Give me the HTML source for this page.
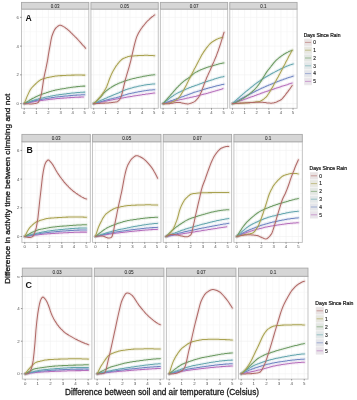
<!DOCTYPE html><html><head><meta charset="utf-8"><style>html,body{margin:0;padding:0;background:#fff;}svg{display:block;filter:blur(0.3px);}</style></head><body>
<svg width="357" height="400" viewBox="0 0 357 400" font-family='"Liberation Sans", sans-serif'>
<rect x="0" y="0" width="357" height="400" fill="#ffffff"/>
<clipPath id="cA0"><rect x="21.50" y="9.10" width="67.30" height="99.20"/></clipPath>
<line x1="24.25" y1="9.10" x2="24.25" y2="108.30" stroke="#F0F0F0" stroke-width="0.6"/><line x1="30.30" y1="9.10" x2="30.30" y2="108.30" stroke="#F6F6F6" stroke-width="0.6"/><line x1="36.35" y1="9.10" x2="36.35" y2="108.30" stroke="#F0F0F0" stroke-width="0.6"/><line x1="42.40" y1="9.10" x2="42.40" y2="108.30" stroke="#F6F6F6" stroke-width="0.6"/><line x1="48.45" y1="9.10" x2="48.45" y2="108.30" stroke="#F0F0F0" stroke-width="0.6"/><line x1="54.50" y1="9.10" x2="54.50" y2="108.30" stroke="#F6F6F6" stroke-width="0.6"/><line x1="60.55" y1="9.10" x2="60.55" y2="108.30" stroke="#F0F0F0" stroke-width="0.6"/><line x1="66.60" y1="9.10" x2="66.60" y2="108.30" stroke="#F6F6F6" stroke-width="0.6"/><line x1="72.65" y1="9.10" x2="72.65" y2="108.30" stroke="#F0F0F0" stroke-width="0.6"/><line x1="78.70" y1="9.10" x2="78.70" y2="108.30" stroke="#F6F6F6" stroke-width="0.6"/><line x1="84.75" y1="9.10" x2="84.75" y2="108.30" stroke="#F0F0F0" stroke-width="0.6"/><line x1="21.50" y1="103.60" x2="88.80" y2="103.60" stroke="#F0F0F0" stroke-width="0.6"/><line x1="21.50" y1="89.22" x2="88.80" y2="89.22" stroke="#F6F6F6" stroke-width="0.6"/><line x1="21.50" y1="74.85" x2="88.80" y2="74.85" stroke="#F0F0F0" stroke-width="0.6"/><line x1="21.50" y1="60.47" x2="88.80" y2="60.47" stroke="#F6F6F6" stroke-width="0.6"/><line x1="21.50" y1="46.10" x2="88.80" y2="46.10" stroke="#F0F0F0" stroke-width="0.6"/><line x1="21.50" y1="31.72" x2="88.80" y2="31.72" stroke="#F6F6F6" stroke-width="0.6"/><line x1="21.50" y1="17.35" x2="88.80" y2="17.35" stroke="#F0F0F0" stroke-width="0.6"/>
<g clip-path="url(#cA0)" fill="none" stroke-linecap="round" stroke-linejoin="round">
<path d="M24.2 103.6 L25.1 103.4 L26.0 103.2 L26.8 103.1 L27.7 102.9 L28.5 102.7 L29.4 102.5 L30.3 102.4 L31.1 102.2 L32.0 102.0 L32.8 101.9 L33.7 101.7 L34.6 101.6 L35.4 101.4 L36.3 101.3 L37.1 101.1 L38.0 101.0 L38.9 100.9 L39.7 100.7 L40.6 100.6 L41.4 100.5 L42.3 100.4 L43.2 100.2 L44.0 100.1 L44.9 100.0 L45.7 99.9 L46.6 99.8 L47.5 99.7 L48.3 99.6 L49.2 99.5 L50.0 99.3 L50.9 99.2 L51.7 99.1 L52.6 99.1 L53.5 99.0 L54.3 98.9 L55.2 98.8 L56.0 98.7 L56.9 98.6 L57.8 98.5 L58.6 98.5 L59.5 98.4 L60.3 98.3 L61.2 98.3 L62.1 98.2 L62.9 98.1 L63.8 98.1 L64.6 98.0 L65.5 98.0 L66.4 97.9 L67.2 97.8 L68.1 97.8 L68.9 97.7 L69.8 97.6 L70.7 97.6 L71.5 97.5 L72.4 97.5 L73.2 97.4 L74.1 97.4 L74.9 97.3 L75.8 97.3 L76.7 97.2 L77.5 97.2 L78.4 97.2 L79.2 97.1 L80.1 97.1 L81.0 97.1 L81.8 97.0 L82.7 97.0 L83.5 97.0" stroke="#B66FBC" stroke-opacity="0.13" stroke-width="3.4"/>
<path d="M24.2 103.6 L25.1 103.4 L26.0 103.1 L26.8 102.9 L27.7 102.6 L28.6 102.4 L29.4 102.1 L30.3 101.9 L31.2 101.7 L32.0 101.5 L32.9 101.2 L33.8 101.0 L34.6 100.8 L35.5 100.6 L36.4 100.4 L37.2 100.2 L38.1 100.0 L38.9 99.9 L39.8 99.7 L40.7 99.5 L41.5 99.4 L42.4 99.2 L43.3 99.1 L44.1 98.9 L45.0 98.8 L45.9 98.6 L46.7 98.5 L47.6 98.3 L48.5 98.2 L49.3 98.0 L50.2 97.9 L51.0 97.8 L51.9 97.6 L52.8 97.5 L53.6 97.4 L54.5 97.3 L55.4 97.1 L56.2 97.0 L57.1 96.9 L58.0 96.8 L58.8 96.7 L59.7 96.7 L60.5 96.6 L61.4 96.5 L62.3 96.4 L63.1 96.3 L64.0 96.2 L64.9 96.1 L65.7 96.0 L66.6 96.0 L67.5 95.9 L68.3 95.8 L69.2 95.7 L70.1 95.6 L70.9 95.6 L71.8 95.5 L72.7 95.4 L73.5 95.3 L74.4 95.3 L75.2 95.2 L76.1 95.1 L77.0 95.1 L77.8 95.0 L78.7 95.0 L79.6 94.9 L80.4 94.9 L81.3 94.8 L82.2 94.8 L83.0 94.7 L83.9 94.7 L84.8 94.7" stroke="#7085C2" stroke-opacity="0.13" stroke-width="3.4"/>
<path d="M24.2 103.6 L25.1 103.3 L26.0 103.0 L26.8 102.6 L27.7 102.3 L28.6 102.0 L29.4 101.7 L30.3 101.4 L31.2 101.1 L32.0 100.8 L32.9 100.5 L33.8 100.3 L34.6 100.0 L35.5 99.7 L36.4 99.5 L37.2 99.2 L38.1 99.0 L38.9 98.8 L39.8 98.6 L40.7 98.3 L41.5 98.1 L42.4 97.9 L43.3 97.7 L44.1 97.5 L45.0 97.3 L45.9 97.1 L46.7 96.9 L47.6 96.8 L48.5 96.6 L49.3 96.4 L50.2 96.2 L51.0 96.0 L51.9 95.9 L52.8 95.7 L53.6 95.6 L54.5 95.4 L55.4 95.3 L56.2 95.1 L57.1 95.0 L58.0 94.9 L58.8 94.7 L59.7 94.6 L60.5 94.5 L61.4 94.4 L62.3 94.3 L63.1 94.2 L64.0 94.1 L64.9 94.0 L65.7 93.9 L66.6 93.7 L67.5 93.6 L68.3 93.5 L69.2 93.4 L70.1 93.3 L70.9 93.2 L71.8 93.1 L72.7 93.0 L73.5 92.9 L74.4 92.9 L75.2 92.8 L76.1 92.7 L77.0 92.6 L77.8 92.5 L78.7 92.5 L79.6 92.4 L80.4 92.3 L81.3 92.3 L82.2 92.2 L83.0 92.2 L83.9 92.1 L84.8 92.1" stroke="#64A6AE" stroke-opacity="0.13" stroke-width="3.4"/>
<path d="M24.2 103.6 L25.1 103.0 L26.0 102.5 L26.8 102.0 L27.7 101.4 L28.6 100.9 L29.4 100.3 L30.3 99.8 L31.2 99.3 L32.0 98.8 L32.9 98.3 L33.8 97.9 L34.6 97.4 L35.5 97.0 L36.4 96.6 L37.2 96.2 L38.1 95.8 L38.9 95.4 L39.8 95.1 L40.7 94.8 L41.5 94.5 L42.4 94.1 L43.3 93.8 L44.1 93.5 L45.0 93.2 L45.9 92.9 L46.7 92.6 L47.6 92.4 L48.5 92.1 L49.3 91.8 L50.2 91.5 L51.0 91.3 L51.9 91.0 L52.8 90.8 L53.6 90.6 L54.5 90.4 L55.4 90.1 L56.2 90.0 L57.1 89.8 L58.0 89.6 L58.8 89.4 L59.7 89.3 L60.5 89.1 L61.4 89.0 L62.3 88.8 L63.1 88.7 L64.0 88.6 L64.9 88.4 L65.7 88.3 L66.6 88.1 L67.5 88.0 L68.3 87.8 L69.2 87.7 L70.1 87.6 L70.9 87.4 L71.8 87.3 L72.7 87.2 L73.5 87.1 L74.4 87.0 L75.2 86.9 L76.1 86.7 L77.0 86.6 L77.8 86.6 L78.7 86.5 L79.6 86.4 L80.4 86.3 L81.3 86.2 L82.2 86.2 L83.0 86.1 L83.9 86.1 L84.8 86.1" stroke="#6C9A62" stroke-opacity="0.13" stroke-width="3.4"/>
<path d="M24.2 103.6 L25.1 101.4 L26.0 99.2 L26.8 97.1 L27.7 95.1 L28.6 93.1 L29.4 91.4 L30.3 89.8 L31.2 88.5 L32.0 87.5 L32.9 86.6 L33.8 85.7 L34.6 84.8 L35.5 84.0 L36.4 83.2 L37.2 82.4 L38.1 81.6 L38.9 81.0 L39.8 80.4 L40.7 79.8 L41.5 79.4 L42.4 79.0 L43.3 78.7 L44.1 78.5 L45.0 78.3 L45.9 78.1 L46.7 77.8 L47.6 77.6 L48.5 77.4 L49.3 77.2 L50.2 77.0 L51.0 76.9 L51.9 76.7 L52.8 76.5 L53.6 76.4 L54.5 76.2 L55.4 76.1 L56.2 76.0 L57.1 75.9 L58.0 75.8 L58.8 75.7 L59.7 75.7 L60.5 75.6 L61.4 75.6 L62.3 75.6 L63.1 75.5 L64.0 75.5 L64.9 75.4 L65.7 75.4 L66.6 75.3 L67.5 75.3 L68.3 75.3 L69.2 75.2 L70.1 75.2 L70.9 75.2 L71.8 75.1 L72.7 75.1 L73.5 75.1 L74.4 75.1 L75.2 75.0 L76.1 75.0 L77.0 75.0 L77.8 75.0 L78.7 75.0 L79.6 75.0 L80.4 75.0 L81.3 75.0 L82.2 75.1 L83.0 75.1 L83.9 75.1 L84.8 75.1" stroke="#A9A250" stroke-opacity="0.13" stroke-width="3.4"/>
<path d="M24.2 103.6 L25.1 103.7 L26.0 103.7 L26.8 103.8 L27.7 103.8 L28.6 103.8 L29.4 103.9 L30.3 103.9 L31.2 103.9 L32.0 103.9 L32.9 103.8 L33.8 103.7 L34.6 103.6 L35.5 103.4 L36.3 103.2 L37.2 103.0 L38.1 102.6 L38.9 101.3 L39.8 99.3 L40.7 96.7 L41.5 93.5 L42.4 87.9 L43.3 81.7 L44.1 76.9 L45.0 72.7 L45.9 68.7 L46.7 64.6 L47.6 60.2 L48.4 54.9 L49.3 49.6 L50.2 44.8 L51.0 40.1 L51.9 36.2 L52.8 33.7 L53.6 31.7 L54.5 29.9 L55.4 28.6 L56.2 27.6 L57.1 26.9 L57.9 26.2 L58.8 25.6 L59.7 25.3 L60.5 25.3 L61.4 25.6 L62.3 25.9 L63.1 26.4 L64.0 26.9 L64.9 27.4 L65.7 28.1 L66.6 28.7 L67.5 29.4 L68.3 30.2 L69.2 30.9 L70.0 31.7 L70.9 32.6 L71.8 33.4 L72.6 34.3 L73.5 35.1 L74.4 36.0 L75.2 36.9 L76.1 37.7 L77.0 38.6 L77.8 39.5 L78.7 40.5 L79.5 41.4 L80.4 42.3 L81.3 43.3 L82.1 44.3 L83.0 45.3 L83.9 46.2 L84.7 47.2 L85.6 48.3" stroke="#B06A68" stroke-opacity="0.13" stroke-width="3.4"/>
<path d="M24.2 103.6 L25.1 103.4 L26.0 103.2 L26.8 103.1 L27.7 102.9 L28.5 102.7 L29.4 102.5 L30.3 102.4 L31.1 102.2 L32.0 102.0 L32.8 101.9 L33.7 101.7 L34.6 101.6 L35.4 101.4 L36.3 101.3 L37.1 101.1 L38.0 101.0 L38.9 100.9 L39.7 100.7 L40.6 100.6 L41.4 100.5 L42.3 100.4 L43.2 100.2 L44.0 100.1 L44.9 100.0 L45.7 99.9 L46.6 99.8 L47.5 99.7 L48.3 99.6 L49.2 99.5 L50.0 99.3 L50.9 99.2 L51.7 99.1 L52.6 99.1 L53.5 99.0 L54.3 98.9 L55.2 98.8 L56.0 98.7 L56.9 98.6 L57.8 98.5 L58.6 98.5 L59.5 98.4 L60.3 98.3 L61.2 98.3 L62.1 98.2 L62.9 98.1 L63.8 98.1 L64.6 98.0 L65.5 98.0 L66.4 97.9 L67.2 97.8 L68.1 97.8 L68.9 97.7 L69.8 97.6 L70.7 97.6 L71.5 97.5 L72.4 97.5 L73.2 97.4 L74.1 97.4 L74.9 97.3 L75.8 97.3 L76.7 97.2 L77.5 97.2 L78.4 97.2 L79.2 97.1 L80.1 97.1 L81.0 97.1 L81.8 97.0 L82.7 97.0 L83.5 97.0" stroke="#B66FBC" stroke-width="1.05"/>
<path d="M24.2 103.6 L25.1 103.4 L26.0 103.1 L26.8 102.9 L27.7 102.6 L28.6 102.4 L29.4 102.1 L30.3 101.9 L31.2 101.7 L32.0 101.5 L32.9 101.2 L33.8 101.0 L34.6 100.8 L35.5 100.6 L36.4 100.4 L37.2 100.2 L38.1 100.0 L38.9 99.9 L39.8 99.7 L40.7 99.5 L41.5 99.4 L42.4 99.2 L43.3 99.1 L44.1 98.9 L45.0 98.8 L45.9 98.6 L46.7 98.5 L47.6 98.3 L48.5 98.2 L49.3 98.0 L50.2 97.9 L51.0 97.8 L51.9 97.6 L52.8 97.5 L53.6 97.4 L54.5 97.3 L55.4 97.1 L56.2 97.0 L57.1 96.9 L58.0 96.8 L58.8 96.7 L59.7 96.7 L60.5 96.6 L61.4 96.5 L62.3 96.4 L63.1 96.3 L64.0 96.2 L64.9 96.1 L65.7 96.0 L66.6 96.0 L67.5 95.9 L68.3 95.8 L69.2 95.7 L70.1 95.6 L70.9 95.6 L71.8 95.5 L72.7 95.4 L73.5 95.3 L74.4 95.3 L75.2 95.2 L76.1 95.1 L77.0 95.1 L77.8 95.0 L78.7 95.0 L79.6 94.9 L80.4 94.9 L81.3 94.8 L82.2 94.8 L83.0 94.7 L83.9 94.7 L84.8 94.7" stroke="#7085C2" stroke-width="1.05"/>
<path d="M24.2 103.6 L25.1 103.3 L26.0 103.0 L26.8 102.6 L27.7 102.3 L28.6 102.0 L29.4 101.7 L30.3 101.4 L31.2 101.1 L32.0 100.8 L32.9 100.5 L33.8 100.3 L34.6 100.0 L35.5 99.7 L36.4 99.5 L37.2 99.2 L38.1 99.0 L38.9 98.8 L39.8 98.6 L40.7 98.3 L41.5 98.1 L42.4 97.9 L43.3 97.7 L44.1 97.5 L45.0 97.3 L45.9 97.1 L46.7 96.9 L47.6 96.8 L48.5 96.6 L49.3 96.4 L50.2 96.2 L51.0 96.0 L51.9 95.9 L52.8 95.7 L53.6 95.6 L54.5 95.4 L55.4 95.3 L56.2 95.1 L57.1 95.0 L58.0 94.9 L58.8 94.7 L59.7 94.6 L60.5 94.5 L61.4 94.4 L62.3 94.3 L63.1 94.2 L64.0 94.1 L64.9 94.0 L65.7 93.9 L66.6 93.7 L67.5 93.6 L68.3 93.5 L69.2 93.4 L70.1 93.3 L70.9 93.2 L71.8 93.1 L72.7 93.0 L73.5 92.9 L74.4 92.9 L75.2 92.8 L76.1 92.7 L77.0 92.6 L77.8 92.5 L78.7 92.5 L79.6 92.4 L80.4 92.3 L81.3 92.3 L82.2 92.2 L83.0 92.2 L83.9 92.1 L84.8 92.1" stroke="#64A6AE" stroke-width="1.05"/>
<path d="M24.2 103.6 L25.1 103.0 L26.0 102.5 L26.8 102.0 L27.7 101.4 L28.6 100.9 L29.4 100.3 L30.3 99.8 L31.2 99.3 L32.0 98.8 L32.9 98.3 L33.8 97.9 L34.6 97.4 L35.5 97.0 L36.4 96.6 L37.2 96.2 L38.1 95.8 L38.9 95.4 L39.8 95.1 L40.7 94.8 L41.5 94.5 L42.4 94.1 L43.3 93.8 L44.1 93.5 L45.0 93.2 L45.9 92.9 L46.7 92.6 L47.6 92.4 L48.5 92.1 L49.3 91.8 L50.2 91.5 L51.0 91.3 L51.9 91.0 L52.8 90.8 L53.6 90.6 L54.5 90.4 L55.4 90.1 L56.2 90.0 L57.1 89.8 L58.0 89.6 L58.8 89.4 L59.7 89.3 L60.5 89.1 L61.4 89.0 L62.3 88.8 L63.1 88.7 L64.0 88.6 L64.9 88.4 L65.7 88.3 L66.6 88.1 L67.5 88.0 L68.3 87.8 L69.2 87.7 L70.1 87.6 L70.9 87.4 L71.8 87.3 L72.7 87.2 L73.5 87.1 L74.4 87.0 L75.2 86.9 L76.1 86.7 L77.0 86.6 L77.8 86.6 L78.7 86.5 L79.6 86.4 L80.4 86.3 L81.3 86.2 L82.2 86.2 L83.0 86.1 L83.9 86.1 L84.8 86.1" stroke="#6C9A62" stroke-width="1.05"/>
<path d="M24.2 103.6 L25.1 101.4 L26.0 99.2 L26.8 97.1 L27.7 95.1 L28.6 93.1 L29.4 91.4 L30.3 89.8 L31.2 88.5 L32.0 87.5 L32.9 86.6 L33.8 85.7 L34.6 84.8 L35.5 84.0 L36.4 83.2 L37.2 82.4 L38.1 81.6 L38.9 81.0 L39.8 80.4 L40.7 79.8 L41.5 79.4 L42.4 79.0 L43.3 78.7 L44.1 78.5 L45.0 78.3 L45.9 78.1 L46.7 77.8 L47.6 77.6 L48.5 77.4 L49.3 77.2 L50.2 77.0 L51.0 76.9 L51.9 76.7 L52.8 76.5 L53.6 76.4 L54.5 76.2 L55.4 76.1 L56.2 76.0 L57.1 75.9 L58.0 75.8 L58.8 75.7 L59.7 75.7 L60.5 75.6 L61.4 75.6 L62.3 75.6 L63.1 75.5 L64.0 75.5 L64.9 75.4 L65.7 75.4 L66.6 75.3 L67.5 75.3 L68.3 75.3 L69.2 75.2 L70.1 75.2 L70.9 75.2 L71.8 75.1 L72.7 75.1 L73.5 75.1 L74.4 75.1 L75.2 75.0 L76.1 75.0 L77.0 75.0 L77.8 75.0 L78.7 75.0 L79.6 75.0 L80.4 75.0 L81.3 75.0 L82.2 75.1 L83.0 75.1 L83.9 75.1 L84.8 75.1" stroke="#A9A250" stroke-width="1.05"/>
<path d="M24.2 103.6 L25.1 103.7 L26.0 103.7 L26.8 103.8 L27.7 103.8 L28.6 103.8 L29.4 103.9 L30.3 103.9 L31.2 103.9 L32.0 103.9 L32.9 103.8 L33.8 103.7 L34.6 103.6 L35.5 103.4 L36.3 103.2 L37.2 103.0 L38.1 102.6 L38.9 101.3 L39.8 99.3 L40.7 96.7 L41.5 93.5 L42.4 87.9 L43.3 81.7 L44.1 76.9 L45.0 72.7 L45.9 68.7 L46.7 64.6 L47.6 60.2 L48.4 54.9 L49.3 49.6 L50.2 44.8 L51.0 40.1 L51.9 36.2 L52.8 33.7 L53.6 31.7 L54.5 29.9 L55.4 28.6 L56.2 27.6 L57.1 26.9 L57.9 26.2 L58.8 25.6 L59.7 25.3 L60.5 25.3 L61.4 25.6 L62.3 25.9 L63.1 26.4 L64.0 26.9 L64.9 27.4 L65.7 28.1 L66.6 28.7 L67.5 29.4 L68.3 30.2 L69.2 30.9 L70.0 31.7 L70.9 32.6 L71.8 33.4 L72.6 34.3 L73.5 35.1 L74.4 36.0 L75.2 36.9 L76.1 37.7 L77.0 38.6 L77.8 39.5 L78.7 40.5 L79.5 41.4 L80.4 42.3 L81.3 43.3 L82.1 44.3 L83.0 45.3 L83.9 46.2 L84.7 47.2 L85.6 48.3" stroke="#B06A68" stroke-width="1.05"/>
</g>
<rect x="21.50" y="9.10" width="67.30" height="99.20" fill="none" stroke="#BDBDBD" stroke-width="0.9"/>
<rect x="21.50" y="2.40" width="67.30" height="6.70" fill="#D6D6D6" stroke="#A8A8A8" stroke-width="0.9"/>
<text x="55.15" y="7.75" font-size="4.50" fill="#2a2a2a" stroke="#2a2a2a" stroke-width="0.06" text-anchor="middle">0.03</text>
<line x1="24.25" y1="108.30" x2="24.25" y2="109.70" stroke="#4D4D4D" stroke-width="0.6"/><text x="24.25" y="114.20" font-size="4.20" fill="#505050" text-anchor="middle">0</text><line x1="36.35" y1="108.30" x2="36.35" y2="109.70" stroke="#4D4D4D" stroke-width="0.6"/><text x="36.35" y="114.20" font-size="4.20" fill="#505050" text-anchor="middle">1</text><line x1="48.45" y1="108.30" x2="48.45" y2="109.70" stroke="#4D4D4D" stroke-width="0.6"/><text x="48.45" y="114.20" font-size="4.20" fill="#505050" text-anchor="middle">2</text><line x1="60.55" y1="108.30" x2="60.55" y2="109.70" stroke="#4D4D4D" stroke-width="0.6"/><text x="60.55" y="114.20" font-size="4.20" fill="#505050" text-anchor="middle">3</text><line x1="72.65" y1="108.30" x2="72.65" y2="109.70" stroke="#4D4D4D" stroke-width="0.6"/><text x="72.65" y="114.20" font-size="4.20" fill="#505050" text-anchor="middle">4</text><line x1="84.75" y1="108.30" x2="84.75" y2="109.70" stroke="#4D4D4D" stroke-width="0.6"/><text x="84.75" y="114.20" font-size="4.20" fill="#505050" text-anchor="middle">5</text>
<line x1="20.10" y1="103.60" x2="21.50" y2="103.60" stroke="#4D4D4D" stroke-width="0.6"/><text x="17.70" y="105.10" font-size="4.20" fill="#505050" text-anchor="middle">0</text><line x1="20.10" y1="74.85" x2="21.50" y2="74.85" stroke="#4D4D4D" stroke-width="0.6"/><text x="17.70" y="76.35" font-size="4.20" fill="#505050" text-anchor="middle">2</text><line x1="20.10" y1="46.10" x2="21.50" y2="46.10" stroke="#4D4D4D" stroke-width="0.6"/><text x="17.70" y="47.60" font-size="4.20" fill="#505050" text-anchor="middle">4</text><line x1="20.10" y1="17.35" x2="21.50" y2="17.35" stroke="#4D4D4D" stroke-width="0.6"/><text x="17.70" y="18.85" font-size="4.20" fill="#505050" text-anchor="middle">6</text>
<text x="25.60" y="20.90" font-size="8.60" font-weight="bold" fill="#111">A</text>
<clipPath id="cA1"><rect x="90.93" y="9.10" width="67.30" height="99.20"/></clipPath>
<line x1="93.68" y1="9.10" x2="93.68" y2="108.30" stroke="#F0F0F0" stroke-width="0.6"/><line x1="99.73" y1="9.10" x2="99.73" y2="108.30" stroke="#F6F6F6" stroke-width="0.6"/><line x1="105.78" y1="9.10" x2="105.78" y2="108.30" stroke="#F0F0F0" stroke-width="0.6"/><line x1="111.83" y1="9.10" x2="111.83" y2="108.30" stroke="#F6F6F6" stroke-width="0.6"/><line x1="117.88" y1="9.10" x2="117.88" y2="108.30" stroke="#F0F0F0" stroke-width="0.6"/><line x1="123.93" y1="9.10" x2="123.93" y2="108.30" stroke="#F6F6F6" stroke-width="0.6"/><line x1="129.98" y1="9.10" x2="129.98" y2="108.30" stroke="#F0F0F0" stroke-width="0.6"/><line x1="136.03" y1="9.10" x2="136.03" y2="108.30" stroke="#F6F6F6" stroke-width="0.6"/><line x1="142.08" y1="9.10" x2="142.08" y2="108.30" stroke="#F0F0F0" stroke-width="0.6"/><line x1="148.13" y1="9.10" x2="148.13" y2="108.30" stroke="#F6F6F6" stroke-width="0.6"/><line x1="154.18" y1="9.10" x2="154.18" y2="108.30" stroke="#F0F0F0" stroke-width="0.6"/><line x1="90.93" y1="103.60" x2="158.23" y2="103.60" stroke="#F0F0F0" stroke-width="0.6"/><line x1="90.93" y1="89.22" x2="158.23" y2="89.22" stroke="#F6F6F6" stroke-width="0.6"/><line x1="90.93" y1="74.85" x2="158.23" y2="74.85" stroke="#F0F0F0" stroke-width="0.6"/><line x1="90.93" y1="60.47" x2="158.23" y2="60.47" stroke="#F6F6F6" stroke-width="0.6"/><line x1="90.93" y1="46.10" x2="158.23" y2="46.10" stroke="#F0F0F0" stroke-width="0.6"/><line x1="90.93" y1="31.72" x2="158.23" y2="31.72" stroke="#F6F6F6" stroke-width="0.6"/><line x1="90.93" y1="17.35" x2="158.23" y2="17.35" stroke="#F0F0F0" stroke-width="0.6"/>
<g clip-path="url(#cA1)" fill="none" stroke-linecap="round" stroke-linejoin="round">
<path d="M93.7 103.6 L94.5 103.4 L95.4 103.3 L96.3 103.1 L97.1 102.9 L98.0 102.7 L98.8 102.6 L99.7 102.4 L100.6 102.2 L101.4 102.0 L102.3 101.9 L103.1 101.7 L104.0 101.5 L104.8 101.3 L105.7 101.2 L106.6 101.0 L107.4 100.8 L108.3 100.6 L109.1 100.5 L110.0 100.3 L110.9 100.1 L111.7 99.9 L112.6 99.8 L113.4 99.6 L114.3 99.4 L115.2 99.2 L116.0 99.1 L116.9 98.9 L117.7 98.8 L118.6 98.6 L119.4 98.5 L120.3 98.3 L121.2 98.2 L122.0 98.0 L122.9 97.9 L123.7 97.7 L124.6 97.6 L125.5 97.4 L126.3 97.3 L127.2 97.1 L128.0 97.0 L128.9 96.8 L129.8 96.7 L130.6 96.5 L131.5 96.4 L132.3 96.3 L133.2 96.1 L134.0 96.0 L134.9 95.8 L135.8 95.7 L136.6 95.6 L137.5 95.4 L138.3 95.3 L139.2 95.2 L140.1 95.0 L140.9 94.9 L141.8 94.8 L142.6 94.6 L143.5 94.5 L144.4 94.4 L145.2 94.3 L146.1 94.1 L146.9 94.0 L147.8 93.9 L148.7 93.8 L149.5 93.7 L150.4 93.5 L151.2 93.4 L152.1 93.3 L152.9 93.2 L153.8 93.1 L154.7 93.0" stroke="#B66FBC" stroke-opacity="0.13" stroke-width="3.4"/>
<path d="M93.7 103.6 L94.5 103.4 L95.4 103.1 L96.3 102.9 L97.1 102.6 L98.0 102.4 L98.8 102.1 L99.7 101.9 L100.6 101.7 L101.4 101.4 L102.3 101.2 L103.1 101.0 L104.0 100.7 L104.8 100.5 L105.7 100.3 L106.6 100.0 L107.4 99.8 L108.3 99.6 L109.1 99.4 L110.0 99.1 L110.9 98.9 L111.7 98.7 L112.6 98.5 L113.4 98.3 L114.3 98.1 L115.2 97.9 L116.0 97.7 L116.9 97.4 L117.7 97.2 L118.6 97.0 L119.4 96.7 L120.3 96.4 L121.2 96.2 L122.0 95.9 L122.9 95.6 L123.7 95.3 L124.6 95.1 L125.5 94.8 L126.3 94.5 L127.2 94.3 L128.0 94.0 L128.9 93.8 L129.8 93.6 L130.6 93.4 L131.5 93.2 L132.3 93.0 L133.2 92.9 L134.0 92.7 L134.9 92.5 L135.8 92.3 L136.6 92.2 L137.5 92.0 L138.3 91.8 L139.2 91.7 L140.1 91.5 L140.9 91.4 L141.8 91.2 L142.6 91.1 L143.5 90.9 L144.4 90.8 L145.2 90.7 L146.1 90.6 L146.9 90.4 L147.8 90.3 L148.7 90.2 L149.5 90.1 L150.4 90.0 L151.2 89.9 L152.1 89.9 L152.9 89.8 L153.8 89.7 L154.7 89.7" stroke="#7085C2" stroke-opacity="0.13" stroke-width="3.4"/>
<path d="M93.7 103.6 L94.5 103.2 L95.4 102.8 L96.3 102.4 L97.1 102.0 L98.0 101.7 L98.8 101.3 L99.7 100.9 L100.6 100.5 L101.4 100.1 L102.3 99.8 L103.1 99.4 L104.0 99.0 L104.8 98.6 L105.7 98.3 L106.6 97.9 L107.4 97.5 L108.3 97.1 L109.1 96.8 L110.0 96.4 L110.9 96.1 L111.7 95.7 L112.6 95.3 L113.4 95.0 L114.3 94.6 L115.2 94.3 L116.0 93.9 L116.9 93.6 L117.7 93.2 L118.6 92.9 L119.4 92.5 L120.3 92.1 L121.2 91.7 L122.0 91.3 L122.9 90.9 L123.7 90.5 L124.6 90.2 L125.5 89.8 L126.3 89.5 L127.2 89.2 L128.0 88.9 L128.9 88.7 L129.8 88.5 L130.6 88.2 L131.5 88.0 L132.3 87.8 L133.2 87.5 L134.0 87.3 L134.9 87.1 L135.8 86.9 L136.6 86.7 L137.5 86.5 L138.3 86.3 L139.2 86.1 L140.1 85.9 L140.9 85.8 L141.8 85.6 L142.6 85.4 L143.5 85.3 L144.4 85.1 L145.2 85.0 L146.1 84.8 L146.9 84.7 L147.8 84.6 L148.7 84.5 L149.5 84.4 L150.4 84.3 L151.2 84.2 L152.1 84.1 L152.9 84.0 L153.8 84.0 L154.7 83.9" stroke="#64A6AE" stroke-opacity="0.13" stroke-width="3.4"/>
<path d="M93.7 103.6 L94.5 102.9 L95.4 102.1 L96.3 101.3 L97.1 100.5 L98.0 99.7 L98.8 98.8 L99.7 97.9 L100.6 97.1 L101.4 96.1 L102.3 95.1 L103.1 94.0 L104.0 93.0 L104.8 92.1 L105.7 91.3 L106.6 90.6 L107.4 90.0 L108.3 89.3 L109.1 88.7 L110.0 88.1 L110.9 87.6 L111.7 87.0 L112.6 86.5 L113.4 86.0 L114.3 85.5 L115.2 85.0 L116.0 84.6 L116.9 84.2 L117.7 83.8 L118.6 83.4 L119.4 83.0 L120.3 82.7 L121.2 82.4 L122.0 82.0 L122.9 81.7 L123.7 81.4 L124.6 81.1 L125.5 80.8 L126.3 80.5 L127.2 80.2 L128.0 79.9 L128.9 79.7 L129.8 79.4 L130.6 79.2 L131.5 79.0 L132.3 78.8 L133.2 78.6 L134.0 78.4 L134.9 78.2 L135.8 78.0 L136.6 77.8 L137.5 77.6 L138.3 77.4 L139.2 77.2 L140.1 77.1 L140.9 76.9 L141.8 76.7 L142.6 76.5 L143.5 76.3 L144.4 76.2 L145.2 76.0 L146.1 75.9 L146.9 75.7 L147.8 75.6 L148.7 75.4 L149.5 75.3 L150.4 75.2 L151.2 75.1 L152.1 75.0 L152.9 74.9 L153.8 74.8 L154.7 74.7" stroke="#6C9A62" stroke-opacity="0.13" stroke-width="3.4"/>
<path d="M93.7 103.6 L94.5 102.9 L95.4 102.1 L96.3 101.2 L97.1 100.3 L98.0 99.3 L98.8 98.3 L99.7 97.3 L100.6 96.3 L101.4 95.2 L102.3 94.1 L103.1 92.9 L104.0 91.6 L104.8 90.2 L105.7 88.6 L106.6 86.9 L107.4 84.8 L108.3 82.4 L109.1 80.0 L110.0 77.7 L110.9 75.6 L111.7 73.8 L112.6 72.1 L113.4 70.4 L114.3 68.9 L115.2 67.4 L116.0 66.1 L116.9 65.0 L117.7 63.9 L118.6 62.9 L119.4 61.8 L120.3 60.9 L121.2 60.0 L122.0 59.3 L122.9 58.7 L123.7 58.2 L124.6 57.9 L125.5 57.5 L126.3 57.2 L127.2 56.9 L128.0 56.6 L128.9 56.4 L129.8 56.2 L130.6 56.1 L131.5 56.1 L132.3 56.0 L133.2 55.9 L134.0 55.9 L134.9 55.8 L135.8 55.7 L136.6 55.7 L137.5 55.6 L138.3 55.6 L139.2 55.5 L140.1 55.5 L140.9 55.4 L141.8 55.4 L142.6 55.4 L143.5 55.4 L144.4 55.3 L145.2 55.3 L146.1 55.3 L146.9 55.3 L147.8 55.3 L148.7 55.4 L149.5 55.4 L150.4 55.4 L151.2 55.5 L152.1 55.5 L152.9 55.6 L153.8 55.7 L154.7 55.7" stroke="#A9A250" stroke-opacity="0.13" stroke-width="3.4"/>
<path d="M93.7 103.6 L94.5 103.6 L95.4 103.6 L96.3 103.5 L97.1 103.5 L98.0 103.5 L98.8 103.4 L99.7 103.4 L100.6 103.3 L101.4 103.3 L102.3 103.2 L103.1 103.2 L104.0 103.1 L104.9 103.1 L105.7 103.0 L106.6 103.0 L107.5 102.9 L108.3 102.9 L109.2 102.8 L110.0 102.8 L110.9 102.7 L111.8 102.6 L112.6 102.5 L113.5 102.3 L114.3 102.2 L115.2 102.1 L116.1 102.0 L116.9 101.8 L117.8 101.4 L118.6 100.7 L119.5 99.8 L120.4 98.5 L121.2 96.4 L122.1 93.5 L122.9 89.9 L123.8 86.1 L124.7 82.5 L125.5 79.2 L126.4 76.2 L127.2 73.3 L128.1 70.3 L129.0 67.3 L129.8 64.3 L130.7 61.1 L131.5 57.5 L132.4 53.6 L133.3 49.7 L134.1 46.1 L135.0 42.6 L135.9 39.4 L136.7 36.9 L137.6 35.0 L138.4 33.3 L139.3 31.7 L140.2 30.3 L141.0 29.0 L141.9 27.8 L142.7 26.6 L143.6 25.6 L144.5 24.5 L145.3 23.5 L146.2 22.4 L147.0 21.5 L147.9 20.6 L148.8 19.8 L149.6 19.0 L150.5 18.2 L151.3 17.5 L152.2 16.7 L153.1 16.1 L153.9 15.4 L154.8 14.9" stroke="#B06A68" stroke-opacity="0.13" stroke-width="3.4"/>
<path d="M93.7 103.6 L94.5 103.4 L95.4 103.3 L96.3 103.1 L97.1 102.9 L98.0 102.7 L98.8 102.6 L99.7 102.4 L100.6 102.2 L101.4 102.0 L102.3 101.9 L103.1 101.7 L104.0 101.5 L104.8 101.3 L105.7 101.2 L106.6 101.0 L107.4 100.8 L108.3 100.6 L109.1 100.5 L110.0 100.3 L110.9 100.1 L111.7 99.9 L112.6 99.8 L113.4 99.6 L114.3 99.4 L115.2 99.2 L116.0 99.1 L116.9 98.9 L117.7 98.8 L118.6 98.6 L119.4 98.5 L120.3 98.3 L121.2 98.2 L122.0 98.0 L122.9 97.9 L123.7 97.7 L124.6 97.6 L125.5 97.4 L126.3 97.3 L127.2 97.1 L128.0 97.0 L128.9 96.8 L129.8 96.7 L130.6 96.5 L131.5 96.4 L132.3 96.3 L133.2 96.1 L134.0 96.0 L134.9 95.8 L135.8 95.7 L136.6 95.6 L137.5 95.4 L138.3 95.3 L139.2 95.2 L140.1 95.0 L140.9 94.9 L141.8 94.8 L142.6 94.6 L143.5 94.5 L144.4 94.4 L145.2 94.3 L146.1 94.1 L146.9 94.0 L147.8 93.9 L148.7 93.8 L149.5 93.7 L150.4 93.5 L151.2 93.4 L152.1 93.3 L152.9 93.2 L153.8 93.1 L154.7 93.0" stroke="#B66FBC" stroke-width="1.05"/>
<path d="M93.7 103.6 L94.5 103.4 L95.4 103.1 L96.3 102.9 L97.1 102.6 L98.0 102.4 L98.8 102.1 L99.7 101.9 L100.6 101.7 L101.4 101.4 L102.3 101.2 L103.1 101.0 L104.0 100.7 L104.8 100.5 L105.7 100.3 L106.6 100.0 L107.4 99.8 L108.3 99.6 L109.1 99.4 L110.0 99.1 L110.9 98.9 L111.7 98.7 L112.6 98.5 L113.4 98.3 L114.3 98.1 L115.2 97.9 L116.0 97.7 L116.9 97.4 L117.7 97.2 L118.6 97.0 L119.4 96.7 L120.3 96.4 L121.2 96.2 L122.0 95.9 L122.9 95.6 L123.7 95.3 L124.6 95.1 L125.5 94.8 L126.3 94.5 L127.2 94.3 L128.0 94.0 L128.9 93.8 L129.8 93.6 L130.6 93.4 L131.5 93.2 L132.3 93.0 L133.2 92.9 L134.0 92.7 L134.9 92.5 L135.8 92.3 L136.6 92.2 L137.5 92.0 L138.3 91.8 L139.2 91.7 L140.1 91.5 L140.9 91.4 L141.8 91.2 L142.6 91.1 L143.5 90.9 L144.4 90.8 L145.2 90.7 L146.1 90.6 L146.9 90.4 L147.8 90.3 L148.7 90.2 L149.5 90.1 L150.4 90.0 L151.2 89.9 L152.1 89.9 L152.9 89.8 L153.8 89.7 L154.7 89.7" stroke="#7085C2" stroke-width="1.05"/>
<path d="M93.7 103.6 L94.5 103.2 L95.4 102.8 L96.3 102.4 L97.1 102.0 L98.0 101.7 L98.8 101.3 L99.7 100.9 L100.6 100.5 L101.4 100.1 L102.3 99.8 L103.1 99.4 L104.0 99.0 L104.8 98.6 L105.7 98.3 L106.6 97.9 L107.4 97.5 L108.3 97.1 L109.1 96.8 L110.0 96.4 L110.9 96.1 L111.7 95.7 L112.6 95.3 L113.4 95.0 L114.3 94.6 L115.2 94.3 L116.0 93.9 L116.9 93.6 L117.7 93.2 L118.6 92.9 L119.4 92.5 L120.3 92.1 L121.2 91.7 L122.0 91.3 L122.9 90.9 L123.7 90.5 L124.6 90.2 L125.5 89.8 L126.3 89.5 L127.2 89.2 L128.0 88.9 L128.9 88.7 L129.8 88.5 L130.6 88.2 L131.5 88.0 L132.3 87.8 L133.2 87.5 L134.0 87.3 L134.9 87.1 L135.8 86.9 L136.6 86.7 L137.5 86.5 L138.3 86.3 L139.2 86.1 L140.1 85.9 L140.9 85.8 L141.8 85.6 L142.6 85.4 L143.5 85.3 L144.4 85.1 L145.2 85.0 L146.1 84.8 L146.9 84.7 L147.8 84.6 L148.7 84.5 L149.5 84.4 L150.4 84.3 L151.2 84.2 L152.1 84.1 L152.9 84.0 L153.8 84.0 L154.7 83.9" stroke="#64A6AE" stroke-width="1.05"/>
<path d="M93.7 103.6 L94.5 102.9 L95.4 102.1 L96.3 101.3 L97.1 100.5 L98.0 99.7 L98.8 98.8 L99.7 97.9 L100.6 97.1 L101.4 96.1 L102.3 95.1 L103.1 94.0 L104.0 93.0 L104.8 92.1 L105.7 91.3 L106.6 90.6 L107.4 90.0 L108.3 89.3 L109.1 88.7 L110.0 88.1 L110.9 87.6 L111.7 87.0 L112.6 86.5 L113.4 86.0 L114.3 85.5 L115.2 85.0 L116.0 84.6 L116.9 84.2 L117.7 83.8 L118.6 83.4 L119.4 83.0 L120.3 82.7 L121.2 82.4 L122.0 82.0 L122.9 81.7 L123.7 81.4 L124.6 81.1 L125.5 80.8 L126.3 80.5 L127.2 80.2 L128.0 79.9 L128.9 79.7 L129.8 79.4 L130.6 79.2 L131.5 79.0 L132.3 78.8 L133.2 78.6 L134.0 78.4 L134.9 78.2 L135.8 78.0 L136.6 77.8 L137.5 77.6 L138.3 77.4 L139.2 77.2 L140.1 77.1 L140.9 76.9 L141.8 76.7 L142.6 76.5 L143.5 76.3 L144.4 76.2 L145.2 76.0 L146.1 75.9 L146.9 75.7 L147.8 75.6 L148.7 75.4 L149.5 75.3 L150.4 75.2 L151.2 75.1 L152.1 75.0 L152.9 74.9 L153.8 74.8 L154.7 74.7" stroke="#6C9A62" stroke-width="1.05"/>
<path d="M93.7 103.6 L94.5 102.9 L95.4 102.1 L96.3 101.2 L97.1 100.3 L98.0 99.3 L98.8 98.3 L99.7 97.3 L100.6 96.3 L101.4 95.2 L102.3 94.1 L103.1 92.9 L104.0 91.6 L104.8 90.2 L105.7 88.6 L106.6 86.9 L107.4 84.8 L108.3 82.4 L109.1 80.0 L110.0 77.7 L110.9 75.6 L111.7 73.8 L112.6 72.1 L113.4 70.4 L114.3 68.9 L115.2 67.4 L116.0 66.1 L116.9 65.0 L117.7 63.9 L118.6 62.9 L119.4 61.8 L120.3 60.9 L121.2 60.0 L122.0 59.3 L122.9 58.7 L123.7 58.2 L124.6 57.9 L125.5 57.5 L126.3 57.2 L127.2 56.9 L128.0 56.6 L128.9 56.4 L129.8 56.2 L130.6 56.1 L131.5 56.1 L132.3 56.0 L133.2 55.9 L134.0 55.9 L134.9 55.8 L135.8 55.7 L136.6 55.7 L137.5 55.6 L138.3 55.6 L139.2 55.5 L140.1 55.5 L140.9 55.4 L141.8 55.4 L142.6 55.4 L143.5 55.4 L144.4 55.3 L145.2 55.3 L146.1 55.3 L146.9 55.3 L147.8 55.3 L148.7 55.4 L149.5 55.4 L150.4 55.4 L151.2 55.5 L152.1 55.5 L152.9 55.6 L153.8 55.7 L154.7 55.7" stroke="#A9A250" stroke-width="1.05"/>
<path d="M93.7 103.6 L94.5 103.6 L95.4 103.6 L96.3 103.5 L97.1 103.5 L98.0 103.5 L98.8 103.4 L99.7 103.4 L100.6 103.3 L101.4 103.3 L102.3 103.2 L103.1 103.2 L104.0 103.1 L104.9 103.1 L105.7 103.0 L106.6 103.0 L107.5 102.9 L108.3 102.9 L109.2 102.8 L110.0 102.8 L110.9 102.7 L111.8 102.6 L112.6 102.5 L113.5 102.3 L114.3 102.2 L115.2 102.1 L116.1 102.0 L116.9 101.8 L117.8 101.4 L118.6 100.7 L119.5 99.8 L120.4 98.5 L121.2 96.4 L122.1 93.5 L122.9 89.9 L123.8 86.1 L124.7 82.5 L125.5 79.2 L126.4 76.2 L127.2 73.3 L128.1 70.3 L129.0 67.3 L129.8 64.3 L130.7 61.1 L131.5 57.5 L132.4 53.6 L133.3 49.7 L134.1 46.1 L135.0 42.6 L135.9 39.4 L136.7 36.9 L137.6 35.0 L138.4 33.3 L139.3 31.7 L140.2 30.3 L141.0 29.0 L141.9 27.8 L142.7 26.6 L143.6 25.6 L144.5 24.5 L145.3 23.5 L146.2 22.4 L147.0 21.5 L147.9 20.6 L148.8 19.8 L149.6 19.0 L150.5 18.2 L151.3 17.5 L152.2 16.7 L153.1 16.1 L153.9 15.4 L154.8 14.9" stroke="#B06A68" stroke-width="1.05"/>
</g>
<rect x="90.93" y="9.10" width="67.30" height="99.20" fill="none" stroke="#BDBDBD" stroke-width="0.9"/>
<rect x="90.93" y="2.40" width="67.30" height="6.70" fill="#D6D6D6" stroke="#A8A8A8" stroke-width="0.9"/>
<text x="124.58" y="7.75" font-size="4.50" fill="#2a2a2a" stroke="#2a2a2a" stroke-width="0.06" text-anchor="middle">0.05</text>
<line x1="93.68" y1="108.30" x2="93.68" y2="109.70" stroke="#4D4D4D" stroke-width="0.6"/><text x="93.68" y="114.20" font-size="4.20" fill="#505050" text-anchor="middle">0</text><line x1="105.78" y1="108.30" x2="105.78" y2="109.70" stroke="#4D4D4D" stroke-width="0.6"/><text x="105.78" y="114.20" font-size="4.20" fill="#505050" text-anchor="middle">1</text><line x1="117.88" y1="108.30" x2="117.88" y2="109.70" stroke="#4D4D4D" stroke-width="0.6"/><text x="117.88" y="114.20" font-size="4.20" fill="#505050" text-anchor="middle">2</text><line x1="129.98" y1="108.30" x2="129.98" y2="109.70" stroke="#4D4D4D" stroke-width="0.6"/><text x="129.98" y="114.20" font-size="4.20" fill="#505050" text-anchor="middle">3</text><line x1="142.08" y1="108.30" x2="142.08" y2="109.70" stroke="#4D4D4D" stroke-width="0.6"/><text x="142.08" y="114.20" font-size="4.20" fill="#505050" text-anchor="middle">4</text><line x1="154.18" y1="108.30" x2="154.18" y2="109.70" stroke="#4D4D4D" stroke-width="0.6"/><text x="154.18" y="114.20" font-size="4.20" fill="#505050" text-anchor="middle">5</text>
<clipPath id="cA2"><rect x="160.36" y="9.10" width="67.30" height="99.20"/></clipPath>
<line x1="163.11" y1="9.10" x2="163.11" y2="108.30" stroke="#F0F0F0" stroke-width="0.6"/><line x1="169.16" y1="9.10" x2="169.16" y2="108.30" stroke="#F6F6F6" stroke-width="0.6"/><line x1="175.21" y1="9.10" x2="175.21" y2="108.30" stroke="#F0F0F0" stroke-width="0.6"/><line x1="181.26" y1="9.10" x2="181.26" y2="108.30" stroke="#F6F6F6" stroke-width="0.6"/><line x1="187.31" y1="9.10" x2="187.31" y2="108.30" stroke="#F0F0F0" stroke-width="0.6"/><line x1="193.36" y1="9.10" x2="193.36" y2="108.30" stroke="#F6F6F6" stroke-width="0.6"/><line x1="199.41" y1="9.10" x2="199.41" y2="108.30" stroke="#F0F0F0" stroke-width="0.6"/><line x1="205.46" y1="9.10" x2="205.46" y2="108.30" stroke="#F6F6F6" stroke-width="0.6"/><line x1="211.51" y1="9.10" x2="211.51" y2="108.30" stroke="#F0F0F0" stroke-width="0.6"/><line x1="217.56" y1="9.10" x2="217.56" y2="108.30" stroke="#F6F6F6" stroke-width="0.6"/><line x1="223.61" y1="9.10" x2="223.61" y2="108.30" stroke="#F0F0F0" stroke-width="0.6"/><line x1="160.36" y1="103.60" x2="227.66" y2="103.60" stroke="#F0F0F0" stroke-width="0.6"/><line x1="160.36" y1="89.22" x2="227.66" y2="89.22" stroke="#F6F6F6" stroke-width="0.6"/><line x1="160.36" y1="74.85" x2="227.66" y2="74.85" stroke="#F0F0F0" stroke-width="0.6"/><line x1="160.36" y1="60.47" x2="227.66" y2="60.47" stroke="#F6F6F6" stroke-width="0.6"/><line x1="160.36" y1="46.10" x2="227.66" y2="46.10" stroke="#F0F0F0" stroke-width="0.6"/><line x1="160.36" y1="31.72" x2="227.66" y2="31.72" stroke="#F6F6F6" stroke-width="0.6"/><line x1="160.36" y1="17.35" x2="227.66" y2="17.35" stroke="#F0F0F0" stroke-width="0.6"/>
<g clip-path="url(#cA2)" fill="none" stroke-linecap="round" stroke-linejoin="round">
<path d="M163.1 103.6 L164.0 103.4 L164.8 103.2 L165.7 103.0 L166.6 102.8 L167.5 102.6 L168.3 102.4 L169.2 102.2 L170.1 102.0 L170.9 101.8 L171.8 101.6 L172.7 101.4 L173.5 101.2 L174.4 101.0 L175.3 100.8 L176.1 100.6 L177.0 100.4 L177.9 100.2 L178.7 100.0 L179.6 99.8 L180.5 99.6 L181.3 99.4 L182.2 99.3 L183.1 99.1 L183.9 98.9 L184.8 98.7 L185.7 98.5 L186.5 98.3 L187.4 98.1 L188.3 97.9 L189.2 97.7 L190.0 97.5 L190.9 97.3 L191.8 97.2 L192.6 97.0 L193.5 96.8 L194.4 96.6 L195.2 96.4 L196.1 96.2 L197.0 95.9 L197.8 95.7 L198.7 95.5 L199.6 95.3 L200.4 95.1 L201.3 94.8 L202.2 94.6 L203.0 94.4 L203.9 94.1 L204.8 93.9 L205.6 93.7 L206.5 93.4 L207.4 93.2 L208.2 93.0 L209.1 92.7 L210.0 92.5 L210.9 92.2 L211.7 92.0 L212.6 91.7 L213.5 91.5 L214.3 91.2 L215.2 91.0 L216.1 90.7 L216.9 90.5 L217.8 90.2 L218.7 90.0 L219.5 89.7 L220.4 89.4 L221.3 89.2 L222.1 88.9 L223.0 88.6" stroke="#B66FBC" stroke-opacity="0.13" stroke-width="3.4"/>
<path d="M163.1 103.6 L164.0 103.3 L164.8 103.0 L165.7 102.7 L166.6 102.4 L167.4 102.1 L168.3 101.8 L169.2 101.4 L170.1 101.1 L170.9 100.8 L171.8 100.5 L172.7 100.2 L173.5 99.9 L174.4 99.6 L175.3 99.3 L176.1 99.0 L177.0 98.6 L177.9 98.3 L178.7 98.0 L179.6 97.7 L180.5 97.4 L181.3 97.1 L182.2 96.8 L183.1 96.5 L183.9 96.2 L184.8 95.8 L185.7 95.5 L186.5 95.2 L187.4 94.9 L188.3 94.6 L189.1 94.2 L190.0 93.9 L190.9 93.6 L191.7 93.3 L192.6 92.9 L193.5 92.6 L194.3 92.3 L195.2 92.0 L196.1 91.8 L197.0 91.5 L197.8 91.2 L198.7 91.0 L199.6 90.7 L200.4 90.4 L201.3 90.2 L202.2 89.9 L203.0 89.6 L203.9 89.4 L204.8 89.1 L205.6 88.9 L206.5 88.6 L207.4 88.4 L208.2 88.1 L209.1 87.9 L210.0 87.6 L210.8 87.4 L211.7 87.2 L212.6 86.9 L213.4 86.7 L214.3 86.5 L215.2 86.3 L216.0 86.0 L216.9 85.8 L217.8 85.6 L218.6 85.4 L219.5 85.2 L220.4 85.0 L221.2 84.8 L222.1 84.6 L223.0 84.4 L223.9 84.2" stroke="#7085C2" stroke-opacity="0.13" stroke-width="3.4"/>
<path d="M163.1 103.6 L164.0 102.9 L164.8 102.1 L165.7 101.4 L166.6 100.7 L167.4 100.0 L168.3 99.3 L169.2 98.6 L170.1 97.9 L170.9 97.3 L171.8 96.7 L172.7 96.1 L173.5 95.5 L174.4 94.9 L175.3 94.4 L176.1 93.9 L177.0 93.4 L177.9 92.9 L178.7 92.5 L179.6 92.1 L180.5 91.7 L181.3 91.2 L182.2 90.8 L183.1 90.4 L183.9 90.0 L184.8 89.7 L185.7 89.3 L186.5 88.9 L187.4 88.6 L188.3 88.2 L189.1 87.8 L190.0 87.5 L190.9 87.2 L191.7 86.8 L192.6 86.5 L193.5 86.2 L194.3 85.9 L195.2 85.6 L196.1 85.3 L197.0 85.0 L197.8 84.7 L198.7 84.4 L199.6 84.0 L200.4 83.7 L201.3 83.4 L202.2 83.1 L203.0 82.8 L203.9 82.5 L204.8 82.2 L205.6 81.9 L206.5 81.6 L207.4 81.4 L208.2 81.1 L209.1 80.8 L210.0 80.5 L210.8 80.2 L211.7 79.9 L212.6 79.7 L213.4 79.4 L214.3 79.1 L215.2 78.8 L216.0 78.6 L216.9 78.3 L217.8 78.1 L218.6 77.8 L219.5 77.6 L220.4 77.3 L221.2 77.1 L222.1 76.9 L223.0 76.7 L223.9 76.4" stroke="#64A6AE" stroke-opacity="0.13" stroke-width="3.4"/>
<path d="M163.1 103.6 L164.0 102.6 L164.8 101.6 L165.7 100.6 L166.6 99.6 L167.4 98.6 L168.3 97.6 L169.2 96.6 L170.1 95.6 L170.9 94.6 L171.8 93.6 L172.7 92.6 L173.5 91.6 L174.4 90.6 L175.3 89.6 L176.1 88.7 L177.0 87.7 L177.9 86.8 L178.7 85.9 L179.6 85.1 L180.5 84.2 L181.3 83.4 L182.2 82.6 L183.1 81.8 L183.9 81.1 L184.8 80.5 L185.7 79.8 L186.5 79.3 L187.4 78.7 L188.3 78.1 L189.1 77.5 L190.0 76.8 L190.9 76.0 L191.7 75.3 L192.6 74.5 L193.5 73.8 L194.3 73.1 L195.2 72.6 L196.1 72.1 L197.0 71.7 L197.8 71.2 L198.7 70.8 L199.6 70.4 L200.4 70.0 L201.3 69.6 L202.2 69.3 L203.0 68.9 L203.9 68.6 L204.8 68.2 L205.6 67.9 L206.5 67.6 L207.4 67.3 L208.2 67.0 L209.1 66.7 L210.0 66.5 L210.8 66.2 L211.7 66.0 L212.6 65.7 L213.4 65.4 L214.3 65.2 L215.2 64.9 L216.0 64.7 L216.9 64.4 L217.8 64.2 L218.6 64.0 L219.5 63.8 L220.4 63.6 L221.2 63.4 L222.1 63.2 L223.0 63.0 L223.9 62.9" stroke="#6C9A62" stroke-opacity="0.13" stroke-width="3.4"/>
<path d="M163.1 103.6 L164.0 103.6 L164.8 103.6 L165.7 103.5 L166.6 103.4 L167.4 103.2 L168.3 103.1 L169.2 102.9 L170.0 102.7 L170.9 102.5 L171.8 102.2 L172.6 101.8 L173.5 101.4 L174.3 101.0 L175.2 100.5 L176.1 99.9 L176.9 99.3 L177.8 98.7 L178.7 97.9 L179.5 96.8 L180.4 95.5 L181.3 94.1 L182.1 92.7 L183.0 91.2 L183.9 89.7 L184.7 88.1 L185.6 86.4 L186.5 84.7 L187.3 83.0 L188.2 81.3 L189.0 79.6 L189.9 77.9 L190.8 76.1 L191.6 74.4 L192.5 72.7 L193.4 71.0 L194.2 69.3 L195.1 67.7 L196.0 66.0 L196.8 64.4 L197.7 62.7 L198.6 61.1 L199.4 59.4 L200.3 57.8 L201.1 56.2 L202.0 54.6 L202.9 53.2 L203.7 51.9 L204.6 50.6 L205.5 49.4 L206.3 48.2 L207.2 47.1 L208.1 46.0 L208.9 45.0 L209.8 44.0 L210.7 43.2 L211.5 42.5 L212.4 41.8 L213.3 41.3 L214.1 40.8 L215.0 40.3 L215.8 39.8 L216.7 39.3 L217.6 38.9 L218.4 38.5 L219.3 38.2 L220.2 37.9 L221.0 37.7 L221.9 37.5 L222.8 37.5" stroke="#A9A250" stroke-opacity="0.13" stroke-width="3.4"/>
<path d="M163.1 103.6 L164.0 103.6 L164.8 103.7 L165.7 103.7 L166.5 103.7 L167.4 103.7 L168.3 103.7 L169.1 103.6 L170.0 103.6 L170.8 103.5 L171.7 103.3 L172.6 103.2 L173.4 103.0 L174.3 102.8 L175.1 102.7 L176.0 102.6 L176.9 102.5 L177.7 102.4 L178.6 102.5 L179.4 102.5 L180.3 102.6 L181.1 102.8 L182.0 103.0 L182.9 103.2 L183.7 103.3 L184.6 103.5 L185.4 103.7 L186.3 103.8 L187.2 103.9 L188.0 103.9 L188.9 103.8 L189.7 103.6 L190.6 103.3 L191.5 103.0 L192.3 102.6 L193.2 102.3 L194.0 101.9 L194.9 101.4 L195.7 100.6 L196.6 99.7 L197.5 98.7 L198.3 97.6 L199.2 96.3 L200.0 94.7 L200.9 92.8 L201.8 90.7 L202.6 88.4 L203.5 86.0 L204.3 83.6 L205.2 81.4 L206.1 79.3 L206.9 77.3 L207.8 75.4 L208.6 73.5 L209.5 71.6 L210.4 69.7 L211.2 67.8 L212.1 65.8 L212.9 63.8 L213.8 61.9 L214.6 59.9 L215.5 57.8 L216.4 55.7 L217.2 53.4 L218.1 51.0 L218.9 48.6 L219.8 46.0 L220.7 43.3 L221.5 40.6 L222.4 37.9 L223.2 35.0 L224.1 32.2" stroke="#B06A68" stroke-opacity="0.13" stroke-width="3.4"/>
<path d="M163.1 103.6 L164.0 103.4 L164.8 103.2 L165.7 103.0 L166.6 102.8 L167.5 102.6 L168.3 102.4 L169.2 102.2 L170.1 102.0 L170.9 101.8 L171.8 101.6 L172.7 101.4 L173.5 101.2 L174.4 101.0 L175.3 100.8 L176.1 100.6 L177.0 100.4 L177.9 100.2 L178.7 100.0 L179.6 99.8 L180.5 99.6 L181.3 99.4 L182.2 99.3 L183.1 99.1 L183.9 98.9 L184.8 98.7 L185.7 98.5 L186.5 98.3 L187.4 98.1 L188.3 97.9 L189.2 97.7 L190.0 97.5 L190.9 97.3 L191.8 97.2 L192.6 97.0 L193.5 96.8 L194.4 96.6 L195.2 96.4 L196.1 96.2 L197.0 95.9 L197.8 95.7 L198.7 95.5 L199.6 95.3 L200.4 95.1 L201.3 94.8 L202.2 94.6 L203.0 94.4 L203.9 94.1 L204.8 93.9 L205.6 93.7 L206.5 93.4 L207.4 93.2 L208.2 93.0 L209.1 92.7 L210.0 92.5 L210.9 92.2 L211.7 92.0 L212.6 91.7 L213.5 91.5 L214.3 91.2 L215.2 91.0 L216.1 90.7 L216.9 90.5 L217.8 90.2 L218.7 90.0 L219.5 89.7 L220.4 89.4 L221.3 89.2 L222.1 88.9 L223.0 88.6" stroke="#B66FBC" stroke-width="1.05"/>
<path d="M163.1 103.6 L164.0 103.3 L164.8 103.0 L165.7 102.7 L166.6 102.4 L167.4 102.1 L168.3 101.8 L169.2 101.4 L170.1 101.1 L170.9 100.8 L171.8 100.5 L172.7 100.2 L173.5 99.9 L174.4 99.6 L175.3 99.3 L176.1 99.0 L177.0 98.6 L177.9 98.3 L178.7 98.0 L179.6 97.7 L180.5 97.4 L181.3 97.1 L182.2 96.8 L183.1 96.5 L183.9 96.2 L184.8 95.8 L185.7 95.5 L186.5 95.2 L187.4 94.9 L188.3 94.6 L189.1 94.2 L190.0 93.9 L190.9 93.6 L191.7 93.3 L192.6 92.9 L193.5 92.6 L194.3 92.3 L195.2 92.0 L196.1 91.8 L197.0 91.5 L197.8 91.2 L198.7 91.0 L199.6 90.7 L200.4 90.4 L201.3 90.2 L202.2 89.9 L203.0 89.6 L203.9 89.4 L204.8 89.1 L205.6 88.9 L206.5 88.6 L207.4 88.4 L208.2 88.1 L209.1 87.9 L210.0 87.6 L210.8 87.4 L211.7 87.2 L212.6 86.9 L213.4 86.7 L214.3 86.5 L215.2 86.3 L216.0 86.0 L216.9 85.8 L217.8 85.6 L218.6 85.4 L219.5 85.2 L220.4 85.0 L221.2 84.8 L222.1 84.6 L223.0 84.4 L223.9 84.2" stroke="#7085C2" stroke-width="1.05"/>
<path d="M163.1 103.6 L164.0 102.9 L164.8 102.1 L165.7 101.4 L166.6 100.7 L167.4 100.0 L168.3 99.3 L169.2 98.6 L170.1 97.9 L170.9 97.3 L171.8 96.7 L172.7 96.1 L173.5 95.5 L174.4 94.9 L175.3 94.4 L176.1 93.9 L177.0 93.4 L177.9 92.9 L178.7 92.5 L179.6 92.1 L180.5 91.7 L181.3 91.2 L182.2 90.8 L183.1 90.4 L183.9 90.0 L184.8 89.7 L185.7 89.3 L186.5 88.9 L187.4 88.6 L188.3 88.2 L189.1 87.8 L190.0 87.5 L190.9 87.2 L191.7 86.8 L192.6 86.5 L193.5 86.2 L194.3 85.9 L195.2 85.6 L196.1 85.3 L197.0 85.0 L197.8 84.7 L198.7 84.4 L199.6 84.0 L200.4 83.7 L201.3 83.4 L202.2 83.1 L203.0 82.8 L203.9 82.5 L204.8 82.2 L205.6 81.9 L206.5 81.6 L207.4 81.4 L208.2 81.1 L209.1 80.8 L210.0 80.5 L210.8 80.2 L211.7 79.9 L212.6 79.7 L213.4 79.4 L214.3 79.1 L215.2 78.8 L216.0 78.6 L216.9 78.3 L217.8 78.1 L218.6 77.8 L219.5 77.6 L220.4 77.3 L221.2 77.1 L222.1 76.9 L223.0 76.7 L223.9 76.4" stroke="#64A6AE" stroke-width="1.05"/>
<path d="M163.1 103.6 L164.0 102.6 L164.8 101.6 L165.7 100.6 L166.6 99.6 L167.4 98.6 L168.3 97.6 L169.2 96.6 L170.1 95.6 L170.9 94.6 L171.8 93.6 L172.7 92.6 L173.5 91.6 L174.4 90.6 L175.3 89.6 L176.1 88.7 L177.0 87.7 L177.9 86.8 L178.7 85.9 L179.6 85.1 L180.5 84.2 L181.3 83.4 L182.2 82.6 L183.1 81.8 L183.9 81.1 L184.8 80.5 L185.7 79.8 L186.5 79.3 L187.4 78.7 L188.3 78.1 L189.1 77.5 L190.0 76.8 L190.9 76.0 L191.7 75.3 L192.6 74.5 L193.5 73.8 L194.3 73.1 L195.2 72.6 L196.1 72.1 L197.0 71.7 L197.8 71.2 L198.7 70.8 L199.6 70.4 L200.4 70.0 L201.3 69.6 L202.2 69.3 L203.0 68.9 L203.9 68.6 L204.8 68.2 L205.6 67.9 L206.5 67.6 L207.4 67.3 L208.2 67.0 L209.1 66.7 L210.0 66.5 L210.8 66.2 L211.7 66.0 L212.6 65.7 L213.4 65.4 L214.3 65.2 L215.2 64.9 L216.0 64.7 L216.9 64.4 L217.8 64.2 L218.6 64.0 L219.5 63.8 L220.4 63.6 L221.2 63.4 L222.1 63.2 L223.0 63.0 L223.9 62.9" stroke="#6C9A62" stroke-width="1.05"/>
<path d="M163.1 103.6 L164.0 103.6 L164.8 103.6 L165.7 103.5 L166.6 103.4 L167.4 103.2 L168.3 103.1 L169.2 102.9 L170.0 102.7 L170.9 102.5 L171.8 102.2 L172.6 101.8 L173.5 101.4 L174.3 101.0 L175.2 100.5 L176.1 99.9 L176.9 99.3 L177.8 98.7 L178.7 97.9 L179.5 96.8 L180.4 95.5 L181.3 94.1 L182.1 92.7 L183.0 91.2 L183.9 89.7 L184.7 88.1 L185.6 86.4 L186.5 84.7 L187.3 83.0 L188.2 81.3 L189.0 79.6 L189.9 77.9 L190.8 76.1 L191.6 74.4 L192.5 72.7 L193.4 71.0 L194.2 69.3 L195.1 67.7 L196.0 66.0 L196.8 64.4 L197.7 62.7 L198.6 61.1 L199.4 59.4 L200.3 57.8 L201.1 56.2 L202.0 54.6 L202.9 53.2 L203.7 51.9 L204.6 50.6 L205.5 49.4 L206.3 48.2 L207.2 47.1 L208.1 46.0 L208.9 45.0 L209.8 44.0 L210.7 43.2 L211.5 42.5 L212.4 41.8 L213.3 41.3 L214.1 40.8 L215.0 40.3 L215.8 39.8 L216.7 39.3 L217.6 38.9 L218.4 38.5 L219.3 38.2 L220.2 37.9 L221.0 37.7 L221.9 37.5 L222.8 37.5" stroke="#A9A250" stroke-width="1.05"/>
<path d="M163.1 103.6 L164.0 103.6 L164.8 103.7 L165.7 103.7 L166.5 103.7 L167.4 103.7 L168.3 103.7 L169.1 103.6 L170.0 103.6 L170.8 103.5 L171.7 103.3 L172.6 103.2 L173.4 103.0 L174.3 102.8 L175.1 102.7 L176.0 102.6 L176.9 102.5 L177.7 102.4 L178.6 102.5 L179.4 102.5 L180.3 102.6 L181.1 102.8 L182.0 103.0 L182.9 103.2 L183.7 103.3 L184.6 103.5 L185.4 103.7 L186.3 103.8 L187.2 103.9 L188.0 103.9 L188.9 103.8 L189.7 103.6 L190.6 103.3 L191.5 103.0 L192.3 102.6 L193.2 102.3 L194.0 101.9 L194.9 101.4 L195.7 100.6 L196.6 99.7 L197.5 98.7 L198.3 97.6 L199.2 96.3 L200.0 94.7 L200.9 92.8 L201.8 90.7 L202.6 88.4 L203.5 86.0 L204.3 83.6 L205.2 81.4 L206.1 79.3 L206.9 77.3 L207.8 75.4 L208.6 73.5 L209.5 71.6 L210.4 69.7 L211.2 67.8 L212.1 65.8 L212.9 63.8 L213.8 61.9 L214.6 59.9 L215.5 57.8 L216.4 55.7 L217.2 53.4 L218.1 51.0 L218.9 48.6 L219.8 46.0 L220.7 43.3 L221.5 40.6 L222.4 37.9 L223.2 35.0 L224.1 32.2" stroke="#B06A68" stroke-width="1.05"/>
</g>
<rect x="160.36" y="9.10" width="67.30" height="99.20" fill="none" stroke="#BDBDBD" stroke-width="0.9"/>
<rect x="160.36" y="2.40" width="67.30" height="6.70" fill="#D6D6D6" stroke="#A8A8A8" stroke-width="0.9"/>
<text x="194.01" y="7.75" font-size="4.50" fill="#2a2a2a" stroke="#2a2a2a" stroke-width="0.06" text-anchor="middle">0.07</text>
<line x1="163.11" y1="108.30" x2="163.11" y2="109.70" stroke="#4D4D4D" stroke-width="0.6"/><text x="163.11" y="114.20" font-size="4.20" fill="#505050" text-anchor="middle">0</text><line x1="175.21" y1="108.30" x2="175.21" y2="109.70" stroke="#4D4D4D" stroke-width="0.6"/><text x="175.21" y="114.20" font-size="4.20" fill="#505050" text-anchor="middle">1</text><line x1="187.31" y1="108.30" x2="187.31" y2="109.70" stroke="#4D4D4D" stroke-width="0.6"/><text x="187.31" y="114.20" font-size="4.20" fill="#505050" text-anchor="middle">2</text><line x1="199.41" y1="108.30" x2="199.41" y2="109.70" stroke="#4D4D4D" stroke-width="0.6"/><text x="199.41" y="114.20" font-size="4.20" fill="#505050" text-anchor="middle">3</text><line x1="211.51" y1="108.30" x2="211.51" y2="109.70" stroke="#4D4D4D" stroke-width="0.6"/><text x="211.51" y="114.20" font-size="4.20" fill="#505050" text-anchor="middle">4</text><line x1="223.61" y1="108.30" x2="223.61" y2="109.70" stroke="#4D4D4D" stroke-width="0.6"/><text x="223.61" y="114.20" font-size="4.20" fill="#505050" text-anchor="middle">5</text>
<clipPath id="cA3"><rect x="229.79" y="9.10" width="67.30" height="99.20"/></clipPath>
<line x1="232.54" y1="9.10" x2="232.54" y2="108.30" stroke="#F0F0F0" stroke-width="0.6"/><line x1="238.59" y1="9.10" x2="238.59" y2="108.30" stroke="#F6F6F6" stroke-width="0.6"/><line x1="244.64" y1="9.10" x2="244.64" y2="108.30" stroke="#F0F0F0" stroke-width="0.6"/><line x1="250.69" y1="9.10" x2="250.69" y2="108.30" stroke="#F6F6F6" stroke-width="0.6"/><line x1="256.74" y1="9.10" x2="256.74" y2="108.30" stroke="#F0F0F0" stroke-width="0.6"/><line x1="262.79" y1="9.10" x2="262.79" y2="108.30" stroke="#F6F6F6" stroke-width="0.6"/><line x1="268.84" y1="9.10" x2="268.84" y2="108.30" stroke="#F0F0F0" stroke-width="0.6"/><line x1="274.89" y1="9.10" x2="274.89" y2="108.30" stroke="#F6F6F6" stroke-width="0.6"/><line x1="280.94" y1="9.10" x2="280.94" y2="108.30" stroke="#F0F0F0" stroke-width="0.6"/><line x1="286.99" y1="9.10" x2="286.99" y2="108.30" stroke="#F6F6F6" stroke-width="0.6"/><line x1="293.04" y1="9.10" x2="293.04" y2="108.30" stroke="#F0F0F0" stroke-width="0.6"/><line x1="229.79" y1="103.60" x2="297.09" y2="103.60" stroke="#F0F0F0" stroke-width="0.6"/><line x1="229.79" y1="89.22" x2="297.09" y2="89.22" stroke="#F6F6F6" stroke-width="0.6"/><line x1="229.79" y1="74.85" x2="297.09" y2="74.85" stroke="#F0F0F0" stroke-width="0.6"/><line x1="229.79" y1="60.47" x2="297.09" y2="60.47" stroke="#F6F6F6" stroke-width="0.6"/><line x1="229.79" y1="46.10" x2="297.09" y2="46.10" stroke="#F0F0F0" stroke-width="0.6"/><line x1="229.79" y1="31.72" x2="297.09" y2="31.72" stroke="#F6F6F6" stroke-width="0.6"/><line x1="229.79" y1="17.35" x2="297.09" y2="17.35" stroke="#F0F0F0" stroke-width="0.6"/>
<g clip-path="url(#cA3)" fill="none" stroke-linecap="round" stroke-linejoin="round">
<path d="M232.5 103.6 L233.4 103.3 L234.3 103.0 L235.1 102.7 L236.0 102.4 L236.9 102.1 L237.7 101.8 L238.6 101.4 L239.5 101.1 L240.3 100.8 L241.2 100.5 L242.0 100.2 L242.9 99.9 L243.8 99.6 L244.6 99.3 L245.5 99.0 L246.4 98.7 L247.2 98.4 L248.1 98.1 L249.0 97.7 L249.8 97.4 L250.7 97.1 L251.6 96.8 L252.4 96.5 L253.3 96.2 L254.2 95.9 L255.0 95.5 L255.9 95.2 L256.7 94.9 L257.6 94.6 L258.5 94.3 L259.3 94.0 L260.2 93.7 L261.1 93.3 L261.9 93.0 L262.8 92.7 L263.7 92.4 L264.5 92.1 L265.4 91.8 L266.3 91.5 L267.1 91.2 L268.0 90.9 L268.9 90.6 L269.7 90.3 L270.6 90.0 L271.4 89.8 L272.3 89.5 L273.2 89.2 L274.0 88.9 L274.9 88.6 L275.8 88.3 L276.6 88.0 L277.5 87.7 L278.4 87.5 L279.2 87.2 L280.1 86.9 L281.0 86.6 L281.8 86.3 L282.7 86.0 L283.5 85.8 L284.4 85.5 L285.3 85.2 L286.1 84.9 L287.0 84.7 L287.9 84.4 L288.7 84.1 L289.6 83.8 L290.5 83.6 L291.3 83.3 L292.2 83.0" stroke="#B66FBC" stroke-opacity="0.13" stroke-width="3.4"/>
<path d="M232.5 103.6 L233.4 103.1 L234.3 102.6 L235.1 102.1 L236.0 101.6 L236.9 101.1 L237.7 100.6 L238.6 100.1 L239.5 99.6 L240.3 99.2 L241.2 98.7 L242.1 98.2 L242.9 97.7 L243.8 97.3 L244.7 96.8 L245.5 96.3 L246.4 95.9 L247.3 95.4 L248.1 95.0 L249.0 94.6 L249.9 94.1 L250.7 93.7 L251.6 93.2 L252.5 92.8 L253.3 92.3 L254.2 91.9 L255.1 91.5 L255.9 91.0 L256.8 90.6 L257.7 90.2 L258.5 89.8 L259.4 89.3 L260.3 88.9 L261.1 88.5 L262.0 88.1 L262.9 87.7 L263.7 87.3 L264.6 87.0 L265.4 86.6 L266.3 86.2 L267.2 85.8 L268.0 85.5 L268.9 85.1 L269.8 84.8 L270.6 84.4 L271.5 84.0 L272.4 83.7 L273.2 83.3 L274.1 83.0 L275.0 82.6 L275.8 82.3 L276.7 82.0 L277.6 81.6 L278.4 81.3 L279.3 81.0 L280.2 80.6 L281.0 80.3 L281.9 80.0 L282.8 79.7 L283.6 79.3 L284.5 79.0 L285.4 78.7 L286.2 78.4 L287.1 78.1 L288.0 77.8 L288.8 77.5 L289.7 77.2 L290.6 77.0 L291.4 76.7 L292.3 76.4 L293.2 76.1" stroke="#7085C2" stroke-opacity="0.13" stroke-width="3.4"/>
<path d="M232.5 103.6 L233.4 102.8 L234.3 102.0 L235.1 101.1 L236.0 100.3 L236.9 99.5 L237.7 98.7 L238.6 98.0 L239.5 97.2 L240.3 96.4 L241.2 95.6 L242.1 94.9 L242.9 94.1 L243.8 93.4 L244.7 92.6 L245.5 91.9 L246.4 91.2 L247.3 90.5 L248.1 89.8 L249.0 89.1 L249.9 88.4 L250.7 87.7 L251.6 87.0 L252.5 86.3 L253.3 85.6 L254.2 84.9 L255.1 84.2 L255.9 83.6 L256.8 82.9 L257.7 82.3 L258.5 81.7 L259.4 81.1 L260.3 80.5 L261.1 79.9 L262.0 79.4 L262.9 78.8 L263.7 78.3 L264.6 77.8 L265.4 77.3 L266.3 76.8 L267.2 76.3 L268.0 75.8 L268.9 75.3 L269.8 74.8 L270.6 74.3 L271.5 73.8 L272.4 73.3 L273.2 72.8 L274.1 72.4 L275.0 71.9 L275.8 71.4 L276.7 71.0 L277.6 70.5 L278.4 70.1 L279.3 69.7 L280.2 69.2 L281.0 68.8 L281.9 68.4 L282.8 68.0 L283.6 67.6 L284.5 67.2 L285.4 66.8 L286.2 66.5 L287.1 66.1 L288.0 65.8 L288.8 65.4 L289.7 65.1 L290.6 64.8 L291.4 64.5 L292.3 64.2 L293.2 63.9" stroke="#64A6AE" stroke-opacity="0.13" stroke-width="3.4"/>
<path d="M232.5 103.6 L233.4 103.3 L234.3 103.0 L235.1 102.7 L236.0 102.3 L236.9 101.9 L237.7 101.5 L238.6 101.0 L239.5 100.5 L240.3 100.1 L241.2 99.6 L242.0 99.1 L242.9 98.6 L243.8 98.1 L244.6 97.5 L245.5 96.9 L246.4 96.3 L247.2 95.6 L248.1 95.0 L249.0 94.3 L249.8 93.6 L250.7 92.9 L251.6 92.2 L252.4 91.5 L253.3 90.7 L254.2 89.9 L255.0 89.0 L255.9 88.0 L256.7 87.1 L257.6 86.0 L258.5 84.9 L259.3 83.7 L260.2 82.4 L261.1 81.1 L261.9 79.8 L262.8 78.3 L263.7 76.8 L264.5 75.4 L265.4 73.9 L266.3 72.6 L267.1 71.4 L268.0 70.2 L268.9 69.2 L269.7 68.1 L270.6 67.0 L271.4 65.9 L272.3 64.8 L273.2 63.7 L274.0 62.7 L274.9 61.7 L275.8 60.7 L276.6 59.9 L277.5 59.1 L278.4 58.4 L279.2 57.7 L280.1 57.0 L281.0 56.3 L281.8 55.7 L282.7 55.1 L283.5 54.5 L284.4 54.0 L285.3 53.5 L286.1 53.0 L287.0 52.6 L287.9 52.1 L288.7 51.6 L289.6 51.2 L290.5 50.9 L291.3 50.5 L292.2 50.3" stroke="#6C9A62" stroke-opacity="0.13" stroke-width="3.4"/>
<path d="M232.5 103.6 L233.4 103.6 L234.3 103.6 L235.1 103.5 L236.0 103.5 L236.9 103.5 L237.7 103.4 L238.6 103.4 L239.5 103.3 L240.3 103.3 L241.2 103.2 L242.0 103.2 L242.9 103.1 L243.8 103.1 L244.6 103.0 L245.5 103.0 L246.4 102.9 L247.2 102.9 L248.1 102.8 L249.0 102.7 L249.8 102.7 L250.7 102.6 L251.6 102.5 L252.4 102.4 L253.3 102.3 L254.2 102.2 L255.0 102.1 L255.9 101.9 L256.7 101.8 L257.6 101.7 L258.5 101.6 L259.3 101.4 L260.2 101.2 L261.1 100.8 L261.9 100.3 L262.8 99.7 L263.7 99.1 L264.5 98.4 L265.4 97.7 L266.3 96.8 L267.1 95.8 L268.0 94.5 L268.9 93.2 L269.7 91.9 L270.6 90.5 L271.4 89.1 L272.3 87.5 L273.2 85.9 L274.0 84.3 L274.9 82.7 L275.8 81.2 L276.6 79.6 L277.5 78.0 L278.4 76.4 L279.2 74.8 L280.1 73.2 L281.0 71.5 L281.8 69.9 L282.7 68.2 L283.5 66.5 L284.4 64.9 L285.3 63.2 L286.1 61.5 L287.0 59.9 L287.9 58.2 L288.7 56.6 L289.6 55.0 L290.5 53.4 L291.3 51.8 L292.2 50.3" stroke="#A9A250" stroke-opacity="0.13" stroke-width="3.4"/>
<path d="M232.5 103.6 L233.4 103.5 L234.3 103.5 L235.1 103.4 L236.0 103.4 L236.9 103.3 L237.7 103.3 L238.6 103.2 L239.5 103.2 L240.3 103.1 L241.2 103.1 L242.0 103.0 L242.9 103.0 L243.8 102.9 L244.6 102.9 L245.5 102.8 L246.4 102.8 L247.2 102.7 L248.1 102.7 L249.0 102.6 L249.8 102.6 L250.7 102.5 L251.6 102.5 L252.4 102.4 L253.3 102.4 L254.2 102.4 L255.0 102.3 L255.9 102.3 L256.7 102.2 L257.6 102.2 L258.5 102.2 L259.3 102.2 L260.2 102.2 L261.1 102.2 L261.9 102.3 L262.8 102.3 L263.7 102.4 L264.5 102.5 L265.4 102.6 L266.3 102.7 L267.1 102.9 L268.0 103.0 L268.9 103.0 L269.7 103.1 L270.6 103.2 L271.4 103.2 L272.3 103.1 L273.2 103.0 L274.0 102.8 L274.9 102.5 L275.8 102.2 L276.6 101.9 L277.5 101.5 L278.4 101.1 L279.2 100.7 L280.1 100.3 L281.0 99.8 L281.8 99.1 L282.7 98.2 L283.5 97.2 L284.4 96.1 L285.3 95.0 L286.1 93.8 L287.0 92.7 L287.9 91.6 L288.7 90.4 L289.6 89.3 L290.5 88.0 L291.3 86.8 L292.2 85.5" stroke="#B06A68" stroke-opacity="0.13" stroke-width="3.4"/>
<path d="M232.5 103.6 L233.4 103.3 L234.3 103.0 L235.1 102.7 L236.0 102.4 L236.9 102.1 L237.7 101.8 L238.6 101.4 L239.5 101.1 L240.3 100.8 L241.2 100.5 L242.0 100.2 L242.9 99.9 L243.8 99.6 L244.6 99.3 L245.5 99.0 L246.4 98.7 L247.2 98.4 L248.1 98.1 L249.0 97.7 L249.8 97.4 L250.7 97.1 L251.6 96.8 L252.4 96.5 L253.3 96.2 L254.2 95.9 L255.0 95.5 L255.9 95.2 L256.7 94.9 L257.6 94.6 L258.5 94.3 L259.3 94.0 L260.2 93.7 L261.1 93.3 L261.9 93.0 L262.8 92.7 L263.7 92.4 L264.5 92.1 L265.4 91.8 L266.3 91.5 L267.1 91.2 L268.0 90.9 L268.9 90.6 L269.7 90.3 L270.6 90.0 L271.4 89.8 L272.3 89.5 L273.2 89.2 L274.0 88.9 L274.9 88.6 L275.8 88.3 L276.6 88.0 L277.5 87.7 L278.4 87.5 L279.2 87.2 L280.1 86.9 L281.0 86.6 L281.8 86.3 L282.7 86.0 L283.5 85.8 L284.4 85.5 L285.3 85.2 L286.1 84.9 L287.0 84.7 L287.9 84.4 L288.7 84.1 L289.6 83.8 L290.5 83.6 L291.3 83.3 L292.2 83.0" stroke="#B66FBC" stroke-width="1.05"/>
<path d="M232.5 103.6 L233.4 103.1 L234.3 102.6 L235.1 102.1 L236.0 101.6 L236.9 101.1 L237.7 100.6 L238.6 100.1 L239.5 99.6 L240.3 99.2 L241.2 98.7 L242.1 98.2 L242.9 97.7 L243.8 97.3 L244.7 96.8 L245.5 96.3 L246.4 95.9 L247.3 95.4 L248.1 95.0 L249.0 94.6 L249.9 94.1 L250.7 93.7 L251.6 93.2 L252.5 92.8 L253.3 92.3 L254.2 91.9 L255.1 91.5 L255.9 91.0 L256.8 90.6 L257.7 90.2 L258.5 89.8 L259.4 89.3 L260.3 88.9 L261.1 88.5 L262.0 88.1 L262.9 87.7 L263.7 87.3 L264.6 87.0 L265.4 86.6 L266.3 86.2 L267.2 85.8 L268.0 85.5 L268.9 85.1 L269.8 84.8 L270.6 84.4 L271.5 84.0 L272.4 83.7 L273.2 83.3 L274.1 83.0 L275.0 82.6 L275.8 82.3 L276.7 82.0 L277.6 81.6 L278.4 81.3 L279.3 81.0 L280.2 80.6 L281.0 80.3 L281.9 80.0 L282.8 79.7 L283.6 79.3 L284.5 79.0 L285.4 78.7 L286.2 78.4 L287.1 78.1 L288.0 77.8 L288.8 77.5 L289.7 77.2 L290.6 77.0 L291.4 76.7 L292.3 76.4 L293.2 76.1" stroke="#7085C2" stroke-width="1.05"/>
<path d="M232.5 103.6 L233.4 102.8 L234.3 102.0 L235.1 101.1 L236.0 100.3 L236.9 99.5 L237.7 98.7 L238.6 98.0 L239.5 97.2 L240.3 96.4 L241.2 95.6 L242.1 94.9 L242.9 94.1 L243.8 93.4 L244.7 92.6 L245.5 91.9 L246.4 91.2 L247.3 90.5 L248.1 89.8 L249.0 89.1 L249.9 88.4 L250.7 87.7 L251.6 87.0 L252.5 86.3 L253.3 85.6 L254.2 84.9 L255.1 84.2 L255.9 83.6 L256.8 82.9 L257.7 82.3 L258.5 81.7 L259.4 81.1 L260.3 80.5 L261.1 79.9 L262.0 79.4 L262.9 78.8 L263.7 78.3 L264.6 77.8 L265.4 77.3 L266.3 76.8 L267.2 76.3 L268.0 75.8 L268.9 75.3 L269.8 74.8 L270.6 74.3 L271.5 73.8 L272.4 73.3 L273.2 72.8 L274.1 72.4 L275.0 71.9 L275.8 71.4 L276.7 71.0 L277.6 70.5 L278.4 70.1 L279.3 69.7 L280.2 69.2 L281.0 68.8 L281.9 68.4 L282.8 68.0 L283.6 67.6 L284.5 67.2 L285.4 66.8 L286.2 66.5 L287.1 66.1 L288.0 65.8 L288.8 65.4 L289.7 65.1 L290.6 64.8 L291.4 64.5 L292.3 64.2 L293.2 63.9" stroke="#64A6AE" stroke-width="1.05"/>
<path d="M232.5 103.6 L233.4 103.3 L234.3 103.0 L235.1 102.7 L236.0 102.3 L236.9 101.9 L237.7 101.5 L238.6 101.0 L239.5 100.5 L240.3 100.1 L241.2 99.6 L242.0 99.1 L242.9 98.6 L243.8 98.1 L244.6 97.5 L245.5 96.9 L246.4 96.3 L247.2 95.6 L248.1 95.0 L249.0 94.3 L249.8 93.6 L250.7 92.9 L251.6 92.2 L252.4 91.5 L253.3 90.7 L254.2 89.9 L255.0 89.0 L255.9 88.0 L256.7 87.1 L257.6 86.0 L258.5 84.9 L259.3 83.7 L260.2 82.4 L261.1 81.1 L261.9 79.8 L262.8 78.3 L263.7 76.8 L264.5 75.4 L265.4 73.9 L266.3 72.6 L267.1 71.4 L268.0 70.2 L268.9 69.2 L269.7 68.1 L270.6 67.0 L271.4 65.9 L272.3 64.8 L273.2 63.7 L274.0 62.7 L274.9 61.7 L275.8 60.7 L276.6 59.9 L277.5 59.1 L278.4 58.4 L279.2 57.7 L280.1 57.0 L281.0 56.3 L281.8 55.7 L282.7 55.1 L283.5 54.5 L284.4 54.0 L285.3 53.5 L286.1 53.0 L287.0 52.6 L287.9 52.1 L288.7 51.6 L289.6 51.2 L290.5 50.9 L291.3 50.5 L292.2 50.3" stroke="#6C9A62" stroke-width="1.05"/>
<path d="M232.5 103.6 L233.4 103.6 L234.3 103.6 L235.1 103.5 L236.0 103.5 L236.9 103.5 L237.7 103.4 L238.6 103.4 L239.5 103.3 L240.3 103.3 L241.2 103.2 L242.0 103.2 L242.9 103.1 L243.8 103.1 L244.6 103.0 L245.5 103.0 L246.4 102.9 L247.2 102.9 L248.1 102.8 L249.0 102.7 L249.8 102.7 L250.7 102.6 L251.6 102.5 L252.4 102.4 L253.3 102.3 L254.2 102.2 L255.0 102.1 L255.9 101.9 L256.7 101.8 L257.6 101.7 L258.5 101.6 L259.3 101.4 L260.2 101.2 L261.1 100.8 L261.9 100.3 L262.8 99.7 L263.7 99.1 L264.5 98.4 L265.4 97.7 L266.3 96.8 L267.1 95.8 L268.0 94.5 L268.9 93.2 L269.7 91.9 L270.6 90.5 L271.4 89.1 L272.3 87.5 L273.2 85.9 L274.0 84.3 L274.9 82.7 L275.8 81.2 L276.6 79.6 L277.5 78.0 L278.4 76.4 L279.2 74.8 L280.1 73.2 L281.0 71.5 L281.8 69.9 L282.7 68.2 L283.5 66.5 L284.4 64.9 L285.3 63.2 L286.1 61.5 L287.0 59.9 L287.9 58.2 L288.7 56.6 L289.6 55.0 L290.5 53.4 L291.3 51.8 L292.2 50.3" stroke="#A9A250" stroke-width="1.05"/>
<path d="M232.5 103.6 L233.4 103.5 L234.3 103.5 L235.1 103.4 L236.0 103.4 L236.9 103.3 L237.7 103.3 L238.6 103.2 L239.5 103.2 L240.3 103.1 L241.2 103.1 L242.0 103.0 L242.9 103.0 L243.8 102.9 L244.6 102.9 L245.5 102.8 L246.4 102.8 L247.2 102.7 L248.1 102.7 L249.0 102.6 L249.8 102.6 L250.7 102.5 L251.6 102.5 L252.4 102.4 L253.3 102.4 L254.2 102.4 L255.0 102.3 L255.9 102.3 L256.7 102.2 L257.6 102.2 L258.5 102.2 L259.3 102.2 L260.2 102.2 L261.1 102.2 L261.9 102.3 L262.8 102.3 L263.7 102.4 L264.5 102.5 L265.4 102.6 L266.3 102.7 L267.1 102.9 L268.0 103.0 L268.9 103.0 L269.7 103.1 L270.6 103.2 L271.4 103.2 L272.3 103.1 L273.2 103.0 L274.0 102.8 L274.9 102.5 L275.8 102.2 L276.6 101.9 L277.5 101.5 L278.4 101.1 L279.2 100.7 L280.1 100.3 L281.0 99.8 L281.8 99.1 L282.7 98.2 L283.5 97.2 L284.4 96.1 L285.3 95.0 L286.1 93.8 L287.0 92.7 L287.9 91.6 L288.7 90.4 L289.6 89.3 L290.5 88.0 L291.3 86.8 L292.2 85.5" stroke="#B06A68" stroke-width="1.05"/>
</g>
<rect x="229.79" y="9.10" width="67.30" height="99.20" fill="none" stroke="#BDBDBD" stroke-width="0.9"/>
<rect x="229.79" y="2.40" width="67.30" height="6.70" fill="#D6D6D6" stroke="#A8A8A8" stroke-width="0.9"/>
<text x="263.44" y="7.75" font-size="4.50" fill="#2a2a2a" stroke="#2a2a2a" stroke-width="0.06" text-anchor="middle">0.1</text>
<line x1="232.54" y1="108.30" x2="232.54" y2="109.70" stroke="#4D4D4D" stroke-width="0.6"/><text x="232.54" y="114.20" font-size="4.20" fill="#505050" text-anchor="middle">0</text><line x1="244.64" y1="108.30" x2="244.64" y2="109.70" stroke="#4D4D4D" stroke-width="0.6"/><text x="244.64" y="114.20" font-size="4.20" fill="#505050" text-anchor="middle">1</text><line x1="256.74" y1="108.30" x2="256.74" y2="109.70" stroke="#4D4D4D" stroke-width="0.6"/><text x="256.74" y="114.20" font-size="4.20" fill="#505050" text-anchor="middle">2</text><line x1="268.84" y1="108.30" x2="268.84" y2="109.70" stroke="#4D4D4D" stroke-width="0.6"/><text x="268.84" y="114.20" font-size="4.20" fill="#505050" text-anchor="middle">3</text><line x1="280.94" y1="108.30" x2="280.94" y2="109.70" stroke="#4D4D4D" stroke-width="0.6"/><text x="280.94" y="114.20" font-size="4.20" fill="#505050" text-anchor="middle">4</text><line x1="293.04" y1="108.30" x2="293.04" y2="109.70" stroke="#4D4D4D" stroke-width="0.6"/><text x="293.04" y="114.20" font-size="4.20" fill="#505050" text-anchor="middle">5</text>
<text x="303.70" y="37.40" font-size="5.60" fill="#111" stroke="#111" stroke-width="0.22" textLength="36.80" lengthAdjust="spacingAndGlyphs">Days Since Rain</text>
<rect x="304.20" y="38.50" width="7.70" height="7.80" fill="#EEEEEE"/>
<rect x="304.20" y="39.30" width="7.70" height="6.20" fill="#B06A68" fill-opacity="0.08"/>
<line x1="305.00" y1="42.40" x2="311.10" y2="42.40" stroke="#B06A68" stroke-width="1.0" stroke-opacity="0.6"/>
<text x="313.20" y="44.10" font-size="4.80" fill="#222" stroke="#222" stroke-width="0.15">0</text>
<rect x="304.20" y="46.30" width="7.70" height="7.80" fill="#EEEEEE"/>
<rect x="304.20" y="47.10" width="7.70" height="6.20" fill="#A9A250" fill-opacity="0.08"/>
<line x1="305.00" y1="50.20" x2="311.10" y2="50.20" stroke="#A9A250" stroke-width="1.0" stroke-opacity="0.6"/>
<text x="313.20" y="51.90" font-size="4.80" fill="#222" stroke="#222" stroke-width="0.15">1</text>
<rect x="304.20" y="54.10" width="7.70" height="7.80" fill="#EEEEEE"/>
<rect x="304.20" y="54.90" width="7.70" height="6.20" fill="#6C9A62" fill-opacity="0.08"/>
<line x1="305.00" y1="58.00" x2="311.10" y2="58.00" stroke="#6C9A62" stroke-width="1.0" stroke-opacity="0.6"/>
<text x="313.20" y="59.70" font-size="4.80" fill="#222" stroke="#222" stroke-width="0.15">2</text>
<rect x="304.20" y="61.90" width="7.70" height="7.80" fill="#EEEEEE"/>
<rect x="304.20" y="62.70" width="7.70" height="6.20" fill="#64A6AE" fill-opacity="0.08"/>
<line x1="305.00" y1="65.80" x2="311.10" y2="65.80" stroke="#64A6AE" stroke-width="1.0" stroke-opacity="0.6"/>
<text x="313.20" y="67.50" font-size="4.80" fill="#222" stroke="#222" stroke-width="0.15">3</text>
<rect x="304.20" y="69.70" width="7.70" height="7.80" fill="#EEEEEE"/>
<rect x="304.20" y="70.50" width="7.70" height="6.20" fill="#7085C2" fill-opacity="0.08"/>
<line x1="305.00" y1="73.60" x2="311.10" y2="73.60" stroke="#7085C2" stroke-width="1.0" stroke-opacity="0.6"/>
<text x="313.20" y="75.30" font-size="4.80" fill="#222" stroke="#222" stroke-width="0.15">4</text>
<rect x="304.20" y="77.50" width="7.70" height="7.80" fill="#EEEEEE"/>
<rect x="304.20" y="78.30" width="7.70" height="6.20" fill="#B66FBC" fill-opacity="0.08"/>
<line x1="305.00" y1="81.40" x2="311.10" y2="81.40" stroke="#B66FBC" stroke-width="1.0" stroke-opacity="0.6"/>
<text x="313.20" y="83.10" font-size="4.80" fill="#222" stroke="#222" stroke-width="0.15">5</text>
<clipPath id="cB0"><rect x="21.90" y="141.80" width="68.40" height="100.60"/></clipPath>
<line x1="24.75" y1="141.80" x2="24.75" y2="242.40" stroke="#F0F0F0" stroke-width="0.6"/><line x1="30.91" y1="141.80" x2="30.91" y2="242.40" stroke="#F6F6F6" stroke-width="0.6"/><line x1="37.07" y1="141.80" x2="37.07" y2="242.40" stroke="#F0F0F0" stroke-width="0.6"/><line x1="43.23" y1="141.80" x2="43.23" y2="242.40" stroke="#F6F6F6" stroke-width="0.6"/><line x1="49.39" y1="141.80" x2="49.39" y2="242.40" stroke="#F0F0F0" stroke-width="0.6"/><line x1="55.55" y1="141.80" x2="55.55" y2="242.40" stroke="#F6F6F6" stroke-width="0.6"/><line x1="61.71" y1="141.80" x2="61.71" y2="242.40" stroke="#F0F0F0" stroke-width="0.6"/><line x1="67.87" y1="141.80" x2="67.87" y2="242.40" stroke="#F6F6F6" stroke-width="0.6"/><line x1="74.03" y1="141.80" x2="74.03" y2="242.40" stroke="#F0F0F0" stroke-width="0.6"/><line x1="80.19" y1="141.80" x2="80.19" y2="242.40" stroke="#F6F6F6" stroke-width="0.6"/><line x1="86.35" y1="141.80" x2="86.35" y2="242.40" stroke="#F0F0F0" stroke-width="0.6"/><line x1="21.90" y1="236.50" x2="90.30" y2="236.50" stroke="#F0F0F0" stroke-width="0.6"/><line x1="21.90" y1="222.15" x2="90.30" y2="222.15" stroke="#F6F6F6" stroke-width="0.6"/><line x1="21.90" y1="207.80" x2="90.30" y2="207.80" stroke="#F0F0F0" stroke-width="0.6"/><line x1="21.90" y1="193.45" x2="90.30" y2="193.45" stroke="#F6F6F6" stroke-width="0.6"/><line x1="21.90" y1="179.10" x2="90.30" y2="179.10" stroke="#F0F0F0" stroke-width="0.6"/><line x1="21.90" y1="164.75" x2="90.30" y2="164.75" stroke="#F6F6F6" stroke-width="0.6"/><line x1="21.90" y1="150.40" x2="90.30" y2="150.40" stroke="#F0F0F0" stroke-width="0.6"/>
<g clip-path="url(#cB0)" fill="none" stroke-linecap="round" stroke-linejoin="round">
<path d="M24.8 236.5 L25.6 236.4 L26.5 236.3 L27.4 236.1 L28.3 236.0 L29.2 235.9 L30.0 235.8 L30.9 235.7 L31.8 235.5 L32.7 235.4 L33.6 235.3 L34.4 235.2 L35.3 235.1 L36.2 235.0 L37.1 234.9 L38.0 234.8 L38.9 234.7 L39.7 234.6 L40.6 234.5 L41.5 234.4 L42.4 234.3 L43.3 234.2 L44.1 234.1 L45.0 234.0 L45.9 234.0 L46.8 233.9 L47.7 233.8 L48.6 233.7 L49.4 233.7 L50.3 233.6 L51.2 233.6 L52.1 233.5 L53.0 233.5 L53.8 233.4 L54.7 233.4 L55.6 233.3 L56.5 233.2 L57.4 233.2 L58.3 233.1 L59.1 233.1 L60.0 233.0 L60.9 233.0 L61.8 232.9 L62.7 232.9 L63.5 232.8 L64.4 232.8 L65.3 232.7 L66.2 232.7 L67.1 232.7 L68.0 232.6 L68.8 232.6 L69.7 232.5 L70.6 232.5 L71.5 232.4 L72.4 232.4 L73.2 232.4 L74.1 232.3 L75.0 232.3 L75.9 232.3 L76.8 232.2 L77.7 232.2 L78.5 232.2 L79.4 232.2 L80.3 232.1 L81.2 232.1 L82.1 232.1 L82.9 232.1 L83.8 232.1 L84.7 232.1 L85.6 232.1 L86.5 232.1" stroke="#B66FBC" stroke-opacity="0.13" stroke-width="3.4"/>
<path d="M24.8 236.5 L25.6 236.3 L26.5 236.1 L27.4 236.0 L28.3 235.8 L29.2 235.6 L30.0 235.4 L30.9 235.2 L31.8 235.1 L32.7 234.9 L33.6 234.7 L34.4 234.6 L35.3 234.4 L36.2 234.2 L37.1 234.1 L38.0 233.9 L38.9 233.7 L39.7 233.6 L40.6 233.4 L41.5 233.3 L42.4 233.2 L43.3 233.0 L44.1 232.9 L45.0 232.8 L45.9 232.7 L46.8 232.6 L47.7 232.5 L48.6 232.4 L49.4 232.3 L50.3 232.2 L51.2 232.1 L52.1 232.0 L53.0 231.9 L53.8 231.9 L54.7 231.8 L55.6 231.7 L56.5 231.6 L57.4 231.6 L58.3 231.5 L59.1 231.4 L60.0 231.3 L60.9 231.3 L61.8 231.2 L62.7 231.1 L63.5 231.0 L64.4 231.0 L65.3 230.9 L66.2 230.8 L67.1 230.8 L68.0 230.7 L68.8 230.6 L69.7 230.6 L70.6 230.5 L71.5 230.5 L72.4 230.4 L73.2 230.4 L74.1 230.3 L75.0 230.3 L75.9 230.2 L76.8 230.2 L77.7 230.1 L78.5 230.1 L79.4 230.1 L80.3 230.0 L81.2 230.0 L82.1 230.0 L82.9 230.0 L83.8 229.9 L84.7 229.9 L85.6 229.9 L86.5 229.9" stroke="#7085C2" stroke-opacity="0.13" stroke-width="3.4"/>
<path d="M24.8 236.5 L25.6 236.3 L26.5 236.0 L27.4 235.8 L28.3 235.5 L29.2 235.3 L30.0 235.1 L30.9 234.8 L31.8 234.6 L32.7 234.3 L33.6 234.1 L34.4 233.9 L35.3 233.7 L36.2 233.4 L37.1 233.2 L38.0 233.0 L38.9 232.8 L39.7 232.6 L40.6 232.4 L41.5 232.2 L42.4 232.0 L43.3 231.9 L44.1 231.7 L45.0 231.5 L45.9 231.4 L46.8 231.2 L47.7 231.1 L48.6 231.0 L49.4 230.9 L50.3 230.8 L51.2 230.6 L52.1 230.5 L53.0 230.4 L53.8 230.3 L54.7 230.2 L55.6 230.1 L56.5 230.0 L57.4 229.9 L58.3 229.8 L59.1 229.7 L60.0 229.6 L60.9 229.6 L61.8 229.5 L62.7 229.4 L63.5 229.3 L64.4 229.2 L65.3 229.1 L66.2 229.0 L67.1 228.9 L68.0 228.9 L68.8 228.8 L69.7 228.7 L70.6 228.6 L71.5 228.6 L72.4 228.5 L73.2 228.4 L74.1 228.4 L75.0 228.3 L75.9 228.3 L76.8 228.2 L77.7 228.2 L78.5 228.1 L79.4 228.1 L80.3 228.0 L81.2 228.0 L82.1 228.0 L82.9 227.9 L83.8 227.9 L84.7 227.9 L85.6 227.9 L86.5 227.9" stroke="#64A6AE" stroke-opacity="0.13" stroke-width="3.4"/>
<path d="M24.8 236.5 L25.6 236.0 L26.5 235.5 L27.4 235.0 L28.3 234.5 L29.2 234.0 L30.0 233.5 L30.9 233.0 L31.8 232.5 L32.7 232.1 L33.6 231.7 L34.4 231.3 L35.3 230.9 L36.2 230.5 L37.1 230.2 L38.0 229.9 L38.9 229.6 L39.7 229.4 L40.6 229.2 L41.5 229.1 L42.4 228.9 L43.3 228.7 L44.1 228.5 L45.0 228.4 L45.9 228.2 L46.8 228.1 L47.7 227.9 L48.6 227.8 L49.4 227.6 L50.3 227.5 L51.2 227.3 L52.1 227.2 L53.0 227.1 L53.8 227.0 L54.7 226.9 L55.6 226.7 L56.5 226.7 L57.4 226.6 L58.3 226.5 L59.1 226.4 L60.0 226.3 L60.9 226.3 L61.8 226.2 L62.7 226.1 L63.5 226.1 L64.4 226.0 L65.3 225.9 L66.2 225.9 L67.1 225.8 L68.0 225.7 L68.8 225.7 L69.7 225.6 L70.6 225.5 L71.5 225.5 L72.4 225.4 L73.2 225.3 L74.1 225.3 L75.0 225.2 L75.9 225.2 L76.8 225.1 L77.7 225.0 L78.5 225.0 L79.4 225.0 L80.3 224.9 L81.2 224.9 L82.1 224.8 L82.9 224.8 L83.8 224.8 L84.7 224.8 L85.6 224.7 L86.5 224.7" stroke="#6C9A62" stroke-opacity="0.13" stroke-width="3.4"/>
<path d="M24.8 236.5 L25.6 234.7 L26.5 232.9 L27.4 231.2 L28.3 229.7 L29.2 228.4 L30.0 227.3 L30.9 226.4 L31.8 225.6 L32.7 224.7 L33.6 224.0 L34.4 223.2 L35.3 222.6 L36.2 222.0 L37.1 221.5 L38.0 221.2 L38.9 220.9 L39.7 220.6 L40.6 220.3 L41.5 220.0 L42.4 219.8 L43.3 219.5 L44.1 219.3 L45.0 219.0 L45.9 218.8 L46.8 218.6 L47.7 218.5 L48.6 218.3 L49.4 218.2 L50.3 218.1 L51.2 218.1 L52.1 218.0 L53.0 217.9 L53.8 217.9 L54.7 217.8 L55.6 217.7 L56.5 217.7 L57.4 217.6 L58.3 217.6 L59.1 217.5 L60.0 217.5 L60.9 217.4 L61.8 217.4 L62.7 217.3 L63.5 217.3 L64.4 217.2 L65.3 217.2 L66.2 217.1 L67.1 217.1 L68.0 217.1 L68.8 217.0 L69.7 217.0 L70.6 217.0 L71.5 217.0 L72.4 217.0 L73.2 216.9 L74.1 216.9 L75.0 216.9 L75.9 216.9 L76.8 216.9 L77.7 216.9 L78.5 217.0 L79.4 217.0 L80.3 217.0 L81.2 217.0 L82.1 217.0 L82.9 217.1 L83.8 217.1 L84.7 217.2 L85.6 217.2 L86.5 217.3" stroke="#A9A250" stroke-opacity="0.13" stroke-width="3.4"/>
<path d="M24.8 236.5 L25.6 236.8 L26.5 237.1 L27.4 237.3 L28.3 237.5 L29.2 237.6 L30.0 237.5 L30.9 237.3 L31.8 237.0 L32.7 236.6 L33.6 235.2 L34.4 233.4 L35.3 231.2 L36.2 227.9 L37.1 223.3 L38.0 217.3 L38.9 208.9 L39.7 201.0 L40.6 193.3 L41.5 185.2 L42.4 177.2 L43.3 171.4 L44.1 167.3 L45.0 164.2 L45.9 162.2 L46.8 161.1 L47.7 160.1 L48.6 160.0 L49.4 160.7 L50.3 161.6 L51.2 162.6 L52.1 163.8 L53.0 165.1 L53.8 166.6 L54.7 168.1 L55.6 169.7 L56.5 171.2 L57.4 172.7 L58.3 174.1 L59.1 175.3 L60.0 176.6 L60.9 177.8 L61.8 179.0 L62.7 180.1 L63.5 181.3 L64.4 182.3 L65.3 183.4 L66.2 184.3 L67.1 185.3 L68.0 186.2 L68.8 187.1 L69.7 188.0 L70.6 188.8 L71.5 189.7 L72.4 190.4 L73.2 191.2 L74.1 191.8 L75.0 192.4 L75.9 193.1 L76.8 193.7 L77.7 194.3 L78.5 194.9 L79.4 195.5 L80.3 196.0 L81.2 196.6 L82.1 197.1 L82.9 197.5 L83.8 198.0 L84.7 198.4 L85.6 198.7 L86.5 199.0" stroke="#B06A68" stroke-opacity="0.13" stroke-width="3.4"/>
<path d="M24.8 236.5 L25.6 236.4 L26.5 236.3 L27.4 236.1 L28.3 236.0 L29.2 235.9 L30.0 235.8 L30.9 235.7 L31.8 235.5 L32.7 235.4 L33.6 235.3 L34.4 235.2 L35.3 235.1 L36.2 235.0 L37.1 234.9 L38.0 234.8 L38.9 234.7 L39.7 234.6 L40.6 234.5 L41.5 234.4 L42.4 234.3 L43.3 234.2 L44.1 234.1 L45.0 234.0 L45.9 234.0 L46.8 233.9 L47.7 233.8 L48.6 233.7 L49.4 233.7 L50.3 233.6 L51.2 233.6 L52.1 233.5 L53.0 233.5 L53.8 233.4 L54.7 233.4 L55.6 233.3 L56.5 233.2 L57.4 233.2 L58.3 233.1 L59.1 233.1 L60.0 233.0 L60.9 233.0 L61.8 232.9 L62.7 232.9 L63.5 232.8 L64.4 232.8 L65.3 232.7 L66.2 232.7 L67.1 232.7 L68.0 232.6 L68.8 232.6 L69.7 232.5 L70.6 232.5 L71.5 232.4 L72.4 232.4 L73.2 232.4 L74.1 232.3 L75.0 232.3 L75.9 232.3 L76.8 232.2 L77.7 232.2 L78.5 232.2 L79.4 232.2 L80.3 232.1 L81.2 232.1 L82.1 232.1 L82.9 232.1 L83.8 232.1 L84.7 232.1 L85.6 232.1 L86.5 232.1" stroke="#B66FBC" stroke-width="1.05"/>
<path d="M24.8 236.5 L25.6 236.3 L26.5 236.1 L27.4 236.0 L28.3 235.8 L29.2 235.6 L30.0 235.4 L30.9 235.2 L31.8 235.1 L32.7 234.9 L33.6 234.7 L34.4 234.6 L35.3 234.4 L36.2 234.2 L37.1 234.1 L38.0 233.9 L38.9 233.7 L39.7 233.6 L40.6 233.4 L41.5 233.3 L42.4 233.2 L43.3 233.0 L44.1 232.9 L45.0 232.8 L45.9 232.7 L46.8 232.6 L47.7 232.5 L48.6 232.4 L49.4 232.3 L50.3 232.2 L51.2 232.1 L52.1 232.0 L53.0 231.9 L53.8 231.9 L54.7 231.8 L55.6 231.7 L56.5 231.6 L57.4 231.6 L58.3 231.5 L59.1 231.4 L60.0 231.3 L60.9 231.3 L61.8 231.2 L62.7 231.1 L63.5 231.0 L64.4 231.0 L65.3 230.9 L66.2 230.8 L67.1 230.8 L68.0 230.7 L68.8 230.6 L69.7 230.6 L70.6 230.5 L71.5 230.5 L72.4 230.4 L73.2 230.4 L74.1 230.3 L75.0 230.3 L75.9 230.2 L76.8 230.2 L77.7 230.1 L78.5 230.1 L79.4 230.1 L80.3 230.0 L81.2 230.0 L82.1 230.0 L82.9 230.0 L83.8 229.9 L84.7 229.9 L85.6 229.9 L86.5 229.9" stroke="#7085C2" stroke-width="1.05"/>
<path d="M24.8 236.5 L25.6 236.3 L26.5 236.0 L27.4 235.8 L28.3 235.5 L29.2 235.3 L30.0 235.1 L30.9 234.8 L31.8 234.6 L32.7 234.3 L33.6 234.1 L34.4 233.9 L35.3 233.7 L36.2 233.4 L37.1 233.2 L38.0 233.0 L38.9 232.8 L39.7 232.6 L40.6 232.4 L41.5 232.2 L42.4 232.0 L43.3 231.9 L44.1 231.7 L45.0 231.5 L45.9 231.4 L46.8 231.2 L47.7 231.1 L48.6 231.0 L49.4 230.9 L50.3 230.8 L51.2 230.6 L52.1 230.5 L53.0 230.4 L53.8 230.3 L54.7 230.2 L55.6 230.1 L56.5 230.0 L57.4 229.9 L58.3 229.8 L59.1 229.7 L60.0 229.6 L60.9 229.6 L61.8 229.5 L62.7 229.4 L63.5 229.3 L64.4 229.2 L65.3 229.1 L66.2 229.0 L67.1 228.9 L68.0 228.9 L68.8 228.8 L69.7 228.7 L70.6 228.6 L71.5 228.6 L72.4 228.5 L73.2 228.4 L74.1 228.4 L75.0 228.3 L75.9 228.3 L76.8 228.2 L77.7 228.2 L78.5 228.1 L79.4 228.1 L80.3 228.0 L81.2 228.0 L82.1 228.0 L82.9 227.9 L83.8 227.9 L84.7 227.9 L85.6 227.9 L86.5 227.9" stroke="#64A6AE" stroke-width="1.05"/>
<path d="M24.8 236.5 L25.6 236.0 L26.5 235.5 L27.4 235.0 L28.3 234.5 L29.2 234.0 L30.0 233.5 L30.9 233.0 L31.8 232.5 L32.7 232.1 L33.6 231.7 L34.4 231.3 L35.3 230.9 L36.2 230.5 L37.1 230.2 L38.0 229.9 L38.9 229.6 L39.7 229.4 L40.6 229.2 L41.5 229.1 L42.4 228.9 L43.3 228.7 L44.1 228.5 L45.0 228.4 L45.9 228.2 L46.8 228.1 L47.7 227.9 L48.6 227.8 L49.4 227.6 L50.3 227.5 L51.2 227.3 L52.1 227.2 L53.0 227.1 L53.8 227.0 L54.7 226.9 L55.6 226.7 L56.5 226.7 L57.4 226.6 L58.3 226.5 L59.1 226.4 L60.0 226.3 L60.9 226.3 L61.8 226.2 L62.7 226.1 L63.5 226.1 L64.4 226.0 L65.3 225.9 L66.2 225.9 L67.1 225.8 L68.0 225.7 L68.8 225.7 L69.7 225.6 L70.6 225.5 L71.5 225.5 L72.4 225.4 L73.2 225.3 L74.1 225.3 L75.0 225.2 L75.9 225.2 L76.8 225.1 L77.7 225.0 L78.5 225.0 L79.4 225.0 L80.3 224.9 L81.2 224.9 L82.1 224.8 L82.9 224.8 L83.8 224.8 L84.7 224.8 L85.6 224.7 L86.5 224.7" stroke="#6C9A62" stroke-width="1.05"/>
<path d="M24.8 236.5 L25.6 234.7 L26.5 232.9 L27.4 231.2 L28.3 229.7 L29.2 228.4 L30.0 227.3 L30.9 226.4 L31.8 225.6 L32.7 224.7 L33.6 224.0 L34.4 223.2 L35.3 222.6 L36.2 222.0 L37.1 221.5 L38.0 221.2 L38.9 220.9 L39.7 220.6 L40.6 220.3 L41.5 220.0 L42.4 219.8 L43.3 219.5 L44.1 219.3 L45.0 219.0 L45.9 218.8 L46.8 218.6 L47.7 218.5 L48.6 218.3 L49.4 218.2 L50.3 218.1 L51.2 218.1 L52.1 218.0 L53.0 217.9 L53.8 217.9 L54.7 217.8 L55.6 217.7 L56.5 217.7 L57.4 217.6 L58.3 217.6 L59.1 217.5 L60.0 217.5 L60.9 217.4 L61.8 217.4 L62.7 217.3 L63.5 217.3 L64.4 217.2 L65.3 217.2 L66.2 217.1 L67.1 217.1 L68.0 217.1 L68.8 217.0 L69.7 217.0 L70.6 217.0 L71.5 217.0 L72.4 217.0 L73.2 216.9 L74.1 216.9 L75.0 216.9 L75.9 216.9 L76.8 216.9 L77.7 216.9 L78.5 217.0 L79.4 217.0 L80.3 217.0 L81.2 217.0 L82.1 217.0 L82.9 217.1 L83.8 217.1 L84.7 217.2 L85.6 217.2 L86.5 217.3" stroke="#A9A250" stroke-width="1.05"/>
<path d="M24.8 236.5 L25.6 236.8 L26.5 237.1 L27.4 237.3 L28.3 237.5 L29.2 237.6 L30.0 237.5 L30.9 237.3 L31.8 237.0 L32.7 236.6 L33.6 235.2 L34.4 233.4 L35.3 231.2 L36.2 227.9 L37.1 223.3 L38.0 217.3 L38.9 208.9 L39.7 201.0 L40.6 193.3 L41.5 185.2 L42.4 177.2 L43.3 171.4 L44.1 167.3 L45.0 164.2 L45.9 162.2 L46.8 161.1 L47.7 160.1 L48.6 160.0 L49.4 160.7 L50.3 161.6 L51.2 162.6 L52.1 163.8 L53.0 165.1 L53.8 166.6 L54.7 168.1 L55.6 169.7 L56.5 171.2 L57.4 172.7 L58.3 174.1 L59.1 175.3 L60.0 176.6 L60.9 177.8 L61.8 179.0 L62.7 180.1 L63.5 181.3 L64.4 182.3 L65.3 183.4 L66.2 184.3 L67.1 185.3 L68.0 186.2 L68.8 187.1 L69.7 188.0 L70.6 188.8 L71.5 189.7 L72.4 190.4 L73.2 191.2 L74.1 191.8 L75.0 192.4 L75.9 193.1 L76.8 193.7 L77.7 194.3 L78.5 194.9 L79.4 195.5 L80.3 196.0 L81.2 196.6 L82.1 197.1 L82.9 197.5 L83.8 198.0 L84.7 198.4 L85.6 198.7 L86.5 199.0" stroke="#B06A68" stroke-width="1.05"/>
</g>
<rect x="21.90" y="141.80" width="68.40" height="100.60" fill="none" stroke="#BDBDBD" stroke-width="0.9"/>
<rect x="21.90" y="134.40" width="68.40" height="7.40" fill="#D6D6D6" stroke="#A8A8A8" stroke-width="0.9"/>
<text x="56.10" y="140.10" font-size="4.58" fill="#2a2a2a" stroke="#2a2a2a" stroke-width="0.06" text-anchor="middle">0.03</text>
<line x1="24.75" y1="242.40" x2="24.75" y2="243.80" stroke="#4D4D4D" stroke-width="0.6"/><text x="24.75" y="248.40" font-size="4.28" fill="#505050" text-anchor="middle">0</text><line x1="37.07" y1="242.40" x2="37.07" y2="243.80" stroke="#4D4D4D" stroke-width="0.6"/><text x="37.07" y="248.40" font-size="4.28" fill="#505050" text-anchor="middle">1</text><line x1="49.39" y1="242.40" x2="49.39" y2="243.80" stroke="#4D4D4D" stroke-width="0.6"/><text x="49.39" y="248.40" font-size="4.28" fill="#505050" text-anchor="middle">2</text><line x1="61.71" y1="242.40" x2="61.71" y2="243.80" stroke="#4D4D4D" stroke-width="0.6"/><text x="61.71" y="248.40" font-size="4.28" fill="#505050" text-anchor="middle">3</text><line x1="74.03" y1="242.40" x2="74.03" y2="243.80" stroke="#4D4D4D" stroke-width="0.6"/><text x="74.03" y="248.40" font-size="4.28" fill="#505050" text-anchor="middle">4</text><line x1="86.35" y1="242.40" x2="86.35" y2="243.80" stroke="#4D4D4D" stroke-width="0.6"/><text x="86.35" y="248.40" font-size="4.28" fill="#505050" text-anchor="middle">5</text>
<line x1="20.50" y1="236.50" x2="21.90" y2="236.50" stroke="#4D4D4D" stroke-width="0.6"/><text x="18.10" y="238.00" font-size="4.28" fill="#505050" text-anchor="middle">0</text><line x1="20.50" y1="207.80" x2="21.90" y2="207.80" stroke="#4D4D4D" stroke-width="0.6"/><text x="18.10" y="209.30" font-size="4.28" fill="#505050" text-anchor="middle">2</text><line x1="20.50" y1="179.10" x2="21.90" y2="179.10" stroke="#4D4D4D" stroke-width="0.6"/><text x="18.10" y="180.60" font-size="4.28" fill="#505050" text-anchor="middle">4</text><line x1="20.50" y1="150.40" x2="21.90" y2="150.40" stroke="#4D4D4D" stroke-width="0.6"/><text x="18.10" y="151.90" font-size="4.28" fill="#505050" text-anchor="middle">6</text>
<text x="26.60" y="153.10" font-size="8.75" font-weight="bold" fill="#111">B</text>
<clipPath id="cB1"><rect x="92.57" y="141.80" width="68.40" height="100.60"/></clipPath>
<line x1="95.42" y1="141.80" x2="95.42" y2="242.40" stroke="#F0F0F0" stroke-width="0.6"/><line x1="101.58" y1="141.80" x2="101.58" y2="242.40" stroke="#F6F6F6" stroke-width="0.6"/><line x1="107.74" y1="141.80" x2="107.74" y2="242.40" stroke="#F0F0F0" stroke-width="0.6"/><line x1="113.90" y1="141.80" x2="113.90" y2="242.40" stroke="#F6F6F6" stroke-width="0.6"/><line x1="120.06" y1="141.80" x2="120.06" y2="242.40" stroke="#F0F0F0" stroke-width="0.6"/><line x1="126.22" y1="141.80" x2="126.22" y2="242.40" stroke="#F6F6F6" stroke-width="0.6"/><line x1="132.38" y1="141.80" x2="132.38" y2="242.40" stroke="#F0F0F0" stroke-width="0.6"/><line x1="138.54" y1="141.80" x2="138.54" y2="242.40" stroke="#F6F6F6" stroke-width="0.6"/><line x1="144.70" y1="141.80" x2="144.70" y2="242.40" stroke="#F0F0F0" stroke-width="0.6"/><line x1="150.86" y1="141.80" x2="150.86" y2="242.40" stroke="#F6F6F6" stroke-width="0.6"/><line x1="157.02" y1="141.80" x2="157.02" y2="242.40" stroke="#F0F0F0" stroke-width="0.6"/><line x1="92.57" y1="236.50" x2="160.97" y2="236.50" stroke="#F0F0F0" stroke-width="0.6"/><line x1="92.57" y1="222.15" x2="160.97" y2="222.15" stroke="#F6F6F6" stroke-width="0.6"/><line x1="92.57" y1="207.80" x2="160.97" y2="207.80" stroke="#F0F0F0" stroke-width="0.6"/><line x1="92.57" y1="193.45" x2="160.97" y2="193.45" stroke="#F6F6F6" stroke-width="0.6"/><line x1="92.57" y1="179.10" x2="160.97" y2="179.10" stroke="#F0F0F0" stroke-width="0.6"/><line x1="92.57" y1="164.75" x2="160.97" y2="164.75" stroke="#F6F6F6" stroke-width="0.6"/><line x1="92.57" y1="150.40" x2="160.97" y2="150.40" stroke="#F0F0F0" stroke-width="0.6"/>
<g clip-path="url(#cB1)" fill="none" stroke-linecap="round" stroke-linejoin="round">
<path d="M95.4 236.5 L96.3 236.3 L97.2 236.2 L98.0 236.0 L98.9 235.9 L99.8 235.7 L100.7 235.6 L101.6 235.4 L102.4 235.3 L103.3 235.1 L104.2 235.0 L105.1 234.8 L105.9 234.7 L106.8 234.5 L107.7 234.4 L108.6 234.2 L109.4 234.1 L110.3 234.0 L111.2 233.8 L112.1 233.7 L112.9 233.6 L113.8 233.5 L114.7 233.3 L115.6 233.2 L116.5 233.1 L117.3 233.0 L118.2 232.9 L119.1 232.8 L120.0 232.7 L120.8 232.6 L121.7 232.5 L122.6 232.4 L123.5 232.3 L124.3 232.2 L125.2 232.1 L126.1 232.0 L127.0 231.9 L127.8 231.8 L128.7 231.7 L129.6 231.6 L130.5 231.5 L131.3 231.4 L132.2 231.3 L133.1 231.2 L134.0 231.2 L134.9 231.1 L135.7 231.0 L136.6 230.9 L137.5 230.8 L138.4 230.7 L139.2 230.6 L140.1 230.6 L141.0 230.5 L141.9 230.4 L142.7 230.3 L143.6 230.2 L144.5 230.2 L145.4 230.1 L146.2 230.0 L147.1 230.0 L148.0 229.9 L148.9 229.8 L149.7 229.8 L150.6 229.7 L151.5 229.6 L152.4 229.6 L153.3 229.5 L154.1 229.5 L155.0 229.4 L155.9 229.4 L156.8 229.4 L157.6 229.3" stroke="#B66FBC" stroke-opacity="0.13" stroke-width="3.4"/>
<path d="M95.4 236.5 L96.3 236.3 L97.2 236.1 L98.0 235.9 L98.9 235.7 L99.8 235.4 L100.7 235.2 L101.6 235.0 L102.4 234.8 L103.3 234.6 L104.2 234.4 L105.1 234.2 L105.9 234.0 L106.8 233.8 L107.7 233.6 L108.6 233.5 L109.4 233.3 L110.3 233.1 L111.2 232.9 L112.1 232.7 L112.9 232.6 L113.8 232.4 L114.7 232.2 L115.6 232.1 L116.5 231.9 L117.3 231.8 L118.2 231.7 L119.1 231.5 L120.0 231.4 L120.8 231.3 L121.7 231.2 L122.6 231.0 L123.5 230.9 L124.3 230.8 L125.2 230.7 L126.1 230.6 L127.0 230.4 L127.8 230.3 L128.7 230.2 L129.6 230.1 L130.5 230.0 L131.3 229.8 L132.2 229.7 L133.1 229.6 L134.0 229.5 L134.9 229.4 L135.7 229.3 L136.6 229.2 L137.5 229.1 L138.4 229.0 L139.2 228.9 L140.1 228.8 L141.0 228.7 L141.9 228.6 L142.7 228.5 L143.6 228.4 L144.5 228.3 L145.4 228.2 L146.2 228.1 L147.1 228.0 L148.0 228.0 L148.9 227.9 L149.7 227.8 L150.6 227.7 L151.5 227.7 L152.4 227.6 L153.3 227.6 L154.1 227.5 L155.0 227.4 L155.9 227.4 L156.8 227.4 L157.6 227.3" stroke="#7085C2" stroke-opacity="0.13" stroke-width="3.4"/>
<path d="M95.4 236.5 L96.3 236.2 L97.2 235.9 L98.0 235.6 L98.9 235.3 L99.8 235.1 L100.7 234.8 L101.6 234.5 L102.4 234.2 L103.3 233.9 L104.2 233.6 L105.1 233.4 L105.9 233.1 L106.8 232.8 L107.7 232.6 L108.6 232.3 L109.4 232.1 L110.3 231.8 L111.2 231.6 L112.1 231.3 L112.9 231.1 L113.8 230.9 L114.7 230.6 L115.6 230.4 L116.5 230.2 L117.3 230.0 L118.2 229.8 L119.1 229.6 L120.0 229.4 L120.8 229.2 L121.7 229.1 L122.6 228.9 L123.5 228.7 L124.3 228.5 L125.2 228.4 L126.1 228.2 L127.0 228.0 L127.8 227.8 L128.7 227.7 L129.6 227.5 L130.5 227.3 L131.3 227.1 L132.2 227.0 L133.1 226.8 L134.0 226.6 L134.9 226.5 L135.7 226.3 L136.6 226.2 L137.5 226.0 L138.4 225.8 L139.2 225.7 L140.1 225.5 L141.0 225.4 L141.9 225.2 L142.7 225.1 L143.6 225.0 L144.5 224.8 L145.4 224.7 L146.2 224.6 L147.1 224.4 L148.0 224.3 L148.9 224.2 L149.7 224.1 L150.6 224.0 L151.5 223.9 L152.4 223.8 L153.3 223.7 L154.1 223.6 L155.0 223.5 L155.9 223.4 L156.8 223.4 L157.6 223.3" stroke="#64A6AE" stroke-opacity="0.13" stroke-width="3.4"/>
<path d="M95.4 236.5 L96.3 235.8 L97.2 235.1 L98.0 234.4 L98.9 233.7 L99.8 233.0 L100.7 232.3 L101.6 231.6 L102.4 231.0 L103.3 230.3 L104.2 229.7 L105.1 229.1 L105.9 228.6 L106.8 228.0 L107.7 227.6 L108.6 227.1 L109.4 226.7 L110.3 226.3 L111.2 226.0 L112.1 225.6 L112.9 225.3 L113.8 224.9 L114.7 224.6 L115.6 224.3 L116.5 223.9 L117.3 223.6 L118.2 223.3 L119.1 223.0 L120.0 222.7 L120.8 222.4 L121.7 222.2 L122.6 221.9 L123.5 221.6 L124.3 221.4 L125.2 221.2 L126.1 221.0 L127.0 220.8 L127.8 220.6 L128.7 220.4 L129.6 220.3 L130.5 220.1 L131.3 220.0 L132.2 219.9 L133.1 219.7 L134.0 219.6 L134.9 219.5 L135.7 219.4 L136.6 219.2 L137.5 219.1 L138.4 219.0 L139.2 218.9 L140.1 218.7 L141.0 218.6 L141.9 218.5 L142.7 218.4 L143.6 218.3 L144.5 218.2 L145.4 218.1 L146.2 218.0 L147.1 217.9 L148.0 217.8 L148.9 217.7 L149.7 217.6 L150.6 217.6 L151.5 217.5 L152.4 217.4 L153.3 217.4 L154.1 217.4 L155.0 217.3 L155.9 217.3 L156.8 217.3 L157.6 217.3" stroke="#6C9A62" stroke-opacity="0.13" stroke-width="3.4"/>
<path d="M95.4 236.5 L96.3 233.7 L97.2 231.0 L98.0 228.5 L98.9 226.2 L99.8 224.2 L100.7 222.4 L101.6 220.8 L102.4 219.1 L103.3 217.6 L104.2 216.2 L105.1 215.0 L105.9 214.0 L106.8 213.3 L107.7 212.6 L108.6 212.0 L109.4 211.4 L110.3 210.8 L111.2 210.2 L112.1 209.7 L112.9 209.2 L113.8 208.7 L114.7 208.4 L115.6 208.0 L116.5 207.8 L117.3 207.6 L118.2 207.4 L119.1 207.2 L120.0 207.0 L120.8 206.8 L121.7 206.6 L122.6 206.5 L123.5 206.3 L124.3 206.1 L125.2 206.0 L126.1 205.8 L127.0 205.7 L127.8 205.6 L128.7 205.5 L129.6 205.4 L130.5 205.4 L131.3 205.3 L132.2 205.3 L133.1 205.2 L134.0 205.2 L134.9 205.2 L135.7 205.1 L136.6 205.1 L137.5 205.0 L138.4 205.0 L139.2 205.0 L140.1 205.0 L141.0 204.9 L141.9 204.9 L142.7 204.9 L143.6 204.9 L144.5 204.9 L145.4 204.8 L146.2 204.8 L147.1 204.8 L148.0 204.8 L148.9 204.8 L149.7 204.8 L150.6 204.8 L151.5 204.9 L152.4 204.9 L153.3 204.9 L154.1 204.9 L155.0 205.0 L155.9 205.0 L156.8 205.0 L157.6 205.1" stroke="#A9A250" stroke-opacity="0.13" stroke-width="3.4"/>
<path d="M95.4 236.5 L96.3 236.3 L97.2 236.2 L98.0 236.1 L98.9 236.0 L99.8 235.9 L100.7 235.9 L101.6 236.0 L102.4 236.1 L103.3 236.3 L104.2 236.6 L105.1 236.9 L105.9 237.3 L106.8 237.6 L107.7 237.9 L108.6 238.1 L109.4 238.0 L110.3 237.8 L111.2 237.5 L112.1 236.4 L112.9 233.5 L113.8 229.7 L114.7 224.8 L115.6 220.2 L116.5 215.8 L117.3 211.5 L118.2 207.3 L119.1 203.2 L120.0 199.3 L120.8 195.5 L121.7 191.6 L122.6 186.9 L123.5 181.8 L124.3 177.5 L125.2 173.5 L126.1 169.9 L127.0 167.1 L127.8 165.1 L128.7 163.4 L129.6 161.8 L130.5 160.5 L131.3 159.3 L132.2 158.4 L133.1 157.7 L134.0 156.9 L134.9 156.3 L135.7 155.8 L136.6 155.7 L137.5 155.8 L138.4 156.0 L139.2 156.4 L140.1 156.8 L141.0 157.3 L141.9 157.8 L142.7 158.3 L143.6 158.9 L144.5 159.6 L145.4 160.4 L146.2 161.2 L147.1 162.1 L148.0 163.1 L148.9 164.1 L149.7 165.1 L150.6 166.2 L151.5 167.3 L152.4 168.6 L153.3 170.0 L154.1 171.5 L155.0 173.1 L155.9 174.8 L156.8 176.5 L157.6 178.2" stroke="#B06A68" stroke-opacity="0.13" stroke-width="3.4"/>
<path d="M95.4 236.5 L96.3 236.3 L97.2 236.2 L98.0 236.0 L98.9 235.9 L99.8 235.7 L100.7 235.6 L101.6 235.4 L102.4 235.3 L103.3 235.1 L104.2 235.0 L105.1 234.8 L105.9 234.7 L106.8 234.5 L107.7 234.4 L108.6 234.2 L109.4 234.1 L110.3 234.0 L111.2 233.8 L112.1 233.7 L112.9 233.6 L113.8 233.5 L114.7 233.3 L115.6 233.2 L116.5 233.1 L117.3 233.0 L118.2 232.9 L119.1 232.8 L120.0 232.7 L120.8 232.6 L121.7 232.5 L122.6 232.4 L123.5 232.3 L124.3 232.2 L125.2 232.1 L126.1 232.0 L127.0 231.9 L127.8 231.8 L128.7 231.7 L129.6 231.6 L130.5 231.5 L131.3 231.4 L132.2 231.3 L133.1 231.2 L134.0 231.2 L134.9 231.1 L135.7 231.0 L136.6 230.9 L137.5 230.8 L138.4 230.7 L139.2 230.6 L140.1 230.6 L141.0 230.5 L141.9 230.4 L142.7 230.3 L143.6 230.2 L144.5 230.2 L145.4 230.1 L146.2 230.0 L147.1 230.0 L148.0 229.9 L148.9 229.8 L149.7 229.8 L150.6 229.7 L151.5 229.6 L152.4 229.6 L153.3 229.5 L154.1 229.5 L155.0 229.4 L155.9 229.4 L156.8 229.4 L157.6 229.3" stroke="#B66FBC" stroke-width="1.05"/>
<path d="M95.4 236.5 L96.3 236.3 L97.2 236.1 L98.0 235.9 L98.9 235.7 L99.8 235.4 L100.7 235.2 L101.6 235.0 L102.4 234.8 L103.3 234.6 L104.2 234.4 L105.1 234.2 L105.9 234.0 L106.8 233.8 L107.7 233.6 L108.6 233.5 L109.4 233.3 L110.3 233.1 L111.2 232.9 L112.1 232.7 L112.9 232.6 L113.8 232.4 L114.7 232.2 L115.6 232.1 L116.5 231.9 L117.3 231.8 L118.2 231.7 L119.1 231.5 L120.0 231.4 L120.8 231.3 L121.7 231.2 L122.6 231.0 L123.5 230.9 L124.3 230.8 L125.2 230.7 L126.1 230.6 L127.0 230.4 L127.8 230.3 L128.7 230.2 L129.6 230.1 L130.5 230.0 L131.3 229.8 L132.2 229.7 L133.1 229.6 L134.0 229.5 L134.9 229.4 L135.7 229.3 L136.6 229.2 L137.5 229.1 L138.4 229.0 L139.2 228.9 L140.1 228.8 L141.0 228.7 L141.9 228.6 L142.7 228.5 L143.6 228.4 L144.5 228.3 L145.4 228.2 L146.2 228.1 L147.1 228.0 L148.0 228.0 L148.9 227.9 L149.7 227.8 L150.6 227.7 L151.5 227.7 L152.4 227.6 L153.3 227.6 L154.1 227.5 L155.0 227.4 L155.9 227.4 L156.8 227.4 L157.6 227.3" stroke="#7085C2" stroke-width="1.05"/>
<path d="M95.4 236.5 L96.3 236.2 L97.2 235.9 L98.0 235.6 L98.9 235.3 L99.8 235.1 L100.7 234.8 L101.6 234.5 L102.4 234.2 L103.3 233.9 L104.2 233.6 L105.1 233.4 L105.9 233.1 L106.8 232.8 L107.7 232.6 L108.6 232.3 L109.4 232.1 L110.3 231.8 L111.2 231.6 L112.1 231.3 L112.9 231.1 L113.8 230.9 L114.7 230.6 L115.6 230.4 L116.5 230.2 L117.3 230.0 L118.2 229.8 L119.1 229.6 L120.0 229.4 L120.8 229.2 L121.7 229.1 L122.6 228.9 L123.5 228.7 L124.3 228.5 L125.2 228.4 L126.1 228.2 L127.0 228.0 L127.8 227.8 L128.7 227.7 L129.6 227.5 L130.5 227.3 L131.3 227.1 L132.2 227.0 L133.1 226.8 L134.0 226.6 L134.9 226.5 L135.7 226.3 L136.6 226.2 L137.5 226.0 L138.4 225.8 L139.2 225.7 L140.1 225.5 L141.0 225.4 L141.9 225.2 L142.7 225.1 L143.6 225.0 L144.5 224.8 L145.4 224.7 L146.2 224.6 L147.1 224.4 L148.0 224.3 L148.9 224.2 L149.7 224.1 L150.6 224.0 L151.5 223.9 L152.4 223.8 L153.3 223.7 L154.1 223.6 L155.0 223.5 L155.9 223.4 L156.8 223.4 L157.6 223.3" stroke="#64A6AE" stroke-width="1.05"/>
<path d="M95.4 236.5 L96.3 235.8 L97.2 235.1 L98.0 234.4 L98.9 233.7 L99.8 233.0 L100.7 232.3 L101.6 231.6 L102.4 231.0 L103.3 230.3 L104.2 229.7 L105.1 229.1 L105.9 228.6 L106.8 228.0 L107.7 227.6 L108.6 227.1 L109.4 226.7 L110.3 226.3 L111.2 226.0 L112.1 225.6 L112.9 225.3 L113.8 224.9 L114.7 224.6 L115.6 224.3 L116.5 223.9 L117.3 223.6 L118.2 223.3 L119.1 223.0 L120.0 222.7 L120.8 222.4 L121.7 222.2 L122.6 221.9 L123.5 221.6 L124.3 221.4 L125.2 221.2 L126.1 221.0 L127.0 220.8 L127.8 220.6 L128.7 220.4 L129.6 220.3 L130.5 220.1 L131.3 220.0 L132.2 219.9 L133.1 219.7 L134.0 219.6 L134.9 219.5 L135.7 219.4 L136.6 219.2 L137.5 219.1 L138.4 219.0 L139.2 218.9 L140.1 218.7 L141.0 218.6 L141.9 218.5 L142.7 218.4 L143.6 218.3 L144.5 218.2 L145.4 218.1 L146.2 218.0 L147.1 217.9 L148.0 217.8 L148.9 217.7 L149.7 217.6 L150.6 217.6 L151.5 217.5 L152.4 217.4 L153.3 217.4 L154.1 217.4 L155.0 217.3 L155.9 217.3 L156.8 217.3 L157.6 217.3" stroke="#6C9A62" stroke-width="1.05"/>
<path d="M95.4 236.5 L96.3 233.7 L97.2 231.0 L98.0 228.5 L98.9 226.2 L99.8 224.2 L100.7 222.4 L101.6 220.8 L102.4 219.1 L103.3 217.6 L104.2 216.2 L105.1 215.0 L105.9 214.0 L106.8 213.3 L107.7 212.6 L108.6 212.0 L109.4 211.4 L110.3 210.8 L111.2 210.2 L112.1 209.7 L112.9 209.2 L113.8 208.7 L114.7 208.4 L115.6 208.0 L116.5 207.8 L117.3 207.6 L118.2 207.4 L119.1 207.2 L120.0 207.0 L120.8 206.8 L121.7 206.6 L122.6 206.5 L123.5 206.3 L124.3 206.1 L125.2 206.0 L126.1 205.8 L127.0 205.7 L127.8 205.6 L128.7 205.5 L129.6 205.4 L130.5 205.4 L131.3 205.3 L132.2 205.3 L133.1 205.2 L134.0 205.2 L134.9 205.2 L135.7 205.1 L136.6 205.1 L137.5 205.0 L138.4 205.0 L139.2 205.0 L140.1 205.0 L141.0 204.9 L141.9 204.9 L142.7 204.9 L143.6 204.9 L144.5 204.9 L145.4 204.8 L146.2 204.8 L147.1 204.8 L148.0 204.8 L148.9 204.8 L149.7 204.8 L150.6 204.8 L151.5 204.9 L152.4 204.9 L153.3 204.9 L154.1 204.9 L155.0 205.0 L155.9 205.0 L156.8 205.0 L157.6 205.1" stroke="#A9A250" stroke-width="1.05"/>
<path d="M95.4 236.5 L96.3 236.3 L97.2 236.2 L98.0 236.1 L98.9 236.0 L99.8 235.9 L100.7 235.9 L101.6 236.0 L102.4 236.1 L103.3 236.3 L104.2 236.6 L105.1 236.9 L105.9 237.3 L106.8 237.6 L107.7 237.9 L108.6 238.1 L109.4 238.0 L110.3 237.8 L111.2 237.5 L112.1 236.4 L112.9 233.5 L113.8 229.7 L114.7 224.8 L115.6 220.2 L116.5 215.8 L117.3 211.5 L118.2 207.3 L119.1 203.2 L120.0 199.3 L120.8 195.5 L121.7 191.6 L122.6 186.9 L123.5 181.8 L124.3 177.5 L125.2 173.5 L126.1 169.9 L127.0 167.1 L127.8 165.1 L128.7 163.4 L129.6 161.8 L130.5 160.5 L131.3 159.3 L132.2 158.4 L133.1 157.7 L134.0 156.9 L134.9 156.3 L135.7 155.8 L136.6 155.7 L137.5 155.8 L138.4 156.0 L139.2 156.4 L140.1 156.8 L141.0 157.3 L141.9 157.8 L142.7 158.3 L143.6 158.9 L144.5 159.6 L145.4 160.4 L146.2 161.2 L147.1 162.1 L148.0 163.1 L148.9 164.1 L149.7 165.1 L150.6 166.2 L151.5 167.3 L152.4 168.6 L153.3 170.0 L154.1 171.5 L155.0 173.1 L155.9 174.8 L156.8 176.5 L157.6 178.2" stroke="#B06A68" stroke-width="1.05"/>
</g>
<rect x="92.57" y="141.80" width="68.40" height="100.60" fill="none" stroke="#BDBDBD" stroke-width="0.9"/>
<rect x="92.57" y="134.40" width="68.40" height="7.40" fill="#D6D6D6" stroke="#A8A8A8" stroke-width="0.9"/>
<text x="126.77" y="140.10" font-size="4.58" fill="#2a2a2a" stroke="#2a2a2a" stroke-width="0.06" text-anchor="middle">0.05</text>
<line x1="95.42" y1="242.40" x2="95.42" y2="243.80" stroke="#4D4D4D" stroke-width="0.6"/><text x="95.42" y="248.40" font-size="4.28" fill="#505050" text-anchor="middle">0</text><line x1="107.74" y1="242.40" x2="107.74" y2="243.80" stroke="#4D4D4D" stroke-width="0.6"/><text x="107.74" y="248.40" font-size="4.28" fill="#505050" text-anchor="middle">1</text><line x1="120.06" y1="242.40" x2="120.06" y2="243.80" stroke="#4D4D4D" stroke-width="0.6"/><text x="120.06" y="248.40" font-size="4.28" fill="#505050" text-anchor="middle">2</text><line x1="132.38" y1="242.40" x2="132.38" y2="243.80" stroke="#4D4D4D" stroke-width="0.6"/><text x="132.38" y="248.40" font-size="4.28" fill="#505050" text-anchor="middle">3</text><line x1="144.70" y1="242.40" x2="144.70" y2="243.80" stroke="#4D4D4D" stroke-width="0.6"/><text x="144.70" y="248.40" font-size="4.28" fill="#505050" text-anchor="middle">4</text><line x1="157.02" y1="242.40" x2="157.02" y2="243.80" stroke="#4D4D4D" stroke-width="0.6"/><text x="157.02" y="248.40" font-size="4.28" fill="#505050" text-anchor="middle">5</text>
<clipPath id="cB2"><rect x="163.24" y="141.80" width="68.40" height="100.60"/></clipPath>
<line x1="166.09" y1="141.80" x2="166.09" y2="242.40" stroke="#F0F0F0" stroke-width="0.6"/><line x1="172.25" y1="141.80" x2="172.25" y2="242.40" stroke="#F6F6F6" stroke-width="0.6"/><line x1="178.41" y1="141.80" x2="178.41" y2="242.40" stroke="#F0F0F0" stroke-width="0.6"/><line x1="184.57" y1="141.80" x2="184.57" y2="242.40" stroke="#F6F6F6" stroke-width="0.6"/><line x1="190.73" y1="141.80" x2="190.73" y2="242.40" stroke="#F0F0F0" stroke-width="0.6"/><line x1="196.89" y1="141.80" x2="196.89" y2="242.40" stroke="#F6F6F6" stroke-width="0.6"/><line x1="203.05" y1="141.80" x2="203.05" y2="242.40" stroke="#F0F0F0" stroke-width="0.6"/><line x1="209.21" y1="141.80" x2="209.21" y2="242.40" stroke="#F6F6F6" stroke-width="0.6"/><line x1="215.37" y1="141.80" x2="215.37" y2="242.40" stroke="#F0F0F0" stroke-width="0.6"/><line x1="221.53" y1="141.80" x2="221.53" y2="242.40" stroke="#F6F6F6" stroke-width="0.6"/><line x1="227.69" y1="141.80" x2="227.69" y2="242.40" stroke="#F0F0F0" stroke-width="0.6"/><line x1="163.24" y1="236.50" x2="231.64" y2="236.50" stroke="#F0F0F0" stroke-width="0.6"/><line x1="163.24" y1="222.15" x2="231.64" y2="222.15" stroke="#F6F6F6" stroke-width="0.6"/><line x1="163.24" y1="207.80" x2="231.64" y2="207.80" stroke="#F0F0F0" stroke-width="0.6"/><line x1="163.24" y1="193.45" x2="231.64" y2="193.45" stroke="#F6F6F6" stroke-width="0.6"/><line x1="163.24" y1="179.10" x2="231.64" y2="179.10" stroke="#F0F0F0" stroke-width="0.6"/><line x1="163.24" y1="164.75" x2="231.64" y2="164.75" stroke="#F6F6F6" stroke-width="0.6"/><line x1="163.24" y1="150.40" x2="231.64" y2="150.40" stroke="#F0F0F0" stroke-width="0.6"/>
<g clip-path="url(#cB2)" fill="none" stroke-linecap="round" stroke-linejoin="round">
<path d="M166.1 236.5 L167.0 236.4 L167.8 236.2 L168.7 236.1 L169.6 235.9 L170.5 235.8 L171.4 235.6 L172.2 235.5 L173.1 235.3 L174.0 235.2 L174.9 235.0 L175.8 234.9 L176.6 234.8 L177.5 234.6 L178.4 234.5 L179.3 234.3 L180.1 234.2 L181.0 234.0 L181.9 233.9 L182.8 233.7 L183.7 233.6 L184.5 233.5 L185.4 233.3 L186.3 233.2 L187.2 233.0 L188.1 232.9 L188.9 232.7 L189.8 232.6 L190.7 232.5 L191.6 232.3 L192.4 232.2 L193.3 232.0 L194.2 231.9 L195.1 231.8 L196.0 231.6 L196.8 231.5 L197.7 231.3 L198.6 231.2 L199.5 231.1 L200.4 230.9 L201.2 230.8 L202.1 230.6 L203.0 230.5 L203.9 230.3 L204.7 230.2 L205.6 230.1 L206.5 229.9 L207.4 229.8 L208.3 229.6 L209.1 229.5 L210.0 229.4 L210.9 229.2 L211.8 229.1 L212.6 229.0 L213.5 228.8 L214.4 228.7 L215.3 228.5 L216.2 228.4 L217.0 228.3 L217.9 228.1 L218.8 228.0 L219.7 227.8 L220.6 227.7 L221.4 227.6 L222.3 227.4 L223.2 227.3 L224.1 227.2 L224.9 227.0 L225.8 226.9 L226.7 226.7" stroke="#B66FBC" stroke-opacity="0.13" stroke-width="3.4"/>
<path d="M166.1 236.5 L167.0 236.3 L167.9 236.0 L168.7 235.8 L169.6 235.6 L170.5 235.3 L171.4 235.1 L172.3 234.9 L173.2 234.7 L174.0 234.4 L174.9 234.2 L175.8 234.0 L176.7 233.8 L177.6 233.5 L178.5 233.3 L179.3 233.1 L180.2 232.9 L181.1 232.7 L182.0 232.5 L182.9 232.3 L183.8 232.0 L184.6 231.8 L185.5 231.6 L186.4 231.4 L187.3 231.2 L188.2 231.0 L189.1 230.8 L189.9 230.7 L190.8 230.5 L191.7 230.3 L192.6 230.1 L193.5 229.9 L194.4 229.7 L195.2 229.5 L196.1 229.4 L197.0 229.2 L197.9 229.0 L198.8 228.8 L199.7 228.6 L200.5 228.5 L201.4 228.3 L202.3 228.1 L203.2 227.9 L204.1 227.7 L205.0 227.6 L205.8 227.4 L206.7 227.2 L207.6 227.0 L208.5 226.9 L209.4 226.7 L210.3 226.5 L211.1 226.4 L212.0 226.2 L212.9 226.0 L213.8 225.9 L214.7 225.7 L215.6 225.5 L216.4 225.4 L217.3 225.2 L218.2 225.1 L219.1 224.9 L220.0 224.8 L220.8 224.6 L221.7 224.4 L222.6 224.3 L223.5 224.1 L224.4 224.0 L225.3 223.9 L226.1 223.7 L227.0 223.6 L227.9 223.4 L228.8 223.3" stroke="#7085C2" stroke-opacity="0.13" stroke-width="3.4"/>
<path d="M166.1 236.5 L167.0 236.1 L167.9 235.8 L168.7 235.4 L169.6 235.1 L170.5 234.7 L171.4 234.3 L172.3 234.0 L173.2 233.6 L174.0 233.3 L174.9 233.0 L175.8 232.6 L176.7 232.3 L177.6 231.9 L178.5 231.6 L179.3 231.3 L180.2 231.0 L181.1 230.6 L182.0 230.3 L182.9 230.0 L183.8 229.7 L184.6 229.4 L185.5 229.1 L186.4 228.8 L187.3 228.6 L188.2 228.3 L189.1 228.0 L189.9 227.8 L190.8 227.5 L191.7 227.3 L192.6 227.0 L193.5 226.8 L194.4 226.5 L195.2 226.3 L196.1 226.0 L197.0 225.8 L197.9 225.5 L198.8 225.3 L199.7 225.0 L200.5 224.8 L201.4 224.6 L202.3 224.3 L203.2 224.1 L204.1 223.9 L205.0 223.6 L205.8 223.4 L206.7 223.2 L207.6 222.9 L208.5 222.7 L209.4 222.5 L210.3 222.3 L211.1 222.1 L212.0 221.9 L212.9 221.6 L213.8 221.4 L214.7 221.2 L215.6 221.0 L216.4 220.8 L217.3 220.6 L218.2 220.5 L219.1 220.3 L220.0 220.1 L220.8 219.9 L221.7 219.7 L222.6 219.6 L223.5 219.4 L224.4 219.3 L225.3 219.1 L226.1 219.0 L227.0 218.8 L227.9 218.7 L228.8 218.6" stroke="#64A6AE" stroke-opacity="0.13" stroke-width="3.4"/>
<path d="M166.1 236.5 L167.0 235.6 L167.9 234.7 L168.7 233.8 L169.6 232.9 L170.5 232.1 L171.4 231.2 L172.3 230.4 L173.2 229.6 L174.0 228.8 L174.9 228.1 L175.8 227.4 L176.7 226.7 L177.6 226.1 L178.5 225.5 L179.3 224.9 L180.2 224.3 L181.1 223.7 L182.0 223.1 L182.9 222.5 L183.8 222.0 L184.6 221.4 L185.5 220.9 L186.4 220.4 L187.3 219.9 L188.2 219.5 L189.1 219.1 L189.9 218.7 L190.8 218.4 L191.7 218.1 L192.6 217.8 L193.5 217.5 L194.4 217.2 L195.2 216.9 L196.1 216.6 L197.0 216.4 L197.9 216.1 L198.8 215.8 L199.7 215.5 L200.5 215.3 L201.4 215.0 L202.3 214.7 L203.2 214.5 L204.1 214.2 L205.0 214.0 L205.8 213.7 L206.7 213.5 L207.6 213.2 L208.5 213.0 L209.4 212.8 L210.3 212.5 L211.1 212.3 L212.0 212.1 L212.9 211.9 L213.8 211.7 L214.7 211.5 L215.6 211.3 L216.4 211.2 L217.3 211.0 L218.2 210.8 L219.1 210.7 L220.0 210.5 L220.8 210.4 L221.7 210.3 L222.6 210.2 L223.5 210.1 L224.4 210.0 L225.3 209.9 L226.1 209.8 L227.0 209.8 L227.9 209.7 L228.8 209.7" stroke="#6C9A62" stroke-opacity="0.13" stroke-width="3.4"/>
<path d="M166.1 236.5 L167.0 236.1 L167.9 235.5 L168.7 234.7 L169.6 233.7 L170.5 232.7 L171.4 231.5 L172.3 230.3 L173.2 229.0 L174.0 227.3 L174.9 225.2 L175.8 222.9 L176.7 220.6 L177.6 217.8 L178.5 214.6 L179.3 211.4 L180.2 208.6 L181.1 206.4 L182.0 204.5 L182.9 202.7 L183.8 201.2 L184.6 199.8 L185.5 198.8 L186.4 197.9 L187.3 197.1 L188.2 196.2 L189.1 195.5 L189.9 194.8 L190.8 194.2 L191.7 193.9 L192.6 193.7 L193.5 193.6 L194.4 193.5 L195.2 193.4 L196.1 193.3 L197.0 193.2 L197.9 193.1 L198.8 193.0 L199.7 193.0 L200.5 192.9 L201.4 192.8 L202.3 192.8 L203.2 192.8 L204.1 192.7 L205.0 192.7 L205.8 192.7 L206.7 192.7 L207.6 192.7 L208.5 192.6 L209.4 192.6 L210.3 192.6 L211.1 192.6 L212.0 192.6 L212.9 192.5 L213.8 192.5 L214.7 192.5 L215.6 192.5 L216.4 192.5 L217.3 192.5 L218.2 192.4 L219.1 192.4 L220.0 192.4 L220.8 192.4 L221.7 192.4 L222.6 192.4 L223.5 192.4 L224.4 192.4 L225.3 192.4 L226.1 192.4 L227.0 192.4 L227.9 192.4 L228.8 192.4" stroke="#A9A250" stroke-opacity="0.13" stroke-width="3.4"/>
<path d="M166.1 236.5 L167.0 236.1 L167.9 235.6 L168.7 235.2 L169.6 234.9 L170.5 234.6 L171.4 234.4 L172.3 234.3 L173.2 234.4 L174.0 234.4 L174.9 234.6 L175.8 234.7 L176.7 234.9 L177.6 235.1 L178.5 235.3 L179.3 235.5 L180.2 235.7 L181.1 235.9 L182.0 236.1 L182.9 236.3 L183.8 236.5 L184.6 236.7 L185.5 236.8 L186.4 236.8 L187.3 236.7 L188.2 236.4 L189.1 236.0 L189.9 235.5 L190.8 234.9 L191.7 233.1 L192.6 229.2 L193.5 224.9 L194.4 221.0 L195.2 217.0 L196.1 213.0 L197.0 209.1 L197.9 205.2 L198.8 201.4 L199.7 197.6 L200.5 193.8 L201.4 189.9 L202.3 186.8 L203.2 184.3 L204.1 182.0 L205.0 179.7 L205.8 177.3 L206.7 174.8 L207.6 172.2 L208.5 169.7 L209.4 167.2 L210.3 164.9 L211.1 162.8 L212.0 160.8 L212.9 158.9 L213.8 157.1 L214.7 155.5 L215.6 154.2 L216.4 153.1 L217.3 152.0 L218.2 150.9 L219.1 150.0 L220.0 149.2 L220.8 148.5 L221.7 148.1 L222.6 147.7 L223.5 147.3 L224.4 147.0 L225.3 146.7 L226.1 146.5 L227.0 146.4 L227.9 146.3 L228.8 146.4" stroke="#B06A68" stroke-opacity="0.13" stroke-width="3.4"/>
<path d="M166.1 236.5 L167.0 236.4 L167.8 236.2 L168.7 236.1 L169.6 235.9 L170.5 235.8 L171.4 235.6 L172.2 235.5 L173.1 235.3 L174.0 235.2 L174.9 235.0 L175.8 234.9 L176.6 234.8 L177.5 234.6 L178.4 234.5 L179.3 234.3 L180.1 234.2 L181.0 234.0 L181.9 233.9 L182.8 233.7 L183.7 233.6 L184.5 233.5 L185.4 233.3 L186.3 233.2 L187.2 233.0 L188.1 232.9 L188.9 232.7 L189.8 232.6 L190.7 232.5 L191.6 232.3 L192.4 232.2 L193.3 232.0 L194.2 231.9 L195.1 231.8 L196.0 231.6 L196.8 231.5 L197.7 231.3 L198.6 231.2 L199.5 231.1 L200.4 230.9 L201.2 230.8 L202.1 230.6 L203.0 230.5 L203.9 230.3 L204.7 230.2 L205.6 230.1 L206.5 229.9 L207.4 229.8 L208.3 229.6 L209.1 229.5 L210.0 229.4 L210.9 229.2 L211.8 229.1 L212.6 229.0 L213.5 228.8 L214.4 228.7 L215.3 228.5 L216.2 228.4 L217.0 228.3 L217.9 228.1 L218.8 228.0 L219.7 227.8 L220.6 227.7 L221.4 227.6 L222.3 227.4 L223.2 227.3 L224.1 227.2 L224.9 227.0 L225.8 226.9 L226.7 226.7" stroke="#B66FBC" stroke-width="1.05"/>
<path d="M166.1 236.5 L167.0 236.3 L167.9 236.0 L168.7 235.8 L169.6 235.6 L170.5 235.3 L171.4 235.1 L172.3 234.9 L173.2 234.7 L174.0 234.4 L174.9 234.2 L175.8 234.0 L176.7 233.8 L177.6 233.5 L178.5 233.3 L179.3 233.1 L180.2 232.9 L181.1 232.7 L182.0 232.5 L182.9 232.3 L183.8 232.0 L184.6 231.8 L185.5 231.6 L186.4 231.4 L187.3 231.2 L188.2 231.0 L189.1 230.8 L189.9 230.7 L190.8 230.5 L191.7 230.3 L192.6 230.1 L193.5 229.9 L194.4 229.7 L195.2 229.5 L196.1 229.4 L197.0 229.2 L197.9 229.0 L198.8 228.8 L199.7 228.6 L200.5 228.5 L201.4 228.3 L202.3 228.1 L203.2 227.9 L204.1 227.7 L205.0 227.6 L205.8 227.4 L206.7 227.2 L207.6 227.0 L208.5 226.9 L209.4 226.7 L210.3 226.5 L211.1 226.4 L212.0 226.2 L212.9 226.0 L213.8 225.9 L214.7 225.7 L215.6 225.5 L216.4 225.4 L217.3 225.2 L218.2 225.1 L219.1 224.9 L220.0 224.8 L220.8 224.6 L221.7 224.4 L222.6 224.3 L223.5 224.1 L224.4 224.0 L225.3 223.9 L226.1 223.7 L227.0 223.6 L227.9 223.4 L228.8 223.3" stroke="#7085C2" stroke-width="1.05"/>
<path d="M166.1 236.5 L167.0 236.1 L167.9 235.8 L168.7 235.4 L169.6 235.1 L170.5 234.7 L171.4 234.3 L172.3 234.0 L173.2 233.6 L174.0 233.3 L174.9 233.0 L175.8 232.6 L176.7 232.3 L177.6 231.9 L178.5 231.6 L179.3 231.3 L180.2 231.0 L181.1 230.6 L182.0 230.3 L182.9 230.0 L183.8 229.7 L184.6 229.4 L185.5 229.1 L186.4 228.8 L187.3 228.6 L188.2 228.3 L189.1 228.0 L189.9 227.8 L190.8 227.5 L191.7 227.3 L192.6 227.0 L193.5 226.8 L194.4 226.5 L195.2 226.3 L196.1 226.0 L197.0 225.8 L197.9 225.5 L198.8 225.3 L199.7 225.0 L200.5 224.8 L201.4 224.6 L202.3 224.3 L203.2 224.1 L204.1 223.9 L205.0 223.6 L205.8 223.4 L206.7 223.2 L207.6 222.9 L208.5 222.7 L209.4 222.5 L210.3 222.3 L211.1 222.1 L212.0 221.9 L212.9 221.6 L213.8 221.4 L214.7 221.2 L215.6 221.0 L216.4 220.8 L217.3 220.6 L218.2 220.5 L219.1 220.3 L220.0 220.1 L220.8 219.9 L221.7 219.7 L222.6 219.6 L223.5 219.4 L224.4 219.3 L225.3 219.1 L226.1 219.0 L227.0 218.8 L227.9 218.7 L228.8 218.6" stroke="#64A6AE" stroke-width="1.05"/>
<path d="M166.1 236.5 L167.0 235.6 L167.9 234.7 L168.7 233.8 L169.6 232.9 L170.5 232.1 L171.4 231.2 L172.3 230.4 L173.2 229.6 L174.0 228.8 L174.9 228.1 L175.8 227.4 L176.7 226.7 L177.6 226.1 L178.5 225.5 L179.3 224.9 L180.2 224.3 L181.1 223.7 L182.0 223.1 L182.9 222.5 L183.8 222.0 L184.6 221.4 L185.5 220.9 L186.4 220.4 L187.3 219.9 L188.2 219.5 L189.1 219.1 L189.9 218.7 L190.8 218.4 L191.7 218.1 L192.6 217.8 L193.5 217.5 L194.4 217.2 L195.2 216.9 L196.1 216.6 L197.0 216.4 L197.9 216.1 L198.8 215.8 L199.7 215.5 L200.5 215.3 L201.4 215.0 L202.3 214.7 L203.2 214.5 L204.1 214.2 L205.0 214.0 L205.8 213.7 L206.7 213.5 L207.6 213.2 L208.5 213.0 L209.4 212.8 L210.3 212.5 L211.1 212.3 L212.0 212.1 L212.9 211.9 L213.8 211.7 L214.7 211.5 L215.6 211.3 L216.4 211.2 L217.3 211.0 L218.2 210.8 L219.1 210.7 L220.0 210.5 L220.8 210.4 L221.7 210.3 L222.6 210.2 L223.5 210.1 L224.4 210.0 L225.3 209.9 L226.1 209.8 L227.0 209.8 L227.9 209.7 L228.8 209.7" stroke="#6C9A62" stroke-width="1.05"/>
<path d="M166.1 236.5 L167.0 236.1 L167.9 235.5 L168.7 234.7 L169.6 233.7 L170.5 232.7 L171.4 231.5 L172.3 230.3 L173.2 229.0 L174.0 227.3 L174.9 225.2 L175.8 222.9 L176.7 220.6 L177.6 217.8 L178.5 214.6 L179.3 211.4 L180.2 208.6 L181.1 206.4 L182.0 204.5 L182.9 202.7 L183.8 201.2 L184.6 199.8 L185.5 198.8 L186.4 197.9 L187.3 197.1 L188.2 196.2 L189.1 195.5 L189.9 194.8 L190.8 194.2 L191.7 193.9 L192.6 193.7 L193.5 193.6 L194.4 193.5 L195.2 193.4 L196.1 193.3 L197.0 193.2 L197.9 193.1 L198.8 193.0 L199.7 193.0 L200.5 192.9 L201.4 192.8 L202.3 192.8 L203.2 192.8 L204.1 192.7 L205.0 192.7 L205.8 192.7 L206.7 192.7 L207.6 192.7 L208.5 192.6 L209.4 192.6 L210.3 192.6 L211.1 192.6 L212.0 192.6 L212.9 192.5 L213.8 192.5 L214.7 192.5 L215.6 192.5 L216.4 192.5 L217.3 192.5 L218.2 192.4 L219.1 192.4 L220.0 192.4 L220.8 192.4 L221.7 192.4 L222.6 192.4 L223.5 192.4 L224.4 192.4 L225.3 192.4 L226.1 192.4 L227.0 192.4 L227.9 192.4 L228.8 192.4" stroke="#A9A250" stroke-width="1.05"/>
<path d="M166.1 236.5 L167.0 236.1 L167.9 235.6 L168.7 235.2 L169.6 234.9 L170.5 234.6 L171.4 234.4 L172.3 234.3 L173.2 234.4 L174.0 234.4 L174.9 234.6 L175.8 234.7 L176.7 234.9 L177.6 235.1 L178.5 235.3 L179.3 235.5 L180.2 235.7 L181.1 235.9 L182.0 236.1 L182.9 236.3 L183.8 236.5 L184.6 236.7 L185.5 236.8 L186.4 236.8 L187.3 236.7 L188.2 236.4 L189.1 236.0 L189.9 235.5 L190.8 234.9 L191.7 233.1 L192.6 229.2 L193.5 224.9 L194.4 221.0 L195.2 217.0 L196.1 213.0 L197.0 209.1 L197.9 205.2 L198.8 201.4 L199.7 197.6 L200.5 193.8 L201.4 189.9 L202.3 186.8 L203.2 184.3 L204.1 182.0 L205.0 179.7 L205.8 177.3 L206.7 174.8 L207.6 172.2 L208.5 169.7 L209.4 167.2 L210.3 164.9 L211.1 162.8 L212.0 160.8 L212.9 158.9 L213.8 157.1 L214.7 155.5 L215.6 154.2 L216.4 153.1 L217.3 152.0 L218.2 150.9 L219.1 150.0 L220.0 149.2 L220.8 148.5 L221.7 148.1 L222.6 147.7 L223.5 147.3 L224.4 147.0 L225.3 146.7 L226.1 146.5 L227.0 146.4 L227.9 146.3 L228.8 146.4" stroke="#B06A68" stroke-width="1.05"/>
</g>
<rect x="163.24" y="141.80" width="68.40" height="100.60" fill="none" stroke="#BDBDBD" stroke-width="0.9"/>
<rect x="163.24" y="134.40" width="68.40" height="7.40" fill="#D6D6D6" stroke="#A8A8A8" stroke-width="0.9"/>
<text x="197.44" y="140.10" font-size="4.58" fill="#2a2a2a" stroke="#2a2a2a" stroke-width="0.06" text-anchor="middle">0.07</text>
<line x1="166.09" y1="242.40" x2="166.09" y2="243.80" stroke="#4D4D4D" stroke-width="0.6"/><text x="166.09" y="248.40" font-size="4.28" fill="#505050" text-anchor="middle">0</text><line x1="178.41" y1="242.40" x2="178.41" y2="243.80" stroke="#4D4D4D" stroke-width="0.6"/><text x="178.41" y="248.40" font-size="4.28" fill="#505050" text-anchor="middle">1</text><line x1="190.73" y1="242.40" x2="190.73" y2="243.80" stroke="#4D4D4D" stroke-width="0.6"/><text x="190.73" y="248.40" font-size="4.28" fill="#505050" text-anchor="middle">2</text><line x1="203.05" y1="242.40" x2="203.05" y2="243.80" stroke="#4D4D4D" stroke-width="0.6"/><text x="203.05" y="248.40" font-size="4.28" fill="#505050" text-anchor="middle">3</text><line x1="215.37" y1="242.40" x2="215.37" y2="243.80" stroke="#4D4D4D" stroke-width="0.6"/><text x="215.37" y="248.40" font-size="4.28" fill="#505050" text-anchor="middle">4</text><line x1="227.69" y1="242.40" x2="227.69" y2="243.80" stroke="#4D4D4D" stroke-width="0.6"/><text x="227.69" y="248.40" font-size="4.28" fill="#505050" text-anchor="middle">5</text>
<clipPath id="cB3"><rect x="233.91" y="141.80" width="68.40" height="100.60"/></clipPath>
<line x1="236.76" y1="141.80" x2="236.76" y2="242.40" stroke="#F0F0F0" stroke-width="0.6"/><line x1="242.92" y1="141.80" x2="242.92" y2="242.40" stroke="#F6F6F6" stroke-width="0.6"/><line x1="249.08" y1="141.80" x2="249.08" y2="242.40" stroke="#F0F0F0" stroke-width="0.6"/><line x1="255.24" y1="141.80" x2="255.24" y2="242.40" stroke="#F6F6F6" stroke-width="0.6"/><line x1="261.40" y1="141.80" x2="261.40" y2="242.40" stroke="#F0F0F0" stroke-width="0.6"/><line x1="267.56" y1="141.80" x2="267.56" y2="242.40" stroke="#F6F6F6" stroke-width="0.6"/><line x1="273.72" y1="141.80" x2="273.72" y2="242.40" stroke="#F0F0F0" stroke-width="0.6"/><line x1="279.88" y1="141.80" x2="279.88" y2="242.40" stroke="#F6F6F6" stroke-width="0.6"/><line x1="286.04" y1="141.80" x2="286.04" y2="242.40" stroke="#F0F0F0" stroke-width="0.6"/><line x1="292.20" y1="141.80" x2="292.20" y2="242.40" stroke="#F6F6F6" stroke-width="0.6"/><line x1="298.36" y1="141.80" x2="298.36" y2="242.40" stroke="#F0F0F0" stroke-width="0.6"/><line x1="233.91" y1="236.50" x2="302.31" y2="236.50" stroke="#F0F0F0" stroke-width="0.6"/><line x1="233.91" y1="222.15" x2="302.31" y2="222.15" stroke="#F6F6F6" stroke-width="0.6"/><line x1="233.91" y1="207.80" x2="302.31" y2="207.80" stroke="#F0F0F0" stroke-width="0.6"/><line x1="233.91" y1="193.45" x2="302.31" y2="193.45" stroke="#F6F6F6" stroke-width="0.6"/><line x1="233.91" y1="179.10" x2="302.31" y2="179.10" stroke="#F0F0F0" stroke-width="0.6"/><line x1="233.91" y1="164.75" x2="302.31" y2="164.75" stroke="#F6F6F6" stroke-width="0.6"/><line x1="233.91" y1="150.40" x2="302.31" y2="150.40" stroke="#F0F0F0" stroke-width="0.6"/>
<g clip-path="url(#cB3)" fill="none" stroke-linecap="round" stroke-linejoin="round">
<path d="M236.8 236.5 L237.6 236.1 L238.5 235.8 L239.4 235.4 L240.3 235.0 L241.2 234.7 L242.0 234.3 L242.9 233.9 L243.8 233.6 L244.7 233.3 L245.6 232.9 L246.4 232.6 L247.3 232.3 L248.2 232.0 L249.1 231.7 L250.0 231.4 L250.8 231.1 L251.7 230.9 L252.6 230.6 L253.5 230.3 L254.4 230.1 L255.2 229.8 L256.1 229.6 L257.0 229.3 L257.9 229.1 L258.8 228.9 L259.6 228.6 L260.5 228.4 L261.4 228.2 L262.3 227.9 L263.2 227.7 L264.0 227.5 L264.9 227.3 L265.8 227.1 L266.7 226.9 L267.6 226.7 L268.4 226.5 L269.3 226.4 L270.2 226.2 L271.1 226.0 L272.0 225.9 L272.8 225.8 L273.7 225.6 L274.6 225.5 L275.5 225.4 L276.4 225.2 L277.2 225.1 L278.1 225.0 L279.0 224.8 L279.9 224.7 L280.8 224.6 L281.6 224.4 L282.5 224.3 L283.4 224.2 L284.3 224.1 L285.2 223.9 L286.0 223.8 L286.9 223.7 L287.8 223.6 L288.7 223.5 L289.6 223.4 L290.4 223.3 L291.3 223.2 L292.2 223.2 L293.1 223.1 L294.0 223.0 L294.8 222.9 L295.7 222.9 L296.6 222.8 L297.5 222.8 L298.4 222.7" stroke="#B66FBC" stroke-opacity="0.13" stroke-width="3.4"/>
<path d="M236.8 236.5 L237.6 236.0 L238.5 235.5 L239.4 235.0 L240.3 234.5 L241.2 234.0 L242.0 233.5 L242.9 233.0 L243.8 232.6 L244.7 232.1 L245.6 231.7 L246.4 231.2 L247.3 230.8 L248.2 230.4 L249.1 230.0 L250.0 229.6 L250.8 229.2 L251.7 228.9 L252.6 228.5 L253.5 228.2 L254.4 227.9 L255.2 227.5 L256.1 227.2 L257.0 226.9 L257.9 226.6 L258.8 226.2 L259.6 225.9 L260.5 225.6 L261.4 225.3 L262.3 225.0 L263.2 224.7 L264.0 224.5 L264.9 224.2 L265.8 223.9 L266.7 223.7 L267.6 223.4 L268.4 223.2 L269.3 222.9 L270.2 222.7 L271.1 222.5 L272.0 222.3 L272.8 222.1 L273.7 222.0 L274.6 221.8 L275.5 221.6 L276.4 221.4 L277.2 221.2 L278.1 221.0 L279.0 220.8 L279.9 220.6 L280.8 220.5 L281.6 220.3 L282.5 220.1 L283.4 219.9 L284.3 219.8 L285.2 219.6 L286.0 219.5 L286.9 219.3 L287.8 219.1 L288.7 219.0 L289.6 218.9 L290.4 218.7 L291.3 218.6 L292.2 218.5 L293.1 218.4 L294.0 218.3 L294.8 218.2 L295.7 218.1 L296.6 218.0 L297.5 217.9 L298.4 217.8" stroke="#7085C2" stroke-opacity="0.13" stroke-width="3.4"/>
<path d="M236.8 236.5 L237.6 235.7 L238.5 234.8 L239.4 234.0 L240.3 233.2 L241.2 232.4 L242.0 231.6 L242.9 230.8 L243.8 230.1 L244.7 229.3 L245.6 228.6 L246.4 227.9 L247.3 227.3 L248.2 226.6 L249.1 226.0 L250.0 225.5 L250.8 224.9 L251.7 224.5 L252.6 224.0 L253.5 223.6 L254.4 223.1 L255.2 222.7 L256.1 222.3 L257.0 221.9 L257.9 221.5 L258.8 221.1 L259.6 220.7 L260.5 220.3 L261.4 219.9 L262.3 219.5 L263.2 219.2 L264.0 218.8 L264.9 218.5 L265.8 218.2 L266.7 217.9 L267.6 217.6 L268.4 217.3 L269.3 217.0 L270.2 216.8 L271.1 216.5 L272.0 216.3 L272.8 216.1 L273.7 215.9 L274.6 215.7 L275.5 215.5 L276.4 215.2 L277.2 215.0 L278.1 214.8 L279.0 214.6 L279.9 214.4 L280.8 214.2 L281.6 214.0 L282.5 213.8 L283.4 213.6 L284.3 213.4 L285.2 213.2 L286.0 213.0 L286.9 212.8 L287.8 212.7 L288.7 212.5 L289.6 212.3 L290.4 212.2 L291.3 212.0 L292.2 211.9 L293.1 211.8 L294.0 211.7 L294.8 211.6 L295.7 211.5 L296.6 211.4 L297.5 211.3 L298.4 211.2" stroke="#64A6AE" stroke-opacity="0.13" stroke-width="3.4"/>
<path d="M236.8 236.5 L237.6 235.1 L238.5 233.7 L239.4 232.3 L240.3 230.9 L241.2 229.6 L242.0 228.3 L242.9 227.0 L243.8 225.8 L244.7 224.7 L245.6 223.6 L246.4 222.6 L247.3 221.7 L248.2 220.8 L249.1 220.0 L250.0 219.2 L250.8 218.4 L251.7 217.6 L252.6 216.8 L253.5 216.1 L254.4 215.3 L255.2 214.6 L256.1 214.0 L257.0 213.3 L257.9 212.7 L258.8 212.1 L259.6 211.6 L260.5 211.1 L261.4 210.6 L262.3 210.2 L263.2 209.8 L264.0 209.4 L264.9 209.0 L265.8 208.6 L266.7 208.2 L267.6 207.9 L268.4 207.5 L269.3 207.2 L270.2 206.8 L271.1 206.5 L272.0 206.2 L272.8 205.8 L273.7 205.5 L274.6 205.2 L275.5 204.9 L276.4 204.6 L277.2 204.4 L278.1 204.1 L279.0 203.8 L279.9 203.5 L280.8 203.3 L281.6 203.0 L282.5 202.7 L283.4 202.5 L284.3 202.2 L285.2 201.9 L286.0 201.7 L286.9 201.4 L287.8 201.2 L288.7 200.9 L289.6 200.6 L290.4 200.4 L291.3 200.2 L292.2 199.9 L293.1 199.7 L294.0 199.5 L294.8 199.3 L295.7 199.1 L296.6 198.9 L297.5 198.7 L298.4 198.5" stroke="#6C9A62" stroke-opacity="0.13" stroke-width="3.4"/>
<path d="M236.8 236.5 L237.6 236.3 L238.5 236.0 L239.4 235.8 L240.3 235.6 L241.2 235.4 L242.0 235.2 L242.9 235.0 L243.8 234.8 L244.7 234.6 L245.6 234.5 L246.4 234.3 L247.3 234.2 L248.2 234.1 L249.1 233.9 L250.0 233.8 L250.8 233.6 L251.7 233.4 L252.6 233.1 L253.5 232.5 L254.4 231.7 L255.2 230.6 L256.1 229.3 L257.0 227.9 L257.9 226.4 L258.8 224.8 L259.6 222.8 L260.5 220.5 L261.4 218.1 L262.3 215.5 L263.2 213.0 L264.0 210.4 L264.9 207.8 L265.8 205.0 L266.7 202.1 L267.6 199.2 L268.4 196.5 L269.3 194.0 L270.2 191.9 L271.1 190.1 L272.0 188.4 L272.8 186.8 L273.7 185.4 L274.6 184.2 L275.5 183.0 L276.4 182.1 L277.2 181.1 L278.1 180.2 L279.0 179.3 L279.9 178.4 L280.8 177.6 L281.6 176.9 L282.5 176.2 L283.4 175.7 L284.3 175.3 L285.2 175.0 L286.0 174.7 L286.9 174.4 L287.8 174.2 L288.7 173.9 L289.6 173.7 L290.4 173.5 L291.3 173.4 L292.2 173.4 L293.1 173.4 L294.0 173.4 L294.8 173.4 L295.7 173.5 L296.6 173.6 L297.5 173.8 L298.4 173.9" stroke="#A9A250" stroke-opacity="0.13" stroke-width="3.4"/>
<path d="M236.8 236.5 L237.6 236.3 L238.5 236.1 L239.4 235.9 L240.3 235.8 L241.2 235.6 L242.0 235.4 L242.9 235.3 L243.8 235.2 L244.7 235.1 L245.6 235.0 L246.4 234.9 L247.3 234.8 L248.2 234.8 L249.1 234.8 L250.0 234.8 L250.8 234.8 L251.7 234.9 L252.6 235.0 L253.5 235.1 L254.4 235.2 L255.2 235.3 L256.1 235.4 L257.0 235.5 L257.9 235.8 L258.8 236.1 L259.6 236.5 L260.5 236.9 L261.4 237.3 L262.3 237.8 L263.2 238.1 L264.0 238.5 L264.9 238.8 L265.8 238.9 L266.7 238.7 L267.6 238.2 L268.4 237.5 L269.3 236.6 L270.2 235.6 L271.1 234.4 L272.0 232.9 L272.8 230.7 L273.7 228.0 L274.6 225.1 L275.5 222.0 L276.4 218.9 L277.2 216.0 L278.1 213.2 L279.0 210.2 L279.9 207.3 L280.8 204.4 L281.6 201.7 L282.5 199.3 L283.4 197.2 L284.3 195.4 L285.2 193.7 L286.0 191.8 L286.9 189.6 L287.8 187.2 L288.7 184.7 L289.6 182.1 L290.4 179.6 L291.3 177.1 L292.2 174.7 L293.1 172.4 L294.0 170.2 L294.8 168.0 L295.7 165.8 L296.6 163.7 L297.5 161.7 L298.4 159.7" stroke="#B06A68" stroke-opacity="0.13" stroke-width="3.4"/>
<path d="M236.8 236.5 L237.6 236.1 L238.5 235.8 L239.4 235.4 L240.3 235.0 L241.2 234.7 L242.0 234.3 L242.9 233.9 L243.8 233.6 L244.7 233.3 L245.6 232.9 L246.4 232.6 L247.3 232.3 L248.2 232.0 L249.1 231.7 L250.0 231.4 L250.8 231.1 L251.7 230.9 L252.6 230.6 L253.5 230.3 L254.4 230.1 L255.2 229.8 L256.1 229.6 L257.0 229.3 L257.9 229.1 L258.8 228.9 L259.6 228.6 L260.5 228.4 L261.4 228.2 L262.3 227.9 L263.2 227.7 L264.0 227.5 L264.9 227.3 L265.8 227.1 L266.7 226.9 L267.6 226.7 L268.4 226.5 L269.3 226.4 L270.2 226.2 L271.1 226.0 L272.0 225.9 L272.8 225.8 L273.7 225.6 L274.6 225.5 L275.5 225.4 L276.4 225.2 L277.2 225.1 L278.1 225.0 L279.0 224.8 L279.9 224.7 L280.8 224.6 L281.6 224.4 L282.5 224.3 L283.4 224.2 L284.3 224.1 L285.2 223.9 L286.0 223.8 L286.9 223.7 L287.8 223.6 L288.7 223.5 L289.6 223.4 L290.4 223.3 L291.3 223.2 L292.2 223.2 L293.1 223.1 L294.0 223.0 L294.8 222.9 L295.7 222.9 L296.6 222.8 L297.5 222.8 L298.4 222.7" stroke="#B66FBC" stroke-width="1.05"/>
<path d="M236.8 236.5 L237.6 236.0 L238.5 235.5 L239.4 235.0 L240.3 234.5 L241.2 234.0 L242.0 233.5 L242.9 233.0 L243.8 232.6 L244.7 232.1 L245.6 231.7 L246.4 231.2 L247.3 230.8 L248.2 230.4 L249.1 230.0 L250.0 229.6 L250.8 229.2 L251.7 228.9 L252.6 228.5 L253.5 228.2 L254.4 227.9 L255.2 227.5 L256.1 227.2 L257.0 226.9 L257.9 226.6 L258.8 226.2 L259.6 225.9 L260.5 225.6 L261.4 225.3 L262.3 225.0 L263.2 224.7 L264.0 224.5 L264.9 224.2 L265.8 223.9 L266.7 223.7 L267.6 223.4 L268.4 223.2 L269.3 222.9 L270.2 222.7 L271.1 222.5 L272.0 222.3 L272.8 222.1 L273.7 222.0 L274.6 221.8 L275.5 221.6 L276.4 221.4 L277.2 221.2 L278.1 221.0 L279.0 220.8 L279.9 220.6 L280.8 220.5 L281.6 220.3 L282.5 220.1 L283.4 219.9 L284.3 219.8 L285.2 219.6 L286.0 219.5 L286.9 219.3 L287.8 219.1 L288.7 219.0 L289.6 218.9 L290.4 218.7 L291.3 218.6 L292.2 218.5 L293.1 218.4 L294.0 218.3 L294.8 218.2 L295.7 218.1 L296.6 218.0 L297.5 217.9 L298.4 217.8" stroke="#7085C2" stroke-width="1.05"/>
<path d="M236.8 236.5 L237.6 235.7 L238.5 234.8 L239.4 234.0 L240.3 233.2 L241.2 232.4 L242.0 231.6 L242.9 230.8 L243.8 230.1 L244.7 229.3 L245.6 228.6 L246.4 227.9 L247.3 227.3 L248.2 226.6 L249.1 226.0 L250.0 225.5 L250.8 224.9 L251.7 224.5 L252.6 224.0 L253.5 223.6 L254.4 223.1 L255.2 222.7 L256.1 222.3 L257.0 221.9 L257.9 221.5 L258.8 221.1 L259.6 220.7 L260.5 220.3 L261.4 219.9 L262.3 219.5 L263.2 219.2 L264.0 218.8 L264.9 218.5 L265.8 218.2 L266.7 217.9 L267.6 217.6 L268.4 217.3 L269.3 217.0 L270.2 216.8 L271.1 216.5 L272.0 216.3 L272.8 216.1 L273.7 215.9 L274.6 215.7 L275.5 215.5 L276.4 215.2 L277.2 215.0 L278.1 214.8 L279.0 214.6 L279.9 214.4 L280.8 214.2 L281.6 214.0 L282.5 213.8 L283.4 213.6 L284.3 213.4 L285.2 213.2 L286.0 213.0 L286.9 212.8 L287.8 212.7 L288.7 212.5 L289.6 212.3 L290.4 212.2 L291.3 212.0 L292.2 211.9 L293.1 211.8 L294.0 211.7 L294.8 211.6 L295.7 211.5 L296.6 211.4 L297.5 211.3 L298.4 211.2" stroke="#64A6AE" stroke-width="1.05"/>
<path d="M236.8 236.5 L237.6 235.1 L238.5 233.7 L239.4 232.3 L240.3 230.9 L241.2 229.6 L242.0 228.3 L242.9 227.0 L243.8 225.8 L244.7 224.7 L245.6 223.6 L246.4 222.6 L247.3 221.7 L248.2 220.8 L249.1 220.0 L250.0 219.2 L250.8 218.4 L251.7 217.6 L252.6 216.8 L253.5 216.1 L254.4 215.3 L255.2 214.6 L256.1 214.0 L257.0 213.3 L257.9 212.7 L258.8 212.1 L259.6 211.6 L260.5 211.1 L261.4 210.6 L262.3 210.2 L263.2 209.8 L264.0 209.4 L264.9 209.0 L265.8 208.6 L266.7 208.2 L267.6 207.9 L268.4 207.5 L269.3 207.2 L270.2 206.8 L271.1 206.5 L272.0 206.2 L272.8 205.8 L273.7 205.5 L274.6 205.2 L275.5 204.9 L276.4 204.6 L277.2 204.4 L278.1 204.1 L279.0 203.8 L279.9 203.5 L280.8 203.3 L281.6 203.0 L282.5 202.7 L283.4 202.5 L284.3 202.2 L285.2 201.9 L286.0 201.7 L286.9 201.4 L287.8 201.2 L288.7 200.9 L289.6 200.6 L290.4 200.4 L291.3 200.2 L292.2 199.9 L293.1 199.7 L294.0 199.5 L294.8 199.3 L295.7 199.1 L296.6 198.9 L297.5 198.7 L298.4 198.5" stroke="#6C9A62" stroke-width="1.05"/>
<path d="M236.8 236.5 L237.6 236.3 L238.5 236.0 L239.4 235.8 L240.3 235.6 L241.2 235.4 L242.0 235.2 L242.9 235.0 L243.8 234.8 L244.7 234.6 L245.6 234.5 L246.4 234.3 L247.3 234.2 L248.2 234.1 L249.1 233.9 L250.0 233.8 L250.8 233.6 L251.7 233.4 L252.6 233.1 L253.5 232.5 L254.4 231.7 L255.2 230.6 L256.1 229.3 L257.0 227.9 L257.9 226.4 L258.8 224.8 L259.6 222.8 L260.5 220.5 L261.4 218.1 L262.3 215.5 L263.2 213.0 L264.0 210.4 L264.9 207.8 L265.8 205.0 L266.7 202.1 L267.6 199.2 L268.4 196.5 L269.3 194.0 L270.2 191.9 L271.1 190.1 L272.0 188.4 L272.8 186.8 L273.7 185.4 L274.6 184.2 L275.5 183.0 L276.4 182.1 L277.2 181.1 L278.1 180.2 L279.0 179.3 L279.9 178.4 L280.8 177.6 L281.6 176.9 L282.5 176.2 L283.4 175.7 L284.3 175.3 L285.2 175.0 L286.0 174.7 L286.9 174.4 L287.8 174.2 L288.7 173.9 L289.6 173.7 L290.4 173.5 L291.3 173.4 L292.2 173.4 L293.1 173.4 L294.0 173.4 L294.8 173.4 L295.7 173.5 L296.6 173.6 L297.5 173.8 L298.4 173.9" stroke="#A9A250" stroke-width="1.05"/>
<path d="M236.8 236.5 L237.6 236.3 L238.5 236.1 L239.4 235.9 L240.3 235.8 L241.2 235.6 L242.0 235.4 L242.9 235.3 L243.8 235.2 L244.7 235.1 L245.6 235.0 L246.4 234.9 L247.3 234.8 L248.2 234.8 L249.1 234.8 L250.0 234.8 L250.8 234.8 L251.7 234.9 L252.6 235.0 L253.5 235.1 L254.4 235.2 L255.2 235.3 L256.1 235.4 L257.0 235.5 L257.9 235.8 L258.8 236.1 L259.6 236.5 L260.5 236.9 L261.4 237.3 L262.3 237.8 L263.2 238.1 L264.0 238.5 L264.9 238.8 L265.8 238.9 L266.7 238.7 L267.6 238.2 L268.4 237.5 L269.3 236.6 L270.2 235.6 L271.1 234.4 L272.0 232.9 L272.8 230.7 L273.7 228.0 L274.6 225.1 L275.5 222.0 L276.4 218.9 L277.2 216.0 L278.1 213.2 L279.0 210.2 L279.9 207.3 L280.8 204.4 L281.6 201.7 L282.5 199.3 L283.4 197.2 L284.3 195.4 L285.2 193.7 L286.0 191.8 L286.9 189.6 L287.8 187.2 L288.7 184.7 L289.6 182.1 L290.4 179.6 L291.3 177.1 L292.2 174.7 L293.1 172.4 L294.0 170.2 L294.8 168.0 L295.7 165.8 L296.6 163.7 L297.5 161.7 L298.4 159.7" stroke="#B06A68" stroke-width="1.05"/>
</g>
<rect x="233.91" y="141.80" width="68.40" height="100.60" fill="none" stroke="#BDBDBD" stroke-width="0.9"/>
<rect x="233.91" y="134.40" width="68.40" height="7.40" fill="#D6D6D6" stroke="#A8A8A8" stroke-width="0.9"/>
<text x="268.11" y="140.10" font-size="4.58" fill="#2a2a2a" stroke="#2a2a2a" stroke-width="0.06" text-anchor="middle">0.1</text>
<line x1="236.76" y1="242.40" x2="236.76" y2="243.80" stroke="#4D4D4D" stroke-width="0.6"/><text x="236.76" y="248.40" font-size="4.28" fill="#505050" text-anchor="middle">0</text><line x1="249.08" y1="242.40" x2="249.08" y2="243.80" stroke="#4D4D4D" stroke-width="0.6"/><text x="249.08" y="248.40" font-size="4.28" fill="#505050" text-anchor="middle">1</text><line x1="261.40" y1="242.40" x2="261.40" y2="243.80" stroke="#4D4D4D" stroke-width="0.6"/><text x="261.40" y="248.40" font-size="4.28" fill="#505050" text-anchor="middle">2</text><line x1="273.72" y1="242.40" x2="273.72" y2="243.80" stroke="#4D4D4D" stroke-width="0.6"/><text x="273.72" y="248.40" font-size="4.28" fill="#505050" text-anchor="middle">3</text><line x1="286.04" y1="242.40" x2="286.04" y2="243.80" stroke="#4D4D4D" stroke-width="0.6"/><text x="286.04" y="248.40" font-size="4.28" fill="#505050" text-anchor="middle">4</text><line x1="298.36" y1="242.40" x2="298.36" y2="243.80" stroke="#4D4D4D" stroke-width="0.6"/><text x="298.36" y="248.40" font-size="4.28" fill="#505050" text-anchor="middle">5</text>
<text x="309.50" y="170.04" font-size="5.70" fill="#111" stroke="#111" stroke-width="0.22" textLength="37.46" lengthAdjust="spacingAndGlyphs">Days Since Rain</text>
<rect x="310.00" y="171.90" width="7.84" height="7.80" fill="#EEEEEE"/>
<rect x="310.00" y="172.70" width="7.84" height="6.20" fill="#B06A68" fill-opacity="0.08"/>
<line x1="310.80" y1="175.80" x2="317.04" y2="175.80" stroke="#B06A68" stroke-width="1.0" stroke-opacity="0.6"/>
<text x="319.14" y="177.53" font-size="4.89" fill="#222" stroke="#222" stroke-width="0.15">0</text>
<rect x="310.00" y="179.70" width="7.84" height="7.80" fill="#EEEEEE"/>
<rect x="310.00" y="180.50" width="7.84" height="6.20" fill="#A9A250" fill-opacity="0.08"/>
<line x1="310.80" y1="183.60" x2="317.04" y2="183.60" stroke="#A9A250" stroke-width="1.0" stroke-opacity="0.6"/>
<text x="319.14" y="185.33" font-size="4.89" fill="#222" stroke="#222" stroke-width="0.15">1</text>
<rect x="310.00" y="187.50" width="7.84" height="7.80" fill="#EEEEEE"/>
<rect x="310.00" y="188.30" width="7.84" height="6.20" fill="#6C9A62" fill-opacity="0.08"/>
<line x1="310.80" y1="191.40" x2="317.04" y2="191.40" stroke="#6C9A62" stroke-width="1.0" stroke-opacity="0.6"/>
<text x="319.14" y="193.13" font-size="4.89" fill="#222" stroke="#222" stroke-width="0.15">2</text>
<rect x="310.00" y="195.30" width="7.84" height="7.80" fill="#EEEEEE"/>
<rect x="310.00" y="196.10" width="7.84" height="6.20" fill="#64A6AE" fill-opacity="0.08"/>
<line x1="310.80" y1="199.20" x2="317.04" y2="199.20" stroke="#64A6AE" stroke-width="1.0" stroke-opacity="0.6"/>
<text x="319.14" y="200.93" font-size="4.89" fill="#222" stroke="#222" stroke-width="0.15">3</text>
<rect x="310.00" y="203.10" width="7.84" height="7.80" fill="#EEEEEE"/>
<rect x="310.00" y="203.90" width="7.84" height="6.20" fill="#7085C2" fill-opacity="0.08"/>
<line x1="310.80" y1="207.00" x2="317.04" y2="207.00" stroke="#7085C2" stroke-width="1.0" stroke-opacity="0.6"/>
<text x="319.14" y="208.73" font-size="4.89" fill="#222" stroke="#222" stroke-width="0.15">4</text>
<rect x="310.00" y="210.90" width="7.84" height="7.80" fill="#EEEEEE"/>
<rect x="310.00" y="211.70" width="7.84" height="6.20" fill="#B66FBC" fill-opacity="0.08"/>
<line x1="310.80" y1="214.80" x2="317.04" y2="214.80" stroke="#B66FBC" stroke-width="1.0" stroke-opacity="0.6"/>
<text x="319.14" y="216.53" font-size="4.89" fill="#222" stroke="#222" stroke-width="0.15">5</text>
<clipPath id="cC0"><rect x="22.30" y="276.30" width="69.60" height="102.80"/></clipPath>
<line x1="25.15" y1="276.30" x2="25.15" y2="379.10" stroke="#F0F0F0" stroke-width="0.6"/><line x1="31.45" y1="276.30" x2="31.45" y2="379.10" stroke="#F6F6F6" stroke-width="0.6"/><line x1="37.75" y1="276.30" x2="37.75" y2="379.10" stroke="#F0F0F0" stroke-width="0.6"/><line x1="44.05" y1="276.30" x2="44.05" y2="379.10" stroke="#F6F6F6" stroke-width="0.6"/><line x1="50.35" y1="276.30" x2="50.35" y2="379.10" stroke="#F0F0F0" stroke-width="0.6"/><line x1="56.65" y1="276.30" x2="56.65" y2="379.10" stroke="#F6F6F6" stroke-width="0.6"/><line x1="62.95" y1="276.30" x2="62.95" y2="379.10" stroke="#F0F0F0" stroke-width="0.6"/><line x1="69.25" y1="276.30" x2="69.25" y2="379.10" stroke="#F6F6F6" stroke-width="0.6"/><line x1="75.55" y1="276.30" x2="75.55" y2="379.10" stroke="#F0F0F0" stroke-width="0.6"/><line x1="81.85" y1="276.30" x2="81.85" y2="379.10" stroke="#F6F6F6" stroke-width="0.6"/><line x1="88.15" y1="276.30" x2="88.15" y2="379.10" stroke="#F0F0F0" stroke-width="0.6"/><line x1="22.30" y1="373.80" x2="91.90" y2="373.80" stroke="#F0F0F0" stroke-width="0.6"/><line x1="22.30" y1="357.50" x2="91.90" y2="357.50" stroke="#F6F6F6" stroke-width="0.6"/><line x1="22.30" y1="341.20" x2="91.90" y2="341.20" stroke="#F0F0F0" stroke-width="0.6"/><line x1="22.30" y1="324.90" x2="91.90" y2="324.90" stroke="#F6F6F6" stroke-width="0.6"/><line x1="22.30" y1="308.60" x2="91.90" y2="308.60" stroke="#F0F0F0" stroke-width="0.6"/><line x1="22.30" y1="292.30" x2="91.90" y2="292.30" stroke="#F6F6F6" stroke-width="0.6"/>
<g clip-path="url(#cC0)" fill="none" stroke-linecap="round" stroke-linejoin="round">
<path d="M25.2 373.8 L26.1 373.7 L27.0 373.6 L27.9 373.5 L28.8 373.3 L29.7 373.2 L30.6 373.1 L31.5 373.0 L32.4 372.9 L33.3 372.8 L34.2 372.7 L35.1 372.6 L36.0 372.5 L36.9 372.4 L37.8 372.3 L38.7 372.2 L39.6 372.1 L40.5 372.1 L41.4 372.0 L42.3 371.9 L43.2 371.9 L44.1 371.8 L45.0 371.8 L45.9 371.8 L46.8 371.7 L47.7 371.7 L48.6 371.6 L49.5 371.6 L50.5 371.5 L51.4 371.5 L52.3 371.4 L53.2 371.4 L54.1 371.4 L55.0 371.3 L55.9 371.3 L56.8 371.2 L57.7 371.2 L58.6 371.2 L59.5 371.1 L60.4 371.1 L61.3 371.1 L62.2 371.0 L63.1 371.0 L64.0 371.0 L64.9 370.9 L65.8 370.9 L66.7 370.9 L67.6 370.8 L68.5 370.8 L69.4 370.8 L70.3 370.8 L71.2 370.7 L72.1 370.7 L73.0 370.7 L73.9 370.7 L74.8 370.7 L75.8 370.6 L76.7 370.6 L77.6 370.6 L78.5 370.6 L79.4 370.6 L80.3 370.6 L81.2 370.6 L82.1 370.5 L83.0 370.5 L83.9 370.5 L84.8 370.5 L85.7 370.5 L86.6 370.5 L87.5 370.5 L88.4 370.5" stroke="#B66FBC" stroke-opacity="0.13" stroke-width="3.4"/>
<path d="M25.2 373.8 L26.1 373.6 L27.0 373.5 L27.9 373.3 L28.8 373.1 L29.7 372.9 L30.6 372.8 L31.5 372.6 L32.4 372.4 L33.3 372.3 L34.2 372.1 L35.1 372.0 L36.0 371.8 L36.9 371.7 L37.8 371.6 L38.7 371.4 L39.6 371.3 L40.5 371.2 L41.4 371.1 L42.3 371.0 L43.2 370.9 L44.1 370.9 L45.0 370.8 L45.9 370.7 L46.8 370.7 L47.7 370.6 L48.6 370.5 L49.5 370.5 L50.5 370.4 L51.4 370.3 L52.3 370.3 L53.2 370.2 L54.1 370.2 L55.0 370.1 L55.9 370.1 L56.8 370.0 L57.7 369.9 L58.6 369.9 L59.5 369.8 L60.4 369.8 L61.3 369.7 L62.2 369.7 L63.1 369.6 L64.0 369.6 L64.9 369.6 L65.8 369.5 L66.7 369.5 L67.6 369.4 L68.5 369.4 L69.4 369.4 L70.3 369.3 L71.2 369.3 L72.1 369.3 L73.0 369.2 L73.9 369.2 L74.8 369.2 L75.8 369.2 L76.7 369.1 L77.6 369.1 L78.5 369.1 L79.4 369.1 L80.3 369.1 L81.2 369.1 L82.1 369.1 L83.0 369.1 L83.9 369.0 L84.8 369.0 L85.7 369.1 L86.6 369.1 L87.5 369.1 L88.4 369.1" stroke="#7085C2" stroke-opacity="0.13" stroke-width="3.4"/>
<path d="M25.2 373.8 L26.1 373.6 L27.0 373.3 L27.9 373.1 L28.8 372.8 L29.7 372.6 L30.6 372.4 L31.5 372.1 L32.4 371.9 L33.3 371.7 L34.2 371.5 L35.1 371.3 L36.0 371.1 L36.9 370.9 L37.8 370.7 L38.7 370.5 L39.6 370.3 L40.5 370.2 L41.4 370.1 L42.3 369.9 L43.2 369.8 L44.1 369.7 L45.0 369.6 L45.9 369.5 L46.8 369.5 L47.7 369.4 L48.6 369.3 L49.5 369.2 L50.5 369.1 L51.4 369.0 L52.3 368.9 L53.2 368.9 L54.1 368.8 L55.0 368.7 L55.9 368.6 L56.8 368.6 L57.7 368.5 L58.6 368.4 L59.5 368.4 L60.4 368.3 L61.3 368.2 L62.2 368.2 L63.1 368.1 L64.0 368.0 L64.9 368.0 L65.8 367.9 L66.7 367.9 L67.6 367.8 L68.5 367.8 L69.4 367.7 L70.3 367.7 L71.2 367.6 L72.1 367.6 L73.0 367.6 L73.9 367.5 L74.8 367.5 L75.8 367.5 L76.7 367.5 L77.6 367.4 L78.5 367.4 L79.4 367.4 L80.3 367.4 L81.2 367.4 L82.1 367.4 L83.0 367.4 L83.9 367.4 L84.8 367.4 L85.7 367.4 L86.6 367.4 L87.5 367.4 L88.4 367.4" stroke="#64A6AE" stroke-opacity="0.13" stroke-width="3.4"/>
<path d="M25.2 373.8 L26.1 373.3 L27.0 372.7 L27.9 372.2 L28.8 371.6 L29.7 371.1 L30.6 370.6 L31.5 370.2 L32.4 369.7 L33.3 369.3 L34.2 369.0 L35.1 368.7 L36.0 368.5 L36.9 368.4 L37.8 368.2 L38.7 368.1 L39.6 367.9 L40.5 367.8 L41.4 367.7 L42.3 367.5 L43.2 367.4 L44.1 367.3 L45.0 367.2 L45.9 367.0 L46.8 366.9 L47.7 366.8 L48.6 366.7 L49.5 366.6 L50.5 366.5 L51.4 366.4 L52.3 366.3 L53.2 366.2 L54.1 366.1 L55.0 366.1 L55.9 366.0 L56.8 365.9 L57.7 365.9 L58.6 365.8 L59.5 365.7 L60.4 365.7 L61.3 365.7 L62.2 365.6 L63.1 365.6 L64.0 365.5 L64.9 365.5 L65.8 365.5 L66.7 365.4 L67.6 365.4 L68.5 365.3 L69.4 365.3 L70.3 365.3 L71.2 365.2 L72.1 365.2 L73.0 365.2 L73.9 365.1 L74.8 365.1 L75.8 365.1 L76.7 365.0 L77.6 365.0 L78.5 365.0 L79.4 364.9 L80.3 364.9 L81.2 364.9 L82.1 364.9 L83.0 364.9 L83.9 364.8 L84.8 364.8 L85.7 364.8 L86.6 364.8 L87.5 364.8 L88.4 364.8" stroke="#6C9A62" stroke-opacity="0.13" stroke-width="3.4"/>
<path d="M25.2 373.8 L26.1 372.6 L27.0 371.4 L27.9 370.2 L28.8 369.1 L29.7 368.1 L30.6 367.2 L31.5 366.3 L32.4 365.3 L33.3 364.4 L34.2 363.6 L35.1 362.9 L36.0 362.4 L36.9 362.1 L37.8 361.8 L38.7 361.6 L39.6 361.4 L40.5 361.1 L41.4 360.9 L42.3 360.7 L43.2 360.5 L44.1 360.3 L45.0 360.1 L45.9 360.0 L46.8 359.9 L47.7 359.7 L48.6 359.6 L49.5 359.6 L50.5 359.5 L51.4 359.4 L52.3 359.4 L53.2 359.4 L54.1 359.3 L55.0 359.3 L55.9 359.3 L56.8 359.2 L57.7 359.2 L58.6 359.1 L59.5 359.1 L60.4 359.1 L61.3 359.0 L62.2 359.0 L63.1 359.0 L64.0 359.0 L64.9 358.9 L65.8 358.9 L66.7 358.9 L67.6 358.9 L68.5 358.8 L69.4 358.8 L70.3 358.8 L71.2 358.8 L72.1 358.8 L73.0 358.8 L73.9 358.8 L74.8 358.8 L75.8 358.8 L76.7 358.8 L77.6 358.8 L78.5 358.8 L79.4 358.8 L80.3 358.8 L81.2 358.8 L82.1 358.9 L83.0 358.9 L83.9 358.9 L84.8 358.9 L85.7 359.0 L86.6 359.0 L87.5 359.1 L88.4 359.1" stroke="#A9A250" stroke-opacity="0.13" stroke-width="3.4"/>
<path d="M25.2 373.8 L26.0 373.9 L26.9 373.9 L27.8 373.8 L28.7 373.2 L29.6 372.3 L30.5 370.7 L31.4 368.3 L32.3 365.4 L33.2 360.4 L34.1 352.4 L35.0 342.6 L35.9 330.5 L36.8 321.5 L37.7 314.1 L38.6 308.7 L39.5 304.0 L40.4 300.6 L41.2 298.9 L42.1 297.5 L43.0 297.0 L43.9 297.6 L44.8 298.6 L45.7 299.8 L46.6 301.3 L47.5 303.1 L48.4 305.2 L49.3 307.7 L50.2 310.5 L51.1 313.1 L52.0 315.2 L52.9 317.1 L53.8 318.9 L54.7 320.5 L55.6 321.9 L56.5 323.3 L57.3 324.6 L58.2 325.7 L59.1 326.8 L60.0 327.8 L60.9 328.8 L61.8 329.7 L62.7 330.6 L63.6 331.5 L64.5 332.3 L65.4 333.0 L66.3 333.6 L67.2 334.2 L68.1 334.8 L69.0 335.4 L69.9 335.9 L70.8 336.4 L71.7 336.9 L72.6 337.4 L73.4 337.9 L74.3 338.4 L75.2 338.9 L76.1 339.3 L77.0 339.8 L77.9 340.3 L78.8 340.7 L79.7 341.1 L80.6 341.5 L81.5 341.9 L82.4 342.3 L83.3 342.7 L84.2 343.1 L85.1 343.5 L86.0 343.8 L86.9 344.1 L87.8 344.5 L88.7 344.8" stroke="#B06A68" stroke-opacity="0.13" stroke-width="3.4"/>
<path d="M25.2 373.8 L26.1 373.7 L27.0 373.6 L27.9 373.5 L28.8 373.3 L29.7 373.2 L30.6 373.1 L31.5 373.0 L32.4 372.9 L33.3 372.8 L34.2 372.7 L35.1 372.6 L36.0 372.5 L36.9 372.4 L37.8 372.3 L38.7 372.2 L39.6 372.1 L40.5 372.1 L41.4 372.0 L42.3 371.9 L43.2 371.9 L44.1 371.8 L45.0 371.8 L45.9 371.8 L46.8 371.7 L47.7 371.7 L48.6 371.6 L49.5 371.6 L50.5 371.5 L51.4 371.5 L52.3 371.4 L53.2 371.4 L54.1 371.4 L55.0 371.3 L55.9 371.3 L56.8 371.2 L57.7 371.2 L58.6 371.2 L59.5 371.1 L60.4 371.1 L61.3 371.1 L62.2 371.0 L63.1 371.0 L64.0 371.0 L64.9 370.9 L65.8 370.9 L66.7 370.9 L67.6 370.8 L68.5 370.8 L69.4 370.8 L70.3 370.8 L71.2 370.7 L72.1 370.7 L73.0 370.7 L73.9 370.7 L74.8 370.7 L75.8 370.6 L76.7 370.6 L77.6 370.6 L78.5 370.6 L79.4 370.6 L80.3 370.6 L81.2 370.6 L82.1 370.5 L83.0 370.5 L83.9 370.5 L84.8 370.5 L85.7 370.5 L86.6 370.5 L87.5 370.5 L88.4 370.5" stroke="#B66FBC" stroke-width="1.05"/>
<path d="M25.2 373.8 L26.1 373.6 L27.0 373.5 L27.9 373.3 L28.8 373.1 L29.7 372.9 L30.6 372.8 L31.5 372.6 L32.4 372.4 L33.3 372.3 L34.2 372.1 L35.1 372.0 L36.0 371.8 L36.9 371.7 L37.8 371.6 L38.7 371.4 L39.6 371.3 L40.5 371.2 L41.4 371.1 L42.3 371.0 L43.2 370.9 L44.1 370.9 L45.0 370.8 L45.9 370.7 L46.8 370.7 L47.7 370.6 L48.6 370.5 L49.5 370.5 L50.5 370.4 L51.4 370.3 L52.3 370.3 L53.2 370.2 L54.1 370.2 L55.0 370.1 L55.9 370.1 L56.8 370.0 L57.7 369.9 L58.6 369.9 L59.5 369.8 L60.4 369.8 L61.3 369.7 L62.2 369.7 L63.1 369.6 L64.0 369.6 L64.9 369.6 L65.8 369.5 L66.7 369.5 L67.6 369.4 L68.5 369.4 L69.4 369.4 L70.3 369.3 L71.2 369.3 L72.1 369.3 L73.0 369.2 L73.9 369.2 L74.8 369.2 L75.8 369.2 L76.7 369.1 L77.6 369.1 L78.5 369.1 L79.4 369.1 L80.3 369.1 L81.2 369.1 L82.1 369.1 L83.0 369.1 L83.9 369.0 L84.8 369.0 L85.7 369.1 L86.6 369.1 L87.5 369.1 L88.4 369.1" stroke="#7085C2" stroke-width="1.05"/>
<path d="M25.2 373.8 L26.1 373.6 L27.0 373.3 L27.9 373.1 L28.8 372.8 L29.7 372.6 L30.6 372.4 L31.5 372.1 L32.4 371.9 L33.3 371.7 L34.2 371.5 L35.1 371.3 L36.0 371.1 L36.9 370.9 L37.8 370.7 L38.7 370.5 L39.6 370.3 L40.5 370.2 L41.4 370.1 L42.3 369.9 L43.2 369.8 L44.1 369.7 L45.0 369.6 L45.9 369.5 L46.8 369.5 L47.7 369.4 L48.6 369.3 L49.5 369.2 L50.5 369.1 L51.4 369.0 L52.3 368.9 L53.2 368.9 L54.1 368.8 L55.0 368.7 L55.9 368.6 L56.8 368.6 L57.7 368.5 L58.6 368.4 L59.5 368.4 L60.4 368.3 L61.3 368.2 L62.2 368.2 L63.1 368.1 L64.0 368.0 L64.9 368.0 L65.8 367.9 L66.7 367.9 L67.6 367.8 L68.5 367.8 L69.4 367.7 L70.3 367.7 L71.2 367.6 L72.1 367.6 L73.0 367.6 L73.9 367.5 L74.8 367.5 L75.8 367.5 L76.7 367.5 L77.6 367.4 L78.5 367.4 L79.4 367.4 L80.3 367.4 L81.2 367.4 L82.1 367.4 L83.0 367.4 L83.9 367.4 L84.8 367.4 L85.7 367.4 L86.6 367.4 L87.5 367.4 L88.4 367.4" stroke="#64A6AE" stroke-width="1.05"/>
<path d="M25.2 373.8 L26.1 373.3 L27.0 372.7 L27.9 372.2 L28.8 371.6 L29.7 371.1 L30.6 370.6 L31.5 370.2 L32.4 369.7 L33.3 369.3 L34.2 369.0 L35.1 368.7 L36.0 368.5 L36.9 368.4 L37.8 368.2 L38.7 368.1 L39.6 367.9 L40.5 367.8 L41.4 367.7 L42.3 367.5 L43.2 367.4 L44.1 367.3 L45.0 367.2 L45.9 367.0 L46.8 366.9 L47.7 366.8 L48.6 366.7 L49.5 366.6 L50.5 366.5 L51.4 366.4 L52.3 366.3 L53.2 366.2 L54.1 366.1 L55.0 366.1 L55.9 366.0 L56.8 365.9 L57.7 365.9 L58.6 365.8 L59.5 365.7 L60.4 365.7 L61.3 365.7 L62.2 365.6 L63.1 365.6 L64.0 365.5 L64.9 365.5 L65.8 365.5 L66.7 365.4 L67.6 365.4 L68.5 365.3 L69.4 365.3 L70.3 365.3 L71.2 365.2 L72.1 365.2 L73.0 365.2 L73.9 365.1 L74.8 365.1 L75.8 365.1 L76.7 365.0 L77.6 365.0 L78.5 365.0 L79.4 364.9 L80.3 364.9 L81.2 364.9 L82.1 364.9 L83.0 364.9 L83.9 364.8 L84.8 364.8 L85.7 364.8 L86.6 364.8 L87.5 364.8 L88.4 364.8" stroke="#6C9A62" stroke-width="1.05"/>
<path d="M25.2 373.8 L26.1 372.6 L27.0 371.4 L27.9 370.2 L28.8 369.1 L29.7 368.1 L30.6 367.2 L31.5 366.3 L32.4 365.3 L33.3 364.4 L34.2 363.6 L35.1 362.9 L36.0 362.4 L36.9 362.1 L37.8 361.8 L38.7 361.6 L39.6 361.4 L40.5 361.1 L41.4 360.9 L42.3 360.7 L43.2 360.5 L44.1 360.3 L45.0 360.1 L45.9 360.0 L46.8 359.9 L47.7 359.7 L48.6 359.6 L49.5 359.6 L50.5 359.5 L51.4 359.4 L52.3 359.4 L53.2 359.4 L54.1 359.3 L55.0 359.3 L55.9 359.3 L56.8 359.2 L57.7 359.2 L58.6 359.1 L59.5 359.1 L60.4 359.1 L61.3 359.0 L62.2 359.0 L63.1 359.0 L64.0 359.0 L64.9 358.9 L65.8 358.9 L66.7 358.9 L67.6 358.9 L68.5 358.8 L69.4 358.8 L70.3 358.8 L71.2 358.8 L72.1 358.8 L73.0 358.8 L73.9 358.8 L74.8 358.8 L75.8 358.8 L76.7 358.8 L77.6 358.8 L78.5 358.8 L79.4 358.8 L80.3 358.8 L81.2 358.8 L82.1 358.9 L83.0 358.9 L83.9 358.9 L84.8 358.9 L85.7 359.0 L86.6 359.0 L87.5 359.1 L88.4 359.1" stroke="#A9A250" stroke-width="1.05"/>
<path d="M25.2 373.8 L26.0 373.9 L26.9 373.9 L27.8 373.8 L28.7 373.2 L29.6 372.3 L30.5 370.7 L31.4 368.3 L32.3 365.4 L33.2 360.4 L34.1 352.4 L35.0 342.6 L35.9 330.5 L36.8 321.5 L37.7 314.1 L38.6 308.7 L39.5 304.0 L40.4 300.6 L41.2 298.9 L42.1 297.5 L43.0 297.0 L43.9 297.6 L44.8 298.6 L45.7 299.8 L46.6 301.3 L47.5 303.1 L48.4 305.2 L49.3 307.7 L50.2 310.5 L51.1 313.1 L52.0 315.2 L52.9 317.1 L53.8 318.9 L54.7 320.5 L55.6 321.9 L56.5 323.3 L57.3 324.6 L58.2 325.7 L59.1 326.8 L60.0 327.8 L60.9 328.8 L61.8 329.7 L62.7 330.6 L63.6 331.5 L64.5 332.3 L65.4 333.0 L66.3 333.6 L67.2 334.2 L68.1 334.8 L69.0 335.4 L69.9 335.9 L70.8 336.4 L71.7 336.9 L72.6 337.4 L73.4 337.9 L74.3 338.4 L75.2 338.9 L76.1 339.3 L77.0 339.8 L77.9 340.3 L78.8 340.7 L79.7 341.1 L80.6 341.5 L81.5 341.9 L82.4 342.3 L83.3 342.7 L84.2 343.1 L85.1 343.5 L86.0 343.8 L86.9 344.1 L87.8 344.5 L88.7 344.8" stroke="#B06A68" stroke-width="1.05"/>
</g>
<rect x="22.30" y="276.30" width="69.60" height="102.80" fill="none" stroke="#BDBDBD" stroke-width="0.9"/>
<rect x="22.30" y="268.10" width="69.60" height="8.20" fill="#D6D6D6" stroke="#A8A8A8" stroke-width="0.9"/>
<text x="57.10" y="274.20" font-size="4.67" fill="#2a2a2a" stroke="#2a2a2a" stroke-width="0.06" text-anchor="middle">0.03</text>
<line x1="25.15" y1="379.10" x2="25.15" y2="380.50" stroke="#4D4D4D" stroke-width="0.6"/><text x="25.15" y="385.00" font-size="4.36" fill="#505050" text-anchor="middle">0</text><line x1="37.75" y1="379.10" x2="37.75" y2="380.50" stroke="#4D4D4D" stroke-width="0.6"/><text x="37.75" y="385.00" font-size="4.36" fill="#505050" text-anchor="middle">1</text><line x1="50.35" y1="379.10" x2="50.35" y2="380.50" stroke="#4D4D4D" stroke-width="0.6"/><text x="50.35" y="385.00" font-size="4.36" fill="#505050" text-anchor="middle">2</text><line x1="62.95" y1="379.10" x2="62.95" y2="380.50" stroke="#4D4D4D" stroke-width="0.6"/><text x="62.95" y="385.00" font-size="4.36" fill="#505050" text-anchor="middle">3</text><line x1="75.55" y1="379.10" x2="75.55" y2="380.50" stroke="#4D4D4D" stroke-width="0.6"/><text x="75.55" y="385.00" font-size="4.36" fill="#505050" text-anchor="middle">4</text><line x1="88.15" y1="379.10" x2="88.15" y2="380.50" stroke="#4D4D4D" stroke-width="0.6"/><text x="88.15" y="385.00" font-size="4.36" fill="#505050" text-anchor="middle">5</text>
<line x1="20.90" y1="373.80" x2="22.30" y2="373.80" stroke="#4D4D4D" stroke-width="0.6"/><text x="18.50" y="375.30" font-size="4.36" fill="#505050" text-anchor="middle">0</text><line x1="20.90" y1="341.20" x2="22.30" y2="341.20" stroke="#4D4D4D" stroke-width="0.6"/><text x="18.50" y="342.70" font-size="4.36" fill="#505050" text-anchor="middle">2</text><line x1="20.90" y1="308.60" x2="22.30" y2="308.60" stroke="#4D4D4D" stroke-width="0.6"/><text x="18.50" y="310.10" font-size="4.36" fill="#505050" text-anchor="middle">4</text><clipPath id="t6C"><rect x="0" y="276.10" width="30" height="10"/></clipPath><text clip-path="url(#t6C)" x="18.50" y="277.50" font-size="4.36" fill="#505050" text-anchor="middle">6</text><line x1="20.90" y1="276.60" x2="22.30" y2="276.60" stroke="#4D4D4D" stroke-width="0.6"/>
<text x="25.40" y="288.00" font-size="8.92" font-weight="bold" fill="#111">C</text>
<clipPath id="cC1"><rect x="94.33" y="276.30" width="69.60" height="102.80"/></clipPath>
<line x1="97.18" y1="276.30" x2="97.18" y2="379.10" stroke="#F0F0F0" stroke-width="0.6"/><line x1="103.48" y1="276.30" x2="103.48" y2="379.10" stroke="#F6F6F6" stroke-width="0.6"/><line x1="109.78" y1="276.30" x2="109.78" y2="379.10" stroke="#F0F0F0" stroke-width="0.6"/><line x1="116.08" y1="276.30" x2="116.08" y2="379.10" stroke="#F6F6F6" stroke-width="0.6"/><line x1="122.38" y1="276.30" x2="122.38" y2="379.10" stroke="#F0F0F0" stroke-width="0.6"/><line x1="128.68" y1="276.30" x2="128.68" y2="379.10" stroke="#F6F6F6" stroke-width="0.6"/><line x1="134.98" y1="276.30" x2="134.98" y2="379.10" stroke="#F0F0F0" stroke-width="0.6"/><line x1="141.28" y1="276.30" x2="141.28" y2="379.10" stroke="#F6F6F6" stroke-width="0.6"/><line x1="147.58" y1="276.30" x2="147.58" y2="379.10" stroke="#F0F0F0" stroke-width="0.6"/><line x1="153.88" y1="276.30" x2="153.88" y2="379.10" stroke="#F6F6F6" stroke-width="0.6"/><line x1="160.18" y1="276.30" x2="160.18" y2="379.10" stroke="#F0F0F0" stroke-width="0.6"/><line x1="94.33" y1="373.80" x2="163.93" y2="373.80" stroke="#F0F0F0" stroke-width="0.6"/><line x1="94.33" y1="357.50" x2="163.93" y2="357.50" stroke="#F6F6F6" stroke-width="0.6"/><line x1="94.33" y1="341.20" x2="163.93" y2="341.20" stroke="#F0F0F0" stroke-width="0.6"/><line x1="94.33" y1="324.90" x2="163.93" y2="324.90" stroke="#F6F6F6" stroke-width="0.6"/><line x1="94.33" y1="308.60" x2="163.93" y2="308.60" stroke="#F0F0F0" stroke-width="0.6"/><line x1="94.33" y1="292.30" x2="163.93" y2="292.30" stroke="#F6F6F6" stroke-width="0.6"/>
<g clip-path="url(#cC1)" fill="none" stroke-linecap="round" stroke-linejoin="round">
<path d="M97.2 373.8 L98.1 373.7 L99.0 373.6 L99.9 373.5 L100.8 373.4 L101.7 373.3 L102.6 373.1 L103.5 373.0 L104.4 372.9 L105.3 372.8 L106.2 372.7 L107.1 372.6 L108.0 372.5 L108.9 372.4 L109.8 372.3 L110.7 372.2 L111.6 372.1 L112.5 372.0 L113.4 371.9 L114.3 371.8 L115.2 371.7 L116.1 371.7 L117.0 371.6 L117.9 371.5 L118.8 371.4 L119.7 371.3 L120.6 371.2 L121.5 371.2 L122.4 371.1 L123.3 371.0 L124.2 370.9 L125.1 370.9 L126.0 370.8 L126.9 370.7 L127.8 370.6 L128.7 370.6 L129.6 370.5 L130.5 370.4 L131.4 370.3 L132.4 370.3 L133.3 370.2 L134.2 370.1 L135.1 370.0 L136.0 370.0 L136.9 369.9 L137.8 369.8 L138.7 369.8 L139.6 369.7 L140.5 369.6 L141.4 369.6 L142.3 369.5 L143.2 369.4 L144.1 369.4 L145.0 369.3 L145.9 369.2 L146.8 369.2 L147.7 369.1 L148.6 369.1 L149.5 369.0 L150.4 368.9 L151.3 368.9 L152.2 368.8 L153.1 368.8 L154.0 368.7 L154.9 368.7 L155.8 368.6 L156.7 368.6 L157.6 368.5 L158.5 368.5 L159.4 368.5 L160.3 368.4" stroke="#B66FBC" stroke-opacity="0.13" stroke-width="3.4"/>
<path d="M97.2 373.8 L98.1 373.6 L99.0 373.5 L99.9 373.3 L100.8 373.2 L101.7 373.0 L102.6 372.9 L103.5 372.7 L104.4 372.6 L105.3 372.4 L106.2 372.3 L107.1 372.1 L108.0 372.0 L108.9 371.8 L109.8 371.7 L110.7 371.5 L111.6 371.4 L112.5 371.3 L113.4 371.1 L114.3 371.0 L115.2 370.9 L116.1 370.8 L117.0 370.6 L117.9 370.5 L118.8 370.4 L119.7 370.3 L120.6 370.2 L121.5 370.1 L122.4 370.0 L123.3 369.9 L124.2 369.8 L125.1 369.6 L126.0 369.5 L126.9 369.4 L127.8 369.3 L128.7 369.2 L129.6 369.1 L130.5 369.0 L131.4 368.9 L132.4 368.8 L133.3 368.7 L134.2 368.7 L135.1 368.6 L136.0 368.5 L136.9 368.4 L137.8 368.3 L138.7 368.2 L139.6 368.1 L140.5 368.0 L141.4 367.9 L142.3 367.8 L143.2 367.7 L144.1 367.6 L145.0 367.6 L145.9 367.5 L146.8 367.4 L147.7 367.3 L148.6 367.2 L149.5 367.2 L150.4 367.1 L151.3 367.0 L152.2 367.0 L153.1 366.9 L154.0 366.8 L154.9 366.8 L155.8 366.7 L156.7 366.7 L157.6 366.6 L158.5 366.6 L159.4 366.5 L160.3 366.5" stroke="#7085C2" stroke-opacity="0.13" stroke-width="3.4"/>
<path d="M97.2 373.8 L98.1 373.6 L99.0 373.4 L99.9 373.2 L100.8 372.9 L101.7 372.7 L102.6 372.5 L103.5 372.3 L104.4 372.1 L105.3 371.9 L106.2 371.7 L107.1 371.5 L108.0 371.3 L108.9 371.1 L109.8 370.9 L110.7 370.7 L111.6 370.5 L112.5 370.3 L113.4 370.1 L114.3 370.0 L115.2 369.8 L116.1 369.6 L117.0 369.4 L117.9 369.3 L118.8 369.1 L119.7 369.0 L120.6 368.8 L121.5 368.7 L122.4 368.5 L123.3 368.4 L124.2 368.2 L125.1 368.1 L126.0 368.0 L126.9 367.8 L127.8 367.7 L128.7 367.5 L129.6 367.4 L130.5 367.3 L131.4 367.1 L132.4 367.0 L133.3 366.9 L134.2 366.7 L135.1 366.6 L136.0 366.5 L136.9 366.3 L137.8 366.2 L138.7 366.1 L139.6 365.9 L140.5 365.8 L141.4 365.7 L142.3 365.6 L143.2 365.4 L144.1 365.3 L145.0 365.2 L145.9 365.1 L146.8 365.0 L147.7 364.9 L148.6 364.8 L149.5 364.7 L150.4 364.6 L151.3 364.5 L152.2 364.4 L153.1 364.3 L154.0 364.2 L154.9 364.1 L155.8 364.0 L156.7 364.0 L157.6 363.9 L158.5 363.8 L159.4 363.8 L160.3 363.7" stroke="#64A6AE" stroke-opacity="0.13" stroke-width="3.4"/>
<path d="M97.2 373.8 L98.1 373.3 L99.0 372.8 L99.9 372.3 L100.8 371.8 L101.7 371.3 L102.6 370.8 L103.5 370.4 L104.4 369.9 L105.3 369.4 L106.2 369.0 L107.1 368.6 L108.0 368.2 L108.9 367.8 L109.8 367.5 L110.7 367.1 L111.6 366.8 L112.5 366.5 L113.4 366.2 L114.3 366.0 L115.2 365.7 L116.1 365.5 L117.0 365.2 L117.9 365.0 L118.8 364.7 L119.7 364.5 L120.6 364.2 L121.5 364.0 L122.4 363.8 L123.3 363.5 L124.2 363.3 L125.1 363.1 L126.0 362.9 L126.9 362.7 L127.8 362.5 L128.7 362.4 L129.6 362.2 L130.5 362.0 L131.4 361.9 L132.4 361.7 L133.3 361.6 L134.2 361.5 L135.1 361.4 L136.0 361.2 L136.9 361.1 L137.8 361.0 L138.7 360.9 L139.6 360.7 L140.5 360.6 L141.4 360.5 L142.3 360.4 L143.2 360.2 L144.1 360.1 L145.0 360.0 L145.9 359.9 L146.8 359.8 L147.7 359.7 L148.6 359.6 L149.5 359.5 L150.4 359.4 L151.3 359.3 L152.2 359.2 L153.1 359.1 L154.0 359.0 L154.9 359.0 L155.8 358.9 L156.7 358.8 L157.6 358.8 L158.5 358.7 L159.4 358.7 L160.3 358.6" stroke="#6C9A62" stroke-opacity="0.13" stroke-width="3.4"/>
<path d="M97.2 373.8 L98.1 371.9 L99.0 370.0 L99.9 368.2 L100.8 366.6 L101.7 365.0 L102.6 363.7 L103.5 362.3 L104.4 361.0 L105.3 359.6 L106.2 358.4 L107.1 357.2 L108.0 356.1 L108.9 355.3 L109.8 354.6 L110.7 354.1 L111.6 353.7 L112.5 353.3 L113.4 353.0 L114.3 352.6 L115.2 352.3 L116.1 352.0 L117.0 351.7 L117.9 351.4 L118.8 351.1 L119.7 350.9 L120.6 350.7 L121.5 350.5 L122.4 350.4 L123.3 350.3 L124.2 350.2 L125.1 350.1 L126.0 349.9 L126.9 349.8 L127.8 349.7 L128.7 349.6 L129.6 349.5 L130.5 349.4 L131.4 349.3 L132.4 349.2 L133.3 349.1 L134.2 349.1 L135.1 349.0 L136.0 349.0 L136.9 349.0 L137.8 349.0 L138.7 348.9 L139.6 348.9 L140.5 348.9 L141.4 348.9 L142.3 348.9 L143.2 348.9 L144.1 348.8 L145.0 348.8 L145.9 348.8 L146.8 348.8 L147.7 348.8 L148.6 348.8 L149.5 348.8 L150.4 348.8 L151.3 348.8 L152.2 348.8 L153.1 348.8 L154.0 348.9 L154.9 348.9 L155.8 348.9 L156.7 348.9 L157.6 348.9 L158.5 349.0 L159.4 349.0 L160.3 349.0" stroke="#A9A250" stroke-opacity="0.13" stroke-width="3.4"/>
<path d="M97.2 373.8 L98.1 373.9 L99.0 373.9 L99.9 373.8 L100.8 373.8 L101.7 373.7 L102.6 373.6 L103.5 373.3 L104.4 372.9 L105.3 372.1 L106.2 369.3 L107.1 365.1 L108.0 361.1 L108.9 357.4 L109.8 353.6 L110.7 349.7 L111.6 345.6 L112.5 341.5 L113.4 337.4 L114.3 333.2 L115.2 329.1 L116.1 324.9 L117.0 320.6 L117.9 316.5 L118.8 312.5 L119.7 308.6 L120.6 304.8 L121.5 301.7 L122.4 299.5 L123.3 297.6 L124.2 295.9 L125.1 294.4 L126.0 293.4 L126.9 293.0 L127.8 293.0 L128.7 293.2 L129.6 293.6 L130.5 294.1 L131.4 294.9 L132.4 295.7 L133.3 296.8 L134.2 298.0 L135.1 299.4 L136.0 300.7 L136.9 302.2 L137.8 303.5 L138.7 304.9 L139.6 306.1 L140.5 307.2 L141.4 308.3 L142.3 309.4 L143.2 310.5 L144.1 311.5 L145.0 312.6 L145.9 313.6 L146.8 314.5 L147.7 315.4 L148.6 316.3 L149.5 317.1 L150.4 317.9 L151.3 318.7 L152.2 319.4 L153.1 320.2 L154.0 320.9 L154.9 321.5 L155.8 322.2 L156.7 322.8 L157.6 323.4 L158.5 323.9 L159.4 324.3 L160.3 324.7" stroke="#B06A68" stroke-opacity="0.13" stroke-width="3.4"/>
<path d="M97.2 373.8 L98.1 373.7 L99.0 373.6 L99.9 373.5 L100.8 373.4 L101.7 373.3 L102.6 373.1 L103.5 373.0 L104.4 372.9 L105.3 372.8 L106.2 372.7 L107.1 372.6 L108.0 372.5 L108.9 372.4 L109.8 372.3 L110.7 372.2 L111.6 372.1 L112.5 372.0 L113.4 371.9 L114.3 371.8 L115.2 371.7 L116.1 371.7 L117.0 371.6 L117.9 371.5 L118.8 371.4 L119.7 371.3 L120.6 371.2 L121.5 371.2 L122.4 371.1 L123.3 371.0 L124.2 370.9 L125.1 370.9 L126.0 370.8 L126.9 370.7 L127.8 370.6 L128.7 370.6 L129.6 370.5 L130.5 370.4 L131.4 370.3 L132.4 370.3 L133.3 370.2 L134.2 370.1 L135.1 370.0 L136.0 370.0 L136.9 369.9 L137.8 369.8 L138.7 369.8 L139.6 369.7 L140.5 369.6 L141.4 369.6 L142.3 369.5 L143.2 369.4 L144.1 369.4 L145.0 369.3 L145.9 369.2 L146.8 369.2 L147.7 369.1 L148.6 369.1 L149.5 369.0 L150.4 368.9 L151.3 368.9 L152.2 368.8 L153.1 368.8 L154.0 368.7 L154.9 368.7 L155.8 368.6 L156.7 368.6 L157.6 368.5 L158.5 368.5 L159.4 368.5 L160.3 368.4" stroke="#B66FBC" stroke-width="1.05"/>
<path d="M97.2 373.8 L98.1 373.6 L99.0 373.5 L99.9 373.3 L100.8 373.2 L101.7 373.0 L102.6 372.9 L103.5 372.7 L104.4 372.6 L105.3 372.4 L106.2 372.3 L107.1 372.1 L108.0 372.0 L108.9 371.8 L109.8 371.7 L110.7 371.5 L111.6 371.4 L112.5 371.3 L113.4 371.1 L114.3 371.0 L115.2 370.9 L116.1 370.8 L117.0 370.6 L117.9 370.5 L118.8 370.4 L119.7 370.3 L120.6 370.2 L121.5 370.1 L122.4 370.0 L123.3 369.9 L124.2 369.8 L125.1 369.6 L126.0 369.5 L126.9 369.4 L127.8 369.3 L128.7 369.2 L129.6 369.1 L130.5 369.0 L131.4 368.9 L132.4 368.8 L133.3 368.7 L134.2 368.7 L135.1 368.6 L136.0 368.5 L136.9 368.4 L137.8 368.3 L138.7 368.2 L139.6 368.1 L140.5 368.0 L141.4 367.9 L142.3 367.8 L143.2 367.7 L144.1 367.6 L145.0 367.6 L145.9 367.5 L146.8 367.4 L147.7 367.3 L148.6 367.2 L149.5 367.2 L150.4 367.1 L151.3 367.0 L152.2 367.0 L153.1 366.9 L154.0 366.8 L154.9 366.8 L155.8 366.7 L156.7 366.7 L157.6 366.6 L158.5 366.6 L159.4 366.5 L160.3 366.5" stroke="#7085C2" stroke-width="1.05"/>
<path d="M97.2 373.8 L98.1 373.6 L99.0 373.4 L99.9 373.2 L100.8 372.9 L101.7 372.7 L102.6 372.5 L103.5 372.3 L104.4 372.1 L105.3 371.9 L106.2 371.7 L107.1 371.5 L108.0 371.3 L108.9 371.1 L109.8 370.9 L110.7 370.7 L111.6 370.5 L112.5 370.3 L113.4 370.1 L114.3 370.0 L115.2 369.8 L116.1 369.6 L117.0 369.4 L117.9 369.3 L118.8 369.1 L119.7 369.0 L120.6 368.8 L121.5 368.7 L122.4 368.5 L123.3 368.4 L124.2 368.2 L125.1 368.1 L126.0 368.0 L126.9 367.8 L127.8 367.7 L128.7 367.5 L129.6 367.4 L130.5 367.3 L131.4 367.1 L132.4 367.0 L133.3 366.9 L134.2 366.7 L135.1 366.6 L136.0 366.5 L136.9 366.3 L137.8 366.2 L138.7 366.1 L139.6 365.9 L140.5 365.8 L141.4 365.7 L142.3 365.6 L143.2 365.4 L144.1 365.3 L145.0 365.2 L145.9 365.1 L146.8 365.0 L147.7 364.9 L148.6 364.8 L149.5 364.7 L150.4 364.6 L151.3 364.5 L152.2 364.4 L153.1 364.3 L154.0 364.2 L154.9 364.1 L155.8 364.0 L156.7 364.0 L157.6 363.9 L158.5 363.8 L159.4 363.8 L160.3 363.7" stroke="#64A6AE" stroke-width="1.05"/>
<path d="M97.2 373.8 L98.1 373.3 L99.0 372.8 L99.9 372.3 L100.8 371.8 L101.7 371.3 L102.6 370.8 L103.5 370.4 L104.4 369.9 L105.3 369.4 L106.2 369.0 L107.1 368.6 L108.0 368.2 L108.9 367.8 L109.8 367.5 L110.7 367.1 L111.6 366.8 L112.5 366.5 L113.4 366.2 L114.3 366.0 L115.2 365.7 L116.1 365.5 L117.0 365.2 L117.9 365.0 L118.8 364.7 L119.7 364.5 L120.6 364.2 L121.5 364.0 L122.4 363.8 L123.3 363.5 L124.2 363.3 L125.1 363.1 L126.0 362.9 L126.9 362.7 L127.8 362.5 L128.7 362.4 L129.6 362.2 L130.5 362.0 L131.4 361.9 L132.4 361.7 L133.3 361.6 L134.2 361.5 L135.1 361.4 L136.0 361.2 L136.9 361.1 L137.8 361.0 L138.7 360.9 L139.6 360.7 L140.5 360.6 L141.4 360.5 L142.3 360.4 L143.2 360.2 L144.1 360.1 L145.0 360.0 L145.9 359.9 L146.8 359.8 L147.7 359.7 L148.6 359.6 L149.5 359.5 L150.4 359.4 L151.3 359.3 L152.2 359.2 L153.1 359.1 L154.0 359.0 L154.9 359.0 L155.8 358.9 L156.7 358.8 L157.6 358.8 L158.5 358.7 L159.4 358.7 L160.3 358.6" stroke="#6C9A62" stroke-width="1.05"/>
<path d="M97.2 373.8 L98.1 371.9 L99.0 370.0 L99.9 368.2 L100.8 366.6 L101.7 365.0 L102.6 363.7 L103.5 362.3 L104.4 361.0 L105.3 359.6 L106.2 358.4 L107.1 357.2 L108.0 356.1 L108.9 355.3 L109.8 354.6 L110.7 354.1 L111.6 353.7 L112.5 353.3 L113.4 353.0 L114.3 352.6 L115.2 352.3 L116.1 352.0 L117.0 351.7 L117.9 351.4 L118.8 351.1 L119.7 350.9 L120.6 350.7 L121.5 350.5 L122.4 350.4 L123.3 350.3 L124.2 350.2 L125.1 350.1 L126.0 349.9 L126.9 349.8 L127.8 349.7 L128.7 349.6 L129.6 349.5 L130.5 349.4 L131.4 349.3 L132.4 349.2 L133.3 349.1 L134.2 349.1 L135.1 349.0 L136.0 349.0 L136.9 349.0 L137.8 349.0 L138.7 348.9 L139.6 348.9 L140.5 348.9 L141.4 348.9 L142.3 348.9 L143.2 348.9 L144.1 348.8 L145.0 348.8 L145.9 348.8 L146.8 348.8 L147.7 348.8 L148.6 348.8 L149.5 348.8 L150.4 348.8 L151.3 348.8 L152.2 348.8 L153.1 348.8 L154.0 348.9 L154.9 348.9 L155.8 348.9 L156.7 348.9 L157.6 348.9 L158.5 349.0 L159.4 349.0 L160.3 349.0" stroke="#A9A250" stroke-width="1.05"/>
<path d="M97.2 373.8 L98.1 373.9 L99.0 373.9 L99.9 373.8 L100.8 373.8 L101.7 373.7 L102.6 373.6 L103.5 373.3 L104.4 372.9 L105.3 372.1 L106.2 369.3 L107.1 365.1 L108.0 361.1 L108.9 357.4 L109.8 353.6 L110.7 349.7 L111.6 345.6 L112.5 341.5 L113.4 337.4 L114.3 333.2 L115.2 329.1 L116.1 324.9 L117.0 320.6 L117.9 316.5 L118.8 312.5 L119.7 308.6 L120.6 304.8 L121.5 301.7 L122.4 299.5 L123.3 297.6 L124.2 295.9 L125.1 294.4 L126.0 293.4 L126.9 293.0 L127.8 293.0 L128.7 293.2 L129.6 293.6 L130.5 294.1 L131.4 294.9 L132.4 295.7 L133.3 296.8 L134.2 298.0 L135.1 299.4 L136.0 300.7 L136.9 302.2 L137.8 303.5 L138.7 304.9 L139.6 306.1 L140.5 307.2 L141.4 308.3 L142.3 309.4 L143.2 310.5 L144.1 311.5 L145.0 312.6 L145.9 313.6 L146.8 314.5 L147.7 315.4 L148.6 316.3 L149.5 317.1 L150.4 317.9 L151.3 318.7 L152.2 319.4 L153.1 320.2 L154.0 320.9 L154.9 321.5 L155.8 322.2 L156.7 322.8 L157.6 323.4 L158.5 323.9 L159.4 324.3 L160.3 324.7" stroke="#B06A68" stroke-width="1.05"/>
</g>
<rect x="94.33" y="276.30" width="69.60" height="102.80" fill="none" stroke="#BDBDBD" stroke-width="0.9"/>
<rect x="94.33" y="268.10" width="69.60" height="8.20" fill="#D6D6D6" stroke="#A8A8A8" stroke-width="0.9"/>
<text x="129.13" y="274.20" font-size="4.67" fill="#2a2a2a" stroke="#2a2a2a" stroke-width="0.06" text-anchor="middle">0.05</text>
<line x1="97.18" y1="379.10" x2="97.18" y2="380.50" stroke="#4D4D4D" stroke-width="0.6"/><text x="97.18" y="385.00" font-size="4.36" fill="#505050" text-anchor="middle">0</text><line x1="109.78" y1="379.10" x2="109.78" y2="380.50" stroke="#4D4D4D" stroke-width="0.6"/><text x="109.78" y="385.00" font-size="4.36" fill="#505050" text-anchor="middle">1</text><line x1="122.38" y1="379.10" x2="122.38" y2="380.50" stroke="#4D4D4D" stroke-width="0.6"/><text x="122.38" y="385.00" font-size="4.36" fill="#505050" text-anchor="middle">2</text><line x1="134.98" y1="379.10" x2="134.98" y2="380.50" stroke="#4D4D4D" stroke-width="0.6"/><text x="134.98" y="385.00" font-size="4.36" fill="#505050" text-anchor="middle">3</text><line x1="147.58" y1="379.10" x2="147.58" y2="380.50" stroke="#4D4D4D" stroke-width="0.6"/><text x="147.58" y="385.00" font-size="4.36" fill="#505050" text-anchor="middle">4</text><line x1="160.18" y1="379.10" x2="160.18" y2="380.50" stroke="#4D4D4D" stroke-width="0.6"/><text x="160.18" y="385.00" font-size="4.36" fill="#505050" text-anchor="middle">5</text>
<clipPath id="cC2"><rect x="166.36" y="276.30" width="69.60" height="102.80"/></clipPath>
<line x1="169.21" y1="276.30" x2="169.21" y2="379.10" stroke="#F0F0F0" stroke-width="0.6"/><line x1="175.51" y1="276.30" x2="175.51" y2="379.10" stroke="#F6F6F6" stroke-width="0.6"/><line x1="181.81" y1="276.30" x2="181.81" y2="379.10" stroke="#F0F0F0" stroke-width="0.6"/><line x1="188.11" y1="276.30" x2="188.11" y2="379.10" stroke="#F6F6F6" stroke-width="0.6"/><line x1="194.41" y1="276.30" x2="194.41" y2="379.10" stroke="#F0F0F0" stroke-width="0.6"/><line x1="200.71" y1="276.30" x2="200.71" y2="379.10" stroke="#F6F6F6" stroke-width="0.6"/><line x1="207.01" y1="276.30" x2="207.01" y2="379.10" stroke="#F0F0F0" stroke-width="0.6"/><line x1="213.31" y1="276.30" x2="213.31" y2="379.10" stroke="#F6F6F6" stroke-width="0.6"/><line x1="219.61" y1="276.30" x2="219.61" y2="379.10" stroke="#F0F0F0" stroke-width="0.6"/><line x1="225.91" y1="276.30" x2="225.91" y2="379.10" stroke="#F6F6F6" stroke-width="0.6"/><line x1="232.21" y1="276.30" x2="232.21" y2="379.10" stroke="#F0F0F0" stroke-width="0.6"/><line x1="166.36" y1="373.80" x2="235.96" y2="373.80" stroke="#F0F0F0" stroke-width="0.6"/><line x1="166.36" y1="357.50" x2="235.96" y2="357.50" stroke="#F6F6F6" stroke-width="0.6"/><line x1="166.36" y1="341.20" x2="235.96" y2="341.20" stroke="#F0F0F0" stroke-width="0.6"/><line x1="166.36" y1="324.90" x2="235.96" y2="324.90" stroke="#F6F6F6" stroke-width="0.6"/><line x1="166.36" y1="308.60" x2="235.96" y2="308.60" stroke="#F0F0F0" stroke-width="0.6"/><line x1="166.36" y1="292.30" x2="235.96" y2="292.30" stroke="#F6F6F6" stroke-width="0.6"/>
<g clip-path="url(#cC2)" fill="none" stroke-linecap="round" stroke-linejoin="round">
<path d="M169.2 373.8 L170.1 373.6 L171.0 373.4 L171.9 373.3 L172.8 373.1 L173.7 372.9 L174.6 372.7 L175.5 372.6 L176.4 372.4 L177.3 372.2 L178.2 372.0 L179.1 371.9 L180.0 371.7 L180.9 371.5 L181.8 371.4 L182.7 371.2 L183.6 371.1 L184.5 370.9 L185.4 370.8 L186.3 370.6 L187.2 370.5 L188.1 370.3 L189.0 370.2 L190.0 370.1 L190.9 369.9 L191.8 369.8 L192.7 369.7 L193.6 369.6 L194.5 369.5 L195.4 369.4 L196.3 369.3 L197.2 369.2 L198.1 369.0 L199.0 368.9 L199.9 368.8 L200.8 368.7 L201.7 368.6 L202.6 368.5 L203.5 368.4 L204.4 368.3 L205.3 368.2 L206.2 368.1 L207.1 368.0 L208.0 367.9 L208.9 367.8 L209.8 367.7 L210.7 367.6 L211.6 367.5 L212.5 367.4 L213.4 367.4 L214.3 367.3 L215.2 367.2 L216.1 367.1 L217.0 367.0 L217.9 366.9 L218.8 366.9 L219.7 366.8 L220.6 366.7 L221.5 366.6 L222.4 366.6 L223.3 366.5 L224.2 366.4 L225.1 366.4 L226.0 366.3 L226.9 366.2 L227.8 366.2 L228.7 366.1 L229.6 366.1 L230.5 366.1 L231.4 366.0 L232.3 366.0" stroke="#B66FBC" stroke-opacity="0.13" stroke-width="3.4"/>
<path d="M169.2 373.8 L170.1 373.6 L171.0 373.3 L171.9 373.1 L172.8 372.8 L173.7 372.6 L174.6 372.4 L175.5 372.1 L176.4 371.9 L177.3 371.7 L178.2 371.4 L179.1 371.2 L180.0 371.0 L180.9 370.8 L181.8 370.5 L182.7 370.3 L183.6 370.1 L184.5 369.9 L185.4 369.7 L186.3 369.5 L187.2 369.3 L188.1 369.1 L189.0 369.0 L190.0 368.8 L190.9 368.6 L191.8 368.5 L192.7 368.3 L193.6 368.2 L194.5 368.0 L195.4 367.9 L196.3 367.8 L197.2 367.6 L198.1 367.5 L199.0 367.4 L199.9 367.2 L200.8 367.1 L201.7 367.0 L202.6 366.8 L203.5 366.7 L204.4 366.6 L205.3 366.4 L206.2 366.3 L207.1 366.2 L208.0 366.1 L208.9 365.9 L209.8 365.8 L210.7 365.7 L211.6 365.6 L212.5 365.5 L213.4 365.4 L214.3 365.2 L215.2 365.1 L216.1 365.0 L217.0 364.9 L217.9 364.8 L218.8 364.7 L219.7 364.6 L220.6 364.5 L221.5 364.5 L222.4 364.4 L223.3 364.3 L224.2 364.2 L225.1 364.1 L226.0 364.1 L226.9 364.0 L227.8 363.9 L228.7 363.9 L229.6 363.8 L230.5 363.8 L231.4 363.7 L232.3 363.7" stroke="#7085C2" stroke-opacity="0.13" stroke-width="3.4"/>
<path d="M169.2 373.8 L170.1 373.4 L171.0 373.1 L171.9 372.7 L172.8 372.4 L173.7 372.0 L174.6 371.7 L175.5 371.3 L176.4 371.0 L177.3 370.7 L178.2 370.3 L179.1 370.0 L180.0 369.7 L180.9 369.3 L181.8 369.0 L182.7 368.7 L183.6 368.4 L184.5 368.1 L185.4 367.8 L186.3 367.5 L187.2 367.3 L188.1 367.0 L189.0 366.7 L190.0 366.5 L190.9 366.3 L191.8 366.0 L192.7 365.8 L193.6 365.6 L194.5 365.4 L195.4 365.3 L196.3 365.1 L197.2 364.9 L198.1 364.7 L199.0 364.6 L199.9 364.4 L200.8 364.2 L201.7 364.1 L202.6 363.9 L203.5 363.7 L204.4 363.6 L205.3 363.4 L206.2 363.2 L207.1 363.1 L208.0 362.9 L208.9 362.8 L209.8 362.6 L210.7 362.5 L211.6 362.3 L212.5 362.2 L213.4 362.0 L214.3 361.9 L215.2 361.8 L216.1 361.6 L217.0 361.5 L217.9 361.4 L218.8 361.3 L219.7 361.1 L220.6 361.0 L221.5 360.9 L222.4 360.8 L223.3 360.7 L224.2 360.6 L225.1 360.6 L226.0 360.5 L226.9 360.4 L227.8 360.3 L228.7 360.3 L229.6 360.2 L230.5 360.2 L231.4 360.1 L232.3 360.1" stroke="#64A6AE" stroke-opacity="0.13" stroke-width="3.4"/>
<path d="M169.2 373.8 L170.1 373.1 L171.0 372.3 L171.9 371.6 L172.8 370.9 L173.7 370.1 L174.6 369.4 L175.5 368.7 L176.4 368.1 L177.3 367.4 L178.2 366.8 L179.1 366.2 L180.0 365.6 L180.9 365.0 L181.8 364.5 L182.7 364.1 L183.6 363.7 L184.5 363.3 L185.4 362.9 L186.3 362.6 L187.2 362.2 L188.1 361.9 L189.0 361.6 L190.0 361.3 L190.9 361.0 L191.8 360.7 L192.7 360.4 L193.6 360.1 L194.5 359.8 L195.4 359.5 L196.3 359.2 L197.2 359.0 L198.1 358.7 L199.0 358.5 L199.9 358.2 L200.8 358.0 L201.7 357.8 L202.6 357.6 L203.5 357.4 L204.4 357.2 L205.3 357.1 L206.2 356.9 L207.1 356.7 L208.0 356.6 L208.9 356.4 L209.8 356.2 L210.7 356.0 L211.6 355.9 L212.5 355.7 L213.4 355.5 L214.3 355.4 L215.2 355.2 L216.1 355.0 L217.0 354.9 L217.9 354.7 L218.8 354.6 L219.7 354.4 L220.6 354.3 L221.5 354.1 L222.4 354.0 L223.3 353.9 L224.2 353.8 L225.1 353.6 L226.0 353.5 L226.9 353.4 L227.8 353.3 L228.7 353.2 L229.6 353.1 L230.5 353.1 L231.4 353.0 L232.3 352.9" stroke="#6C9A62" stroke-opacity="0.13" stroke-width="3.4"/>
<path d="M169.2 373.8 L170.1 370.8 L171.0 367.8 L171.9 365.1 L172.8 362.6 L173.7 360.4 L174.6 358.7 L175.5 357.1 L176.4 355.6 L177.3 354.2 L178.2 352.8 L179.1 351.6 L180.0 350.4 L180.9 349.3 L181.8 348.4 L182.7 347.7 L183.6 347.0 L184.5 346.3 L185.4 345.6 L186.3 345.0 L187.2 344.3 L188.1 343.7 L189.0 343.2 L190.0 342.7 L190.9 342.2 L191.8 341.9 L192.7 341.6 L193.6 341.4 L194.5 341.2 L195.4 341.0 L196.3 340.8 L197.2 340.6 L198.1 340.4 L199.0 340.2 L199.9 340.0 L200.8 339.9 L201.7 339.7 L202.6 339.6 L203.5 339.5 L204.4 339.5 L205.3 339.4 L206.2 339.4 L207.1 339.4 L208.0 339.3 L208.9 339.3 L209.8 339.3 L210.7 339.3 L211.6 339.3 L212.5 339.3 L213.4 339.3 L214.3 339.3 L215.2 339.3 L216.1 339.3 L217.0 339.3 L217.9 339.3 L218.8 339.3 L219.7 339.4 L220.6 339.4 L221.5 339.4 L222.4 339.4 L223.3 339.5 L224.2 339.5 L225.1 339.6 L226.0 339.6 L226.9 339.7 L227.8 339.7 L228.7 339.8 L229.6 339.8 L230.5 339.9 L231.4 340.0 L232.3 340.1" stroke="#A9A250" stroke-opacity="0.13" stroke-width="3.4"/>
<path d="M169.2 373.8 L170.1 373.9 L171.0 373.9 L171.9 373.8 L172.8 373.8 L173.7 373.7 L174.6 373.6 L175.5 373.5 L176.4 373.3 L177.3 373.0 L178.2 372.6 L179.1 372.2 L180.0 371.8 L180.9 371.3 L181.8 370.8 L182.7 370.0 L183.6 369.0 L184.5 367.7 L185.4 365.7 L186.3 362.4 L187.2 358.3 L188.1 354.0 L189.0 350.0 L190.0 346.1 L190.9 342.1 L191.8 338.0 L192.7 334.0 L193.6 330.0 L194.5 326.2 L195.4 322.5 L196.3 319.0 L197.2 315.5 L198.1 312.0 L199.0 308.3 L199.9 304.9 L200.8 302.0 L201.7 299.9 L202.6 298.1 L203.5 296.4 L204.4 294.9 L205.3 293.8 L206.2 292.9 L207.1 292.2 L208.0 291.6 L208.9 291.0 L209.8 290.4 L210.7 290.0 L211.6 289.7 L212.5 289.5 L213.4 289.6 L214.3 289.7 L215.2 289.9 L216.1 290.2 L217.0 290.6 L217.9 291.0 L218.8 291.5 L219.7 292.0 L220.6 292.7 L221.5 293.6 L222.4 294.5 L223.3 295.5 L224.2 296.5 L225.1 297.6 L226.0 298.7 L226.9 299.8 L227.8 301.0 L228.7 302.3 L229.6 303.7 L230.5 305.1 L231.4 306.6 L232.3 308.1" stroke="#B06A68" stroke-opacity="0.13" stroke-width="3.4"/>
<path d="M169.2 373.8 L170.1 373.6 L171.0 373.4 L171.9 373.3 L172.8 373.1 L173.7 372.9 L174.6 372.7 L175.5 372.6 L176.4 372.4 L177.3 372.2 L178.2 372.0 L179.1 371.9 L180.0 371.7 L180.9 371.5 L181.8 371.4 L182.7 371.2 L183.6 371.1 L184.5 370.9 L185.4 370.8 L186.3 370.6 L187.2 370.5 L188.1 370.3 L189.0 370.2 L190.0 370.1 L190.9 369.9 L191.8 369.8 L192.7 369.7 L193.6 369.6 L194.5 369.5 L195.4 369.4 L196.3 369.3 L197.2 369.2 L198.1 369.0 L199.0 368.9 L199.9 368.8 L200.8 368.7 L201.7 368.6 L202.6 368.5 L203.5 368.4 L204.4 368.3 L205.3 368.2 L206.2 368.1 L207.1 368.0 L208.0 367.9 L208.9 367.8 L209.8 367.7 L210.7 367.6 L211.6 367.5 L212.5 367.4 L213.4 367.4 L214.3 367.3 L215.2 367.2 L216.1 367.1 L217.0 367.0 L217.9 366.9 L218.8 366.9 L219.7 366.8 L220.6 366.7 L221.5 366.6 L222.4 366.6 L223.3 366.5 L224.2 366.4 L225.1 366.4 L226.0 366.3 L226.9 366.2 L227.8 366.2 L228.7 366.1 L229.6 366.1 L230.5 366.1 L231.4 366.0 L232.3 366.0" stroke="#B66FBC" stroke-width="1.05"/>
<path d="M169.2 373.8 L170.1 373.6 L171.0 373.3 L171.9 373.1 L172.8 372.8 L173.7 372.6 L174.6 372.4 L175.5 372.1 L176.4 371.9 L177.3 371.7 L178.2 371.4 L179.1 371.2 L180.0 371.0 L180.9 370.8 L181.8 370.5 L182.7 370.3 L183.6 370.1 L184.5 369.9 L185.4 369.7 L186.3 369.5 L187.2 369.3 L188.1 369.1 L189.0 369.0 L190.0 368.8 L190.9 368.6 L191.8 368.5 L192.7 368.3 L193.6 368.2 L194.5 368.0 L195.4 367.9 L196.3 367.8 L197.2 367.6 L198.1 367.5 L199.0 367.4 L199.9 367.2 L200.8 367.1 L201.7 367.0 L202.6 366.8 L203.5 366.7 L204.4 366.6 L205.3 366.4 L206.2 366.3 L207.1 366.2 L208.0 366.1 L208.9 365.9 L209.8 365.8 L210.7 365.7 L211.6 365.6 L212.5 365.5 L213.4 365.4 L214.3 365.2 L215.2 365.1 L216.1 365.0 L217.0 364.9 L217.9 364.8 L218.8 364.7 L219.7 364.6 L220.6 364.5 L221.5 364.5 L222.4 364.4 L223.3 364.3 L224.2 364.2 L225.1 364.1 L226.0 364.1 L226.9 364.0 L227.8 363.9 L228.7 363.9 L229.6 363.8 L230.5 363.8 L231.4 363.7 L232.3 363.7" stroke="#7085C2" stroke-width="1.05"/>
<path d="M169.2 373.8 L170.1 373.4 L171.0 373.1 L171.9 372.7 L172.8 372.4 L173.7 372.0 L174.6 371.7 L175.5 371.3 L176.4 371.0 L177.3 370.7 L178.2 370.3 L179.1 370.0 L180.0 369.7 L180.9 369.3 L181.8 369.0 L182.7 368.7 L183.6 368.4 L184.5 368.1 L185.4 367.8 L186.3 367.5 L187.2 367.3 L188.1 367.0 L189.0 366.7 L190.0 366.5 L190.9 366.3 L191.8 366.0 L192.7 365.8 L193.6 365.6 L194.5 365.4 L195.4 365.3 L196.3 365.1 L197.2 364.9 L198.1 364.7 L199.0 364.6 L199.9 364.4 L200.8 364.2 L201.7 364.1 L202.6 363.9 L203.5 363.7 L204.4 363.6 L205.3 363.4 L206.2 363.2 L207.1 363.1 L208.0 362.9 L208.9 362.8 L209.8 362.6 L210.7 362.5 L211.6 362.3 L212.5 362.2 L213.4 362.0 L214.3 361.9 L215.2 361.8 L216.1 361.6 L217.0 361.5 L217.9 361.4 L218.8 361.3 L219.7 361.1 L220.6 361.0 L221.5 360.9 L222.4 360.8 L223.3 360.7 L224.2 360.6 L225.1 360.6 L226.0 360.5 L226.9 360.4 L227.8 360.3 L228.7 360.3 L229.6 360.2 L230.5 360.2 L231.4 360.1 L232.3 360.1" stroke="#64A6AE" stroke-width="1.05"/>
<path d="M169.2 373.8 L170.1 373.1 L171.0 372.3 L171.9 371.6 L172.8 370.9 L173.7 370.1 L174.6 369.4 L175.5 368.7 L176.4 368.1 L177.3 367.4 L178.2 366.8 L179.1 366.2 L180.0 365.6 L180.9 365.0 L181.8 364.5 L182.7 364.1 L183.6 363.7 L184.5 363.3 L185.4 362.9 L186.3 362.6 L187.2 362.2 L188.1 361.9 L189.0 361.6 L190.0 361.3 L190.9 361.0 L191.8 360.7 L192.7 360.4 L193.6 360.1 L194.5 359.8 L195.4 359.5 L196.3 359.2 L197.2 359.0 L198.1 358.7 L199.0 358.5 L199.9 358.2 L200.8 358.0 L201.7 357.8 L202.6 357.6 L203.5 357.4 L204.4 357.2 L205.3 357.1 L206.2 356.9 L207.1 356.7 L208.0 356.6 L208.9 356.4 L209.8 356.2 L210.7 356.0 L211.6 355.9 L212.5 355.7 L213.4 355.5 L214.3 355.4 L215.2 355.2 L216.1 355.0 L217.0 354.9 L217.9 354.7 L218.8 354.6 L219.7 354.4 L220.6 354.3 L221.5 354.1 L222.4 354.0 L223.3 353.9 L224.2 353.8 L225.1 353.6 L226.0 353.5 L226.9 353.4 L227.8 353.3 L228.7 353.2 L229.6 353.1 L230.5 353.1 L231.4 353.0 L232.3 352.9" stroke="#6C9A62" stroke-width="1.05"/>
<path d="M169.2 373.8 L170.1 370.8 L171.0 367.8 L171.9 365.1 L172.8 362.6 L173.7 360.4 L174.6 358.7 L175.5 357.1 L176.4 355.6 L177.3 354.2 L178.2 352.8 L179.1 351.6 L180.0 350.4 L180.9 349.3 L181.8 348.4 L182.7 347.7 L183.6 347.0 L184.5 346.3 L185.4 345.6 L186.3 345.0 L187.2 344.3 L188.1 343.7 L189.0 343.2 L190.0 342.7 L190.9 342.2 L191.8 341.9 L192.7 341.6 L193.6 341.4 L194.5 341.2 L195.4 341.0 L196.3 340.8 L197.2 340.6 L198.1 340.4 L199.0 340.2 L199.9 340.0 L200.8 339.9 L201.7 339.7 L202.6 339.6 L203.5 339.5 L204.4 339.5 L205.3 339.4 L206.2 339.4 L207.1 339.4 L208.0 339.3 L208.9 339.3 L209.8 339.3 L210.7 339.3 L211.6 339.3 L212.5 339.3 L213.4 339.3 L214.3 339.3 L215.2 339.3 L216.1 339.3 L217.0 339.3 L217.9 339.3 L218.8 339.3 L219.7 339.4 L220.6 339.4 L221.5 339.4 L222.4 339.4 L223.3 339.5 L224.2 339.5 L225.1 339.6 L226.0 339.6 L226.9 339.7 L227.8 339.7 L228.7 339.8 L229.6 339.8 L230.5 339.9 L231.4 340.0 L232.3 340.1" stroke="#A9A250" stroke-width="1.05"/>
<path d="M169.2 373.8 L170.1 373.9 L171.0 373.9 L171.9 373.8 L172.8 373.8 L173.7 373.7 L174.6 373.6 L175.5 373.5 L176.4 373.3 L177.3 373.0 L178.2 372.6 L179.1 372.2 L180.0 371.8 L180.9 371.3 L181.8 370.8 L182.7 370.0 L183.6 369.0 L184.5 367.7 L185.4 365.7 L186.3 362.4 L187.2 358.3 L188.1 354.0 L189.0 350.0 L190.0 346.1 L190.9 342.1 L191.8 338.0 L192.7 334.0 L193.6 330.0 L194.5 326.2 L195.4 322.5 L196.3 319.0 L197.2 315.5 L198.1 312.0 L199.0 308.3 L199.9 304.9 L200.8 302.0 L201.7 299.9 L202.6 298.1 L203.5 296.4 L204.4 294.9 L205.3 293.8 L206.2 292.9 L207.1 292.2 L208.0 291.6 L208.9 291.0 L209.8 290.4 L210.7 290.0 L211.6 289.7 L212.5 289.5 L213.4 289.6 L214.3 289.7 L215.2 289.9 L216.1 290.2 L217.0 290.6 L217.9 291.0 L218.8 291.5 L219.7 292.0 L220.6 292.7 L221.5 293.6 L222.4 294.5 L223.3 295.5 L224.2 296.5 L225.1 297.6 L226.0 298.7 L226.9 299.8 L227.8 301.0 L228.7 302.3 L229.6 303.7 L230.5 305.1 L231.4 306.6 L232.3 308.1" stroke="#B06A68" stroke-width="1.05"/>
</g>
<rect x="166.36" y="276.30" width="69.60" height="102.80" fill="none" stroke="#BDBDBD" stroke-width="0.9"/>
<rect x="166.36" y="268.10" width="69.60" height="8.20" fill="#D6D6D6" stroke="#A8A8A8" stroke-width="0.9"/>
<text x="201.16" y="274.20" font-size="4.67" fill="#2a2a2a" stroke="#2a2a2a" stroke-width="0.06" text-anchor="middle">0.07</text>
<line x1="169.21" y1="379.10" x2="169.21" y2="380.50" stroke="#4D4D4D" stroke-width="0.6"/><text x="169.21" y="385.00" font-size="4.36" fill="#505050" text-anchor="middle">0</text><line x1="181.81" y1="379.10" x2="181.81" y2="380.50" stroke="#4D4D4D" stroke-width="0.6"/><text x="181.81" y="385.00" font-size="4.36" fill="#505050" text-anchor="middle">1</text><line x1="194.41" y1="379.10" x2="194.41" y2="380.50" stroke="#4D4D4D" stroke-width="0.6"/><text x="194.41" y="385.00" font-size="4.36" fill="#505050" text-anchor="middle">2</text><line x1="207.01" y1="379.10" x2="207.01" y2="380.50" stroke="#4D4D4D" stroke-width="0.6"/><text x="207.01" y="385.00" font-size="4.36" fill="#505050" text-anchor="middle">3</text><line x1="219.61" y1="379.10" x2="219.61" y2="380.50" stroke="#4D4D4D" stroke-width="0.6"/><text x="219.61" y="385.00" font-size="4.36" fill="#505050" text-anchor="middle">4</text><line x1="232.21" y1="379.10" x2="232.21" y2="380.50" stroke="#4D4D4D" stroke-width="0.6"/><text x="232.21" y="385.00" font-size="4.36" fill="#505050" text-anchor="middle">5</text>
<clipPath id="cC3"><rect x="238.39" y="276.30" width="69.60" height="102.80"/></clipPath>
<line x1="241.24" y1="276.30" x2="241.24" y2="379.10" stroke="#F0F0F0" stroke-width="0.6"/><line x1="247.54" y1="276.30" x2="247.54" y2="379.10" stroke="#F6F6F6" stroke-width="0.6"/><line x1="253.84" y1="276.30" x2="253.84" y2="379.10" stroke="#F0F0F0" stroke-width="0.6"/><line x1="260.14" y1="276.30" x2="260.14" y2="379.10" stroke="#F6F6F6" stroke-width="0.6"/><line x1="266.44" y1="276.30" x2="266.44" y2="379.10" stroke="#F0F0F0" stroke-width="0.6"/><line x1="272.74" y1="276.30" x2="272.74" y2="379.10" stroke="#F6F6F6" stroke-width="0.6"/><line x1="279.04" y1="276.30" x2="279.04" y2="379.10" stroke="#F0F0F0" stroke-width="0.6"/><line x1="285.34" y1="276.30" x2="285.34" y2="379.10" stroke="#F6F6F6" stroke-width="0.6"/><line x1="291.64" y1="276.30" x2="291.64" y2="379.10" stroke="#F0F0F0" stroke-width="0.6"/><line x1="297.94" y1="276.30" x2="297.94" y2="379.10" stroke="#F6F6F6" stroke-width="0.6"/><line x1="304.24" y1="276.30" x2="304.24" y2="379.10" stroke="#F0F0F0" stroke-width="0.6"/><line x1="238.39" y1="373.80" x2="307.99" y2="373.80" stroke="#F0F0F0" stroke-width="0.6"/><line x1="238.39" y1="357.50" x2="307.99" y2="357.50" stroke="#F6F6F6" stroke-width="0.6"/><line x1="238.39" y1="341.20" x2="307.99" y2="341.20" stroke="#F0F0F0" stroke-width="0.6"/><line x1="238.39" y1="324.90" x2="307.99" y2="324.90" stroke="#F6F6F6" stroke-width="0.6"/><line x1="238.39" y1="308.60" x2="307.99" y2="308.60" stroke="#F0F0F0" stroke-width="0.6"/><line x1="238.39" y1="292.30" x2="307.99" y2="292.30" stroke="#F6F6F6" stroke-width="0.6"/>
<g clip-path="url(#cC3)" fill="none" stroke-linecap="round" stroke-linejoin="round">
<path d="M241.2 373.8 L242.1 373.6 L243.0 373.5 L243.9 373.3 L244.8 373.1 L245.7 372.9 L246.7 372.7 L247.6 372.5 L248.5 372.3 L249.4 372.2 L250.3 372.0 L251.2 371.8 L252.1 371.6 L253.0 371.4 L253.9 371.2 L254.8 371.0 L255.7 370.8 L256.6 370.5 L257.5 370.3 L258.4 370.1 L259.3 369.9 L260.2 369.7 L261.1 369.4 L262.0 369.2 L262.9 368.9 L263.8 368.7 L264.7 368.4 L265.6 368.2 L266.5 367.9 L267.4 367.7 L268.3 367.4 L269.2 367.2 L270.1 366.9 L271.0 366.7 L271.9 366.5 L272.8 366.3 L273.7 366.1 L274.6 365.9 L275.5 365.7 L276.4 365.5 L277.3 365.3 L278.2 365.2 L279.1 365.0 L280.0 364.9 L280.9 364.7 L281.8 364.6 L282.7 364.5 L283.6 364.3 L284.5 364.2 L285.4 364.1 L286.3 363.9 L287.2 363.8 L288.1 363.7 L289.0 363.6 L289.9 363.4 L290.8 363.3 L291.7 363.2 L292.6 363.1 L293.5 363.0 L294.4 362.9 L295.3 362.8 L296.2 362.7 L297.2 362.7 L298.1 362.6 L299.0 362.5 L299.9 362.5 L300.8 362.4 L301.7 362.3 L302.6 362.3 L303.5 362.3 L304.4 362.2" stroke="#B66FBC" stroke-opacity="0.13" stroke-width="3.4"/>
<path d="M241.2 373.8 L242.1 373.4 L243.0 372.9 L243.9 372.5 L244.8 372.1 L245.7 371.7 L246.7 371.3 L247.6 370.9 L248.5 370.5 L249.4 370.1 L250.3 369.7 L251.2 369.4 L252.1 369.0 L253.0 368.7 L253.9 368.4 L254.8 368.0 L255.7 367.7 L256.6 367.5 L257.5 367.2 L258.4 366.9 L259.3 366.6 L260.2 366.4 L261.1 366.1 L262.0 365.8 L262.9 365.6 L263.8 365.3 L264.7 365.1 L265.6 364.8 L266.5 364.6 L267.4 364.3 L268.3 364.1 L269.2 363.9 L270.1 363.7 L271.0 363.5 L271.9 363.3 L272.8 363.1 L273.7 362.9 L274.6 362.7 L275.5 362.5 L276.4 362.4 L277.3 362.2 L278.2 362.1 L279.1 362.0 L280.0 361.8 L280.9 361.7 L281.8 361.6 L282.7 361.4 L283.6 361.3 L284.5 361.2 L285.4 361.0 L286.3 360.9 L287.2 360.8 L288.1 360.6 L289.0 360.5 L289.9 360.4 L290.8 360.3 L291.7 360.2 L292.6 360.1 L293.5 360.0 L294.4 359.9 L295.3 359.8 L296.2 359.7 L297.2 359.6 L298.1 359.5 L299.0 359.4 L299.9 359.4 L300.8 359.3 L301.7 359.3 L302.6 359.2 L303.5 359.2 L304.4 359.1" stroke="#7085C2" stroke-opacity="0.13" stroke-width="3.4"/>
<path d="M241.2 373.8 L242.1 373.1 L243.0 372.5 L243.9 371.8 L244.8 371.2 L245.7 370.6 L246.7 369.9 L247.6 369.3 L248.5 368.7 L249.4 368.1 L250.3 367.6 L251.2 367.0 L252.1 366.5 L253.0 366.0 L253.9 365.6 L254.8 365.1 L255.7 364.7 L256.6 364.4 L257.5 364.0 L258.4 363.7 L259.3 363.4 L260.2 363.0 L261.1 362.7 L262.0 362.4 L262.9 362.1 L263.8 361.8 L264.7 361.5 L265.6 361.2 L266.5 360.9 L267.4 360.6 L268.3 360.4 L269.2 360.1 L270.1 359.9 L271.0 359.6 L271.9 359.4 L272.8 359.2 L273.7 358.9 L274.6 358.7 L275.5 358.5 L276.4 358.3 L277.3 358.2 L278.2 358.0 L279.1 357.8 L280.0 357.7 L280.9 357.5 L281.8 357.3 L282.7 357.1 L283.6 357.0 L284.5 356.8 L285.4 356.6 L286.3 356.4 L287.2 356.3 L288.1 356.1 L289.0 355.9 L289.9 355.8 L290.8 355.6 L291.7 355.5 L292.6 355.3 L293.5 355.2 L294.4 355.0 L295.3 354.9 L296.2 354.8 L297.2 354.6 L298.1 354.5 L299.0 354.4 L299.9 354.3 L300.8 354.2 L301.7 354.1 L302.6 354.0 L303.5 354.0 L304.4 353.9" stroke="#64A6AE" stroke-opacity="0.13" stroke-width="3.4"/>
<path d="M241.2 373.8 L242.1 373.0 L243.0 372.2 L243.9 371.4 L244.8 370.6 L245.7 369.8 L246.7 368.9 L247.6 368.1 L248.5 367.2 L249.4 366.3 L250.3 365.4 L251.2 364.6 L252.1 363.7 L253.0 362.9 L253.9 362.0 L254.8 361.2 L255.7 360.3 L256.6 359.5 L257.5 358.8 L258.4 358.2 L259.3 357.6 L260.2 357.1 L261.1 356.6 L262.0 356.1 L262.9 355.7 L263.8 355.2 L264.7 354.8 L265.6 354.5 L266.5 354.1 L267.4 353.8 L268.3 353.5 L269.2 353.2 L270.1 352.9 L271.0 352.6 L271.9 352.3 L272.8 352.0 L273.7 351.7 L274.6 351.4 L275.5 351.1 L276.4 350.8 L277.3 350.5 L278.2 350.3 L279.1 350.0 L280.0 349.7 L280.9 349.5 L281.8 349.2 L282.7 349.0 L283.6 348.7 L284.5 348.5 L285.4 348.2 L286.3 348.0 L287.2 347.7 L288.1 347.5 L289.0 347.3 L289.9 347.0 L290.8 346.8 L291.7 346.5 L292.6 346.3 L293.5 346.1 L294.4 345.8 L295.3 345.6 L296.2 345.4 L297.2 345.2 L298.1 344.9 L299.0 344.7 L299.9 344.5 L300.8 344.3 L301.7 344.1 L302.6 343.9 L303.5 343.7 L304.4 343.5" stroke="#6C9A62" stroke-opacity="0.13" stroke-width="3.4"/>
<path d="M241.2 373.8 L242.1 373.1 L243.0 372.3 L243.9 371.4 L244.8 370.3 L245.7 369.2 L246.7 367.9 L247.6 366.6 L248.5 365.3 L249.4 363.9 L250.3 362.3 L251.2 360.7 L252.1 358.9 L253.0 357.0 L253.9 355.1 L254.8 353.2 L255.7 351.3 L256.6 349.5 L257.5 347.6 L258.4 345.7 L259.3 343.7 L260.2 341.7 L261.1 339.7 L262.0 337.8 L262.9 336.0 L263.8 334.4 L264.7 333.0 L265.6 331.8 L266.5 330.7 L267.4 329.7 L268.3 328.9 L269.2 328.4 L270.1 327.8 L271.0 327.3 L271.9 326.8 L272.8 326.4 L273.7 326.1 L274.6 325.9 L275.5 325.8 L276.4 325.7 L277.3 325.6 L278.2 325.5 L279.1 325.4 L280.0 325.4 L280.9 325.3 L281.8 325.2 L282.7 325.1 L283.6 325.1 L284.5 325.0 L285.4 325.0 L286.3 324.9 L287.2 324.9 L288.1 324.9 L289.0 324.9 L289.9 324.9 L290.8 324.9 L291.7 324.9 L292.6 324.8 L293.5 324.8 L294.4 324.8 L295.3 324.8 L296.2 324.8 L297.2 324.8 L298.1 324.8 L299.0 324.8 L299.9 324.8 L300.8 324.8 L301.7 324.8 L302.6 324.9 L303.5 324.9 L304.4 324.9" stroke="#A9A250" stroke-opacity="0.13" stroke-width="3.4"/>
<path d="M241.2 373.8 L242.1 373.8 L243.0 373.8 L243.9 373.9 L244.8 373.9 L245.7 373.9 L246.7 373.8 L247.6 373.8 L248.5 373.8 L249.4 373.8 L250.3 373.7 L251.2 373.6 L252.1 373.6 L253.0 373.5 L253.9 373.4 L254.8 373.3 L255.7 373.2 L256.6 373.1 L257.5 372.9 L258.4 372.7 L259.3 372.5 L260.2 372.1 L261.1 371.0 L262.0 369.6 L262.9 367.9 L263.8 366.0 L264.7 364.1 L265.6 361.9 L266.5 359.4 L267.4 356.7 L268.3 353.8 L269.2 350.9 L270.1 348.1 L271.0 345.1 L271.9 342.2 L272.8 339.1 L273.7 336.0 L274.6 332.9 L275.5 329.9 L276.4 326.8 L277.3 323.9 L278.2 321.0 L279.1 318.0 L280.0 315.0 L280.9 312.2 L281.8 309.6 L282.7 307.2 L283.6 305.1 L284.5 303.2 L285.4 301.5 L286.3 299.8 L287.2 298.2 L288.1 296.6 L289.0 295.0 L289.9 293.4 L290.8 292.0 L291.7 290.7 L292.6 289.6 L293.5 288.6 L294.4 287.6 L295.3 286.6 L296.2 285.8 L297.2 285.0 L298.1 284.4 L299.0 283.8 L299.9 283.3 L300.8 282.7 L301.7 282.2 L302.6 281.8 L303.5 281.5 L304.4 281.2" stroke="#B06A68" stroke-opacity="0.13" stroke-width="3.4"/>
<path d="M241.2 373.8 L242.1 373.6 L243.0 373.5 L243.9 373.3 L244.8 373.1 L245.7 372.9 L246.7 372.7 L247.6 372.5 L248.5 372.3 L249.4 372.2 L250.3 372.0 L251.2 371.8 L252.1 371.6 L253.0 371.4 L253.9 371.2 L254.8 371.0 L255.7 370.8 L256.6 370.5 L257.5 370.3 L258.4 370.1 L259.3 369.9 L260.2 369.7 L261.1 369.4 L262.0 369.2 L262.9 368.9 L263.8 368.7 L264.7 368.4 L265.6 368.2 L266.5 367.9 L267.4 367.7 L268.3 367.4 L269.2 367.2 L270.1 366.9 L271.0 366.7 L271.9 366.5 L272.8 366.3 L273.7 366.1 L274.6 365.9 L275.5 365.7 L276.4 365.5 L277.3 365.3 L278.2 365.2 L279.1 365.0 L280.0 364.9 L280.9 364.7 L281.8 364.6 L282.7 364.5 L283.6 364.3 L284.5 364.2 L285.4 364.1 L286.3 363.9 L287.2 363.8 L288.1 363.7 L289.0 363.6 L289.9 363.4 L290.8 363.3 L291.7 363.2 L292.6 363.1 L293.5 363.0 L294.4 362.9 L295.3 362.8 L296.2 362.7 L297.2 362.7 L298.1 362.6 L299.0 362.5 L299.9 362.5 L300.8 362.4 L301.7 362.3 L302.6 362.3 L303.5 362.3 L304.4 362.2" stroke="#B66FBC" stroke-width="1.05"/>
<path d="M241.2 373.8 L242.1 373.4 L243.0 372.9 L243.9 372.5 L244.8 372.1 L245.7 371.7 L246.7 371.3 L247.6 370.9 L248.5 370.5 L249.4 370.1 L250.3 369.7 L251.2 369.4 L252.1 369.0 L253.0 368.7 L253.9 368.4 L254.8 368.0 L255.7 367.7 L256.6 367.5 L257.5 367.2 L258.4 366.9 L259.3 366.6 L260.2 366.4 L261.1 366.1 L262.0 365.8 L262.9 365.6 L263.8 365.3 L264.7 365.1 L265.6 364.8 L266.5 364.6 L267.4 364.3 L268.3 364.1 L269.2 363.9 L270.1 363.7 L271.0 363.5 L271.9 363.3 L272.8 363.1 L273.7 362.9 L274.6 362.7 L275.5 362.5 L276.4 362.4 L277.3 362.2 L278.2 362.1 L279.1 362.0 L280.0 361.8 L280.9 361.7 L281.8 361.6 L282.7 361.4 L283.6 361.3 L284.5 361.2 L285.4 361.0 L286.3 360.9 L287.2 360.8 L288.1 360.6 L289.0 360.5 L289.9 360.4 L290.8 360.3 L291.7 360.2 L292.6 360.1 L293.5 360.0 L294.4 359.9 L295.3 359.8 L296.2 359.7 L297.2 359.6 L298.1 359.5 L299.0 359.4 L299.9 359.4 L300.8 359.3 L301.7 359.3 L302.6 359.2 L303.5 359.2 L304.4 359.1" stroke="#7085C2" stroke-width="1.05"/>
<path d="M241.2 373.8 L242.1 373.1 L243.0 372.5 L243.9 371.8 L244.8 371.2 L245.7 370.6 L246.7 369.9 L247.6 369.3 L248.5 368.7 L249.4 368.1 L250.3 367.6 L251.2 367.0 L252.1 366.5 L253.0 366.0 L253.9 365.6 L254.8 365.1 L255.7 364.7 L256.6 364.4 L257.5 364.0 L258.4 363.7 L259.3 363.4 L260.2 363.0 L261.1 362.7 L262.0 362.4 L262.9 362.1 L263.8 361.8 L264.7 361.5 L265.6 361.2 L266.5 360.9 L267.4 360.6 L268.3 360.4 L269.2 360.1 L270.1 359.9 L271.0 359.6 L271.9 359.4 L272.8 359.2 L273.7 358.9 L274.6 358.7 L275.5 358.5 L276.4 358.3 L277.3 358.2 L278.2 358.0 L279.1 357.8 L280.0 357.7 L280.9 357.5 L281.8 357.3 L282.7 357.1 L283.6 357.0 L284.5 356.8 L285.4 356.6 L286.3 356.4 L287.2 356.3 L288.1 356.1 L289.0 355.9 L289.9 355.8 L290.8 355.6 L291.7 355.5 L292.6 355.3 L293.5 355.2 L294.4 355.0 L295.3 354.9 L296.2 354.8 L297.2 354.6 L298.1 354.5 L299.0 354.4 L299.9 354.3 L300.8 354.2 L301.7 354.1 L302.6 354.0 L303.5 354.0 L304.4 353.9" stroke="#64A6AE" stroke-width="1.05"/>
<path d="M241.2 373.8 L242.1 373.0 L243.0 372.2 L243.9 371.4 L244.8 370.6 L245.7 369.8 L246.7 368.9 L247.6 368.1 L248.5 367.2 L249.4 366.3 L250.3 365.4 L251.2 364.6 L252.1 363.7 L253.0 362.9 L253.9 362.0 L254.8 361.2 L255.7 360.3 L256.6 359.5 L257.5 358.8 L258.4 358.2 L259.3 357.6 L260.2 357.1 L261.1 356.6 L262.0 356.1 L262.9 355.7 L263.8 355.2 L264.7 354.8 L265.6 354.5 L266.5 354.1 L267.4 353.8 L268.3 353.5 L269.2 353.2 L270.1 352.9 L271.0 352.6 L271.9 352.3 L272.8 352.0 L273.7 351.7 L274.6 351.4 L275.5 351.1 L276.4 350.8 L277.3 350.5 L278.2 350.3 L279.1 350.0 L280.0 349.7 L280.9 349.5 L281.8 349.2 L282.7 349.0 L283.6 348.7 L284.5 348.5 L285.4 348.2 L286.3 348.0 L287.2 347.7 L288.1 347.5 L289.0 347.3 L289.9 347.0 L290.8 346.8 L291.7 346.5 L292.6 346.3 L293.5 346.1 L294.4 345.8 L295.3 345.6 L296.2 345.4 L297.2 345.2 L298.1 344.9 L299.0 344.7 L299.9 344.5 L300.8 344.3 L301.7 344.1 L302.6 343.9 L303.5 343.7 L304.4 343.5" stroke="#6C9A62" stroke-width="1.05"/>
<path d="M241.2 373.8 L242.1 373.1 L243.0 372.3 L243.9 371.4 L244.8 370.3 L245.7 369.2 L246.7 367.9 L247.6 366.6 L248.5 365.3 L249.4 363.9 L250.3 362.3 L251.2 360.7 L252.1 358.9 L253.0 357.0 L253.9 355.1 L254.8 353.2 L255.7 351.3 L256.6 349.5 L257.5 347.6 L258.4 345.7 L259.3 343.7 L260.2 341.7 L261.1 339.7 L262.0 337.8 L262.9 336.0 L263.8 334.4 L264.7 333.0 L265.6 331.8 L266.5 330.7 L267.4 329.7 L268.3 328.9 L269.2 328.4 L270.1 327.8 L271.0 327.3 L271.9 326.8 L272.8 326.4 L273.7 326.1 L274.6 325.9 L275.5 325.8 L276.4 325.7 L277.3 325.6 L278.2 325.5 L279.1 325.4 L280.0 325.4 L280.9 325.3 L281.8 325.2 L282.7 325.1 L283.6 325.1 L284.5 325.0 L285.4 325.0 L286.3 324.9 L287.2 324.9 L288.1 324.9 L289.0 324.9 L289.9 324.9 L290.8 324.9 L291.7 324.9 L292.6 324.8 L293.5 324.8 L294.4 324.8 L295.3 324.8 L296.2 324.8 L297.2 324.8 L298.1 324.8 L299.0 324.8 L299.9 324.8 L300.8 324.8 L301.7 324.8 L302.6 324.9 L303.5 324.9 L304.4 324.9" stroke="#A9A250" stroke-width="1.05"/>
<path d="M241.2 373.8 L242.1 373.8 L243.0 373.8 L243.9 373.9 L244.8 373.9 L245.7 373.9 L246.7 373.8 L247.6 373.8 L248.5 373.8 L249.4 373.8 L250.3 373.7 L251.2 373.6 L252.1 373.6 L253.0 373.5 L253.9 373.4 L254.8 373.3 L255.7 373.2 L256.6 373.1 L257.5 372.9 L258.4 372.7 L259.3 372.5 L260.2 372.1 L261.1 371.0 L262.0 369.6 L262.9 367.9 L263.8 366.0 L264.7 364.1 L265.6 361.9 L266.5 359.4 L267.4 356.7 L268.3 353.8 L269.2 350.9 L270.1 348.1 L271.0 345.1 L271.9 342.2 L272.8 339.1 L273.7 336.0 L274.6 332.9 L275.5 329.9 L276.4 326.8 L277.3 323.9 L278.2 321.0 L279.1 318.0 L280.0 315.0 L280.9 312.2 L281.8 309.6 L282.7 307.2 L283.6 305.1 L284.5 303.2 L285.4 301.5 L286.3 299.8 L287.2 298.2 L288.1 296.6 L289.0 295.0 L289.9 293.4 L290.8 292.0 L291.7 290.7 L292.6 289.6 L293.5 288.6 L294.4 287.6 L295.3 286.6 L296.2 285.8 L297.2 285.0 L298.1 284.4 L299.0 283.8 L299.9 283.3 L300.8 282.7 L301.7 282.2 L302.6 281.8 L303.5 281.5 L304.4 281.2" stroke="#B06A68" stroke-width="1.05"/>
</g>
<rect x="238.39" y="276.30" width="69.60" height="102.80" fill="none" stroke="#BDBDBD" stroke-width="0.9"/>
<rect x="238.39" y="268.10" width="69.60" height="8.20" fill="#D6D6D6" stroke="#A8A8A8" stroke-width="0.9"/>
<text x="273.19" y="274.20" font-size="4.67" fill="#2a2a2a" stroke="#2a2a2a" stroke-width="0.06" text-anchor="middle">0.1</text>
<line x1="241.24" y1="379.10" x2="241.24" y2="380.50" stroke="#4D4D4D" stroke-width="0.6"/><text x="241.24" y="385.00" font-size="4.36" fill="#505050" text-anchor="middle">0</text><line x1="253.84" y1="379.10" x2="253.84" y2="380.50" stroke="#4D4D4D" stroke-width="0.6"/><text x="253.84" y="385.00" font-size="4.36" fill="#505050" text-anchor="middle">1</text><line x1="266.44" y1="379.10" x2="266.44" y2="380.50" stroke="#4D4D4D" stroke-width="0.6"/><text x="266.44" y="385.00" font-size="4.36" fill="#505050" text-anchor="middle">2</text><line x1="279.04" y1="379.10" x2="279.04" y2="380.50" stroke="#4D4D4D" stroke-width="0.6"/><text x="279.04" y="385.00" font-size="4.36" fill="#505050" text-anchor="middle">3</text><line x1="291.64" y1="379.10" x2="291.64" y2="380.50" stroke="#4D4D4D" stroke-width="0.6"/><text x="291.64" y="385.00" font-size="4.36" fill="#505050" text-anchor="middle">4</text><line x1="304.24" y1="379.10" x2="304.24" y2="380.50" stroke="#4D4D4D" stroke-width="0.6"/><text x="304.24" y="385.00" font-size="4.36" fill="#505050" text-anchor="middle">5</text>
<text x="315.30" y="305.07" font-size="5.81" fill="#111" stroke="#111" stroke-width="0.22" textLength="38.16" lengthAdjust="spacingAndGlyphs">Days Since Rain</text>
<rect x="315.80" y="306.80" width="7.98" height="8.00" fill="#EEEEEE"/>
<rect x="315.80" y="307.60" width="7.98" height="6.40" fill="#B06A68" fill-opacity="0.08"/>
<line x1="316.60" y1="310.80" x2="322.98" y2="310.80" stroke="#B06A68" stroke-width="1.0" stroke-opacity="0.6"/>
<text x="325.08" y="312.56" font-size="4.98" fill="#222" stroke="#222" stroke-width="0.15">0</text>
<rect x="315.80" y="314.80" width="7.98" height="8.00" fill="#EEEEEE"/>
<rect x="315.80" y="315.60" width="7.98" height="6.40" fill="#A9A250" fill-opacity="0.08"/>
<line x1="316.60" y1="318.80" x2="322.98" y2="318.80" stroke="#A9A250" stroke-width="1.0" stroke-opacity="0.6"/>
<text x="325.08" y="320.56" font-size="4.98" fill="#222" stroke="#222" stroke-width="0.15">1</text>
<rect x="315.80" y="322.80" width="7.98" height="8.00" fill="#EEEEEE"/>
<rect x="315.80" y="323.60" width="7.98" height="6.40" fill="#6C9A62" fill-opacity="0.08"/>
<line x1="316.60" y1="326.80" x2="322.98" y2="326.80" stroke="#6C9A62" stroke-width="1.0" stroke-opacity="0.6"/>
<text x="325.08" y="328.56" font-size="4.98" fill="#222" stroke="#222" stroke-width="0.15">2</text>
<rect x="315.80" y="330.80" width="7.98" height="8.00" fill="#EEEEEE"/>
<rect x="315.80" y="331.60" width="7.98" height="6.40" fill="#64A6AE" fill-opacity="0.08"/>
<line x1="316.60" y1="334.80" x2="322.98" y2="334.80" stroke="#64A6AE" stroke-width="1.0" stroke-opacity="0.6"/>
<text x="325.08" y="336.56" font-size="4.98" fill="#222" stroke="#222" stroke-width="0.15">3</text>
<rect x="315.80" y="338.80" width="7.98" height="8.00" fill="#EEEEEE"/>
<rect x="315.80" y="339.60" width="7.98" height="6.40" fill="#7085C2" fill-opacity="0.08"/>
<line x1="316.60" y1="342.80" x2="322.98" y2="342.80" stroke="#7085C2" stroke-width="1.0" stroke-opacity="0.6"/>
<text x="325.08" y="344.56" font-size="4.98" fill="#222" stroke="#222" stroke-width="0.15">4</text>
<rect x="315.80" y="346.80" width="7.98" height="8.00" fill="#EEEEEE"/>
<rect x="315.80" y="347.60" width="7.98" height="6.40" fill="#B66FBC" fill-opacity="0.08"/>
<line x1="316.60" y1="350.80" x2="322.98" y2="350.80" stroke="#B66FBC" stroke-width="1.0" stroke-opacity="0.6"/>
<text x="325.08" y="352.56" font-size="4.98" fill="#222" stroke="#222" stroke-width="0.15">5</text>
<text x="65.0" y="395.4" font-size="8.5" fill="#1a1a1a" stroke="#1a1a1a" stroke-width="0.3" textLength="194" lengthAdjust="spacingAndGlyphs">Difference between soil and air temperature (Celsius)</text>
<text transform="translate(9.5 284.0) rotate(-90)" x="0" y="0" font-size="8.0" fill="#1a1a1a" stroke="#1a1a1a" stroke-width="0.3" textLength="190.4" lengthAdjust="spacingAndGlyphs">Difference in activity time between climbing and not</text>
</svg></body></html>
